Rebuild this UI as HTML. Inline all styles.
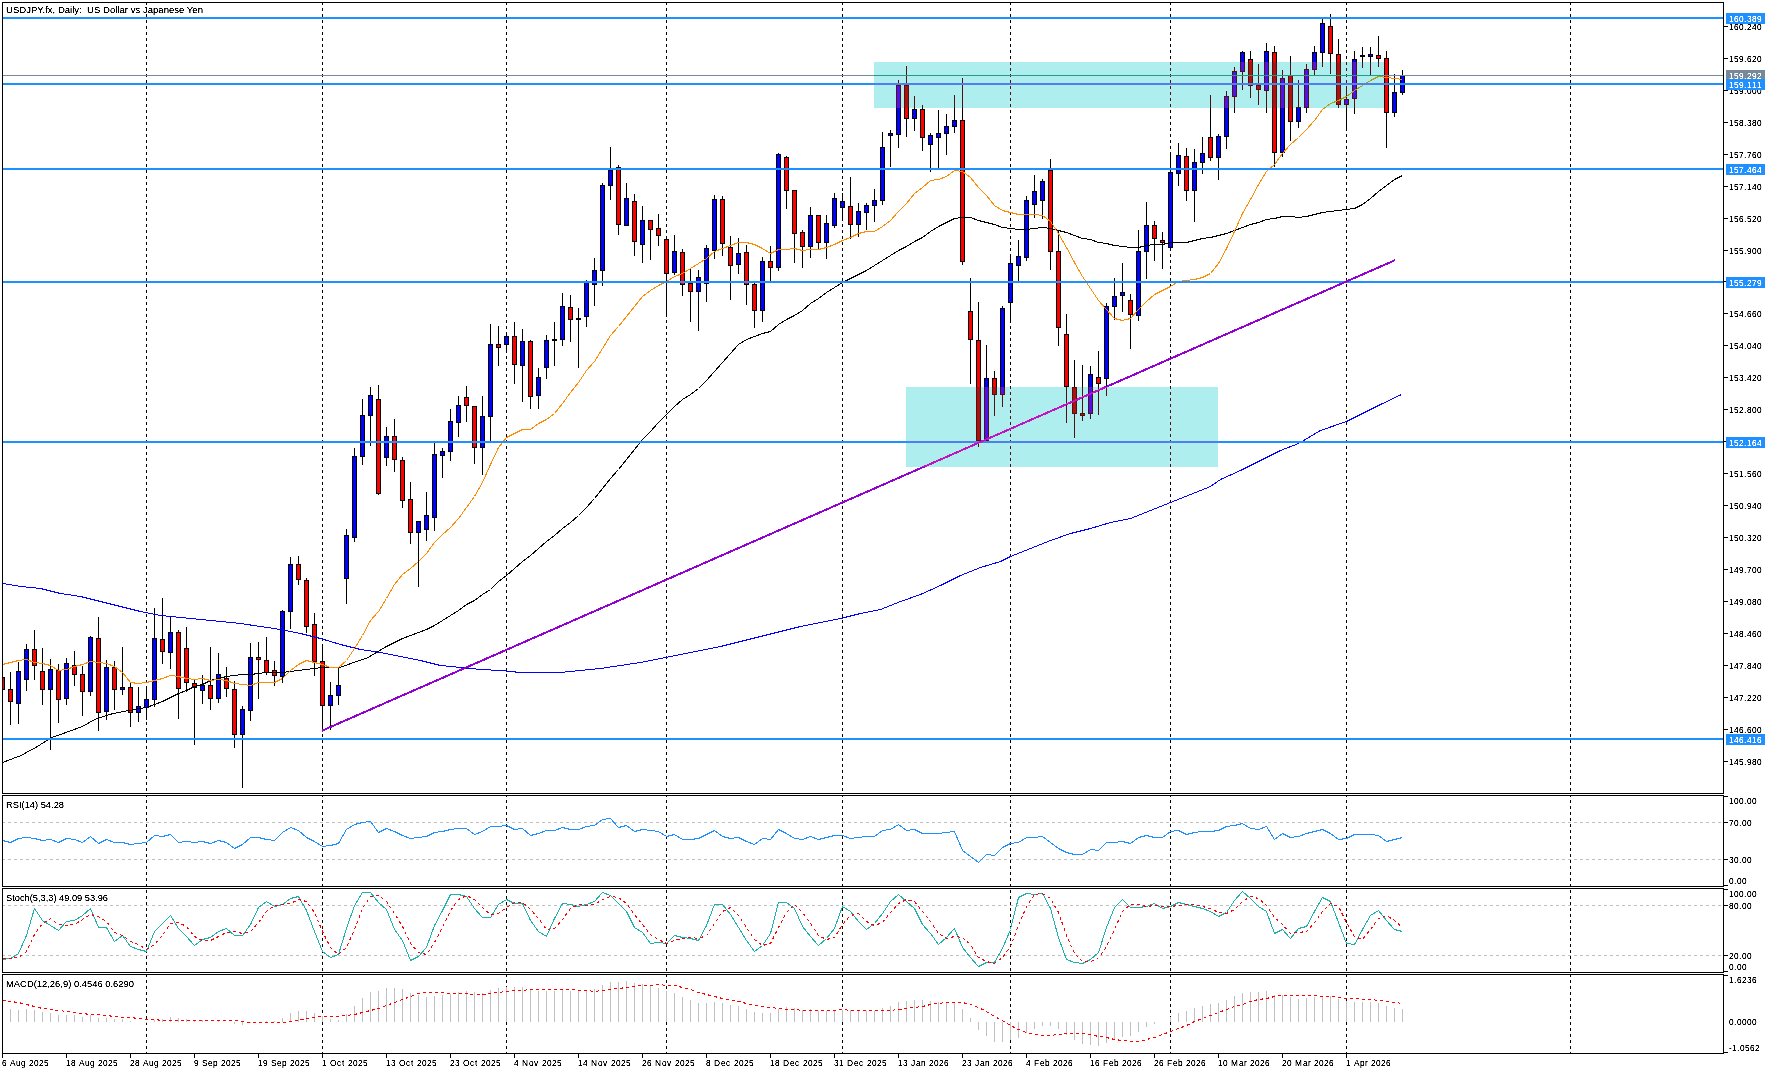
<!DOCTYPE html><html><head><meta charset="utf-8"><style>html,body{margin:0;padding:0;background:#fff;overflow:hidden}svg{display:block}text{font-family:"Liberation Sans",sans-serif;font-size:9.5px;fill:#000;white-space:pre}</style></head><body>
<svg width="1776" height="1074" viewBox="0 0 1776 1074" shape-rendering="crispEdges">
<defs><clipPath id="cm"><rect x="3" y="3" width="1720" height="790"/></clipPath><clipPath id="r1"><rect x="874" y="62" width="510" height="46"/></clipPath><clipPath id="r2"><rect x="906" y="387" width="312" height="80"/></clipPath><filter id="thr"><feComponentTransfer><feFuncA type="linear" slope="2.5" intercept="-0.5"/></feComponentTransfer></filter><clipPath id="csub1"><rect x="3" y="796" width="1720" height="90"/></clipPath><clipPath id="csub2"><rect x="3" y="889" width="1720" height="83"/></clipPath><clipPath id="csub3"><rect x="3" y="975" width="1720" height="78"/></clipPath></defs>
<rect width="1776" height="1074" fill="#fff"/>
<g clip-path="url(#cm)">
<line x1="146.5" y1="2" x2="146.5" y2="793" stroke="rgb(0,0,0)" stroke-dasharray="3 3"/>
<line x1="322.5" y1="2" x2="322.5" y2="793" stroke="rgb(0,0,0)" stroke-dasharray="3 3"/>
<line x1="506.5" y1="2" x2="506.5" y2="793" stroke="rgb(0,0,0)" stroke-dasharray="3 3"/>
<line x1="666.5" y1="2" x2="666.5" y2="793" stroke="rgb(0,0,0)" stroke-dasharray="3 3"/>
<line x1="842.5" y1="2" x2="842.5" y2="793" stroke="rgb(0,0,0)" stroke-dasharray="3 3"/>
<line x1="1010.5" y1="2" x2="1010.5" y2="793" stroke="rgb(0,0,0)" stroke-dasharray="3 3"/>
<line x1="1170.5" y1="2" x2="1170.5" y2="793" stroke="rgb(0,0,0)" stroke-dasharray="3 3"/>
<line x1="1346.5" y1="2" x2="1346.5" y2="793" stroke="rgb(0,0,0)" stroke-dasharray="3 3"/>
<line x1="1570.5" y1="2" x2="1570.5" y2="793" stroke="rgb(0,0,0)" stroke-dasharray="3 3"/>
<rect x="2" y="670" width="1" height="30" fill="rgb(0,0,0)"/>
<rect x="0" y="677" width="5" height="13" fill="rgb(0,0,0)"/>
<rect x="1" y="678" width="3" height="11" fill="rgb(255,0,0)"/>
<rect x="10" y="672" width="1" height="53" fill="rgb(0,0,0)"/>
<rect x="8" y="689" width="5" height="13" fill="rgb(0,0,0)"/>
<rect x="9" y="690" width="3" height="11" fill="rgb(255,0,0)"/>
<rect x="18" y="662" width="1" height="62" fill="rgb(0,0,0)"/>
<rect x="16" y="671" width="5" height="33" fill="rgb(0,0,0)"/>
<rect x="17" y="672" width="3" height="31" fill="rgb(0,0,255)"/>
<rect x="26" y="644" width="1" height="47" fill="rgb(0,0,0)"/>
<rect x="24" y="649" width="5" height="31" fill="rgb(0,0,0)"/>
<rect x="25" y="650" width="3" height="29" fill="rgb(0,0,255)"/>
<rect x="34" y="630" width="1" height="50" fill="rgb(0,0,0)"/>
<rect x="32" y="649" width="5" height="17" fill="rgb(0,0,0)"/>
<rect x="33" y="650" width="3" height="15" fill="rgb(255,0,0)"/>
<rect x="42" y="648" width="1" height="57" fill="rgb(0,0,0)"/>
<rect x="40" y="671" width="5" height="19" fill="rgb(0,0,0)"/>
<rect x="41" y="672" width="3" height="17" fill="rgb(255,0,0)"/>
<rect x="50" y="659" width="1" height="91" fill="rgb(0,0,0)"/>
<rect x="48" y="669" width="5" height="21" fill="rgb(0,0,0)"/>
<rect x="49" y="670" width="3" height="19" fill="rgb(0,0,255)"/>
<rect x="58" y="664" width="1" height="59" fill="rgb(0,0,0)"/>
<rect x="56" y="670" width="5" height="30" fill="rgb(0,0,0)"/>
<rect x="57" y="671" width="3" height="28" fill="rgb(255,0,0)"/>
<rect x="66" y="658" width="1" height="47" fill="rgb(0,0,0)"/>
<rect x="64" y="663" width="5" height="36" fill="rgb(0,0,0)"/>
<rect x="65" y="664" width="3" height="34" fill="rgb(0,0,255)"/>
<rect x="74" y="651" width="1" height="35" fill="rgb(0,0,0)"/>
<rect x="72" y="665" width="5" height="10" fill="rgb(0,0,0)"/>
<rect x="73" y="666" width="3" height="8" fill="rgb(255,0,0)"/>
<rect x="82" y="666" width="1" height="50" fill="rgb(0,0,0)"/>
<rect x="80" y="674" width="5" height="18" fill="rgb(0,0,0)"/>
<rect x="81" y="675" width="3" height="16" fill="rgb(255,0,0)"/>
<rect x="90" y="636" width="1" height="60" fill="rgb(0,0,0)"/>
<rect x="88" y="637" width="5" height="55" fill="rgb(0,0,0)"/>
<rect x="89" y="638" width="3" height="53" fill="rgb(0,0,255)"/>
<rect x="98" y="617" width="1" height="114" fill="rgb(0,0,0)"/>
<rect x="96" y="638" width="5" height="75" fill="rgb(0,0,0)"/>
<rect x="97" y="639" width="3" height="73" fill="rgb(255,0,0)"/>
<rect x="106" y="660" width="1" height="60" fill="rgb(0,0,0)"/>
<rect x="104" y="667" width="5" height="45" fill="rgb(0,0,0)"/>
<rect x="105" y="668" width="3" height="43" fill="rgb(0,0,255)"/>
<rect x="114" y="661" width="1" height="49" fill="rgb(0,0,0)"/>
<rect x="112" y="667" width="5" height="23" fill="rgb(0,0,0)"/>
<rect x="113" y="668" width="3" height="21" fill="rgb(255,0,0)"/>
<rect x="122" y="647" width="1" height="48" fill="rgb(0,0,0)"/>
<rect x="120" y="687" width="5" height="3" fill="rgb(0,0,0)"/>
<rect x="121" y="688" width="3" height="1" fill="rgb(0,0,255)"/>
<rect x="130" y="683" width="1" height="44" fill="rgb(0,0,0)"/>
<rect x="128" y="687" width="5" height="26" fill="rgb(0,0,0)"/>
<rect x="129" y="688" width="3" height="24" fill="rgb(255,0,0)"/>
<rect x="138" y="687" width="1" height="35" fill="rgb(0,0,0)"/>
<rect x="136" y="706" width="5" height="7" fill="rgb(0,0,0)"/>
<rect x="137" y="707" width="3" height="5" fill="rgb(0,0,255)"/>
<rect x="146" y="686" width="1" height="34" fill="rgb(0,0,0)"/>
<rect x="144" y="699" width="5" height="9" fill="rgb(0,0,0)"/>
<rect x="145" y="700" width="3" height="7" fill="rgb(0,0,255)"/>
<rect x="154" y="608" width="1" height="99" fill="rgb(0,0,0)"/>
<rect x="152" y="638" width="5" height="62" fill="rgb(0,0,0)"/>
<rect x="153" y="639" width="3" height="60" fill="rgb(0,0,255)"/>
<rect x="162" y="598" width="1" height="66" fill="rgb(0,0,0)"/>
<rect x="160" y="639" width="5" height="13" fill="rgb(0,0,0)"/>
<rect x="161" y="640" width="3" height="11" fill="rgb(255,0,0)"/>
<rect x="170" y="616" width="1" height="53" fill="rgb(0,0,0)"/>
<rect x="168" y="632" width="5" height="21" fill="rgb(0,0,0)"/>
<rect x="169" y="633" width="3" height="19" fill="rgb(0,0,255)"/>
<rect x="178" y="630" width="1" height="89" fill="rgb(0,0,0)"/>
<rect x="176" y="632" width="5" height="57" fill="rgb(0,0,0)"/>
<rect x="177" y="633" width="3" height="55" fill="rgb(255,0,0)"/>
<rect x="186" y="627" width="1" height="65" fill="rgb(0,0,0)"/>
<rect x="184" y="648" width="5" height="35" fill="rgb(0,0,0)"/>
<rect x="185" y="649" width="3" height="33" fill="rgb(255,0,0)"/>
<rect x="194" y="680" width="1" height="65" fill="rgb(0,0,0)"/>
<rect x="192" y="683" width="5" height="5" fill="rgb(0,0,0)"/>
<rect x="193" y="684" width="3" height="3" fill="rgb(255,0,0)"/>
<rect x="202" y="675" width="1" height="29" fill="rgb(0,0,0)"/>
<rect x="200" y="685" width="5" height="6" fill="rgb(0,0,0)"/>
<rect x="201" y="686" width="3" height="4" fill="rgb(0,0,255)"/>
<rect x="210" y="647" width="1" height="63" fill="rgb(0,0,0)"/>
<rect x="208" y="685" width="5" height="14" fill="rgb(0,0,0)"/>
<rect x="209" y="686" width="3" height="12" fill="rgb(255,0,0)"/>
<rect x="218" y="653" width="1" height="50" fill="rgb(0,0,0)"/>
<rect x="216" y="674" width="5" height="25" fill="rgb(0,0,0)"/>
<rect x="217" y="675" width="3" height="23" fill="rgb(0,0,255)"/>
<rect x="226" y="667" width="1" height="30" fill="rgb(0,0,0)"/>
<rect x="224" y="678" width="5" height="11" fill="rgb(0,0,0)"/>
<rect x="225" y="679" width="3" height="9" fill="rgb(255,0,0)"/>
<rect x="234" y="681" width="1" height="67" fill="rgb(0,0,0)"/>
<rect x="232" y="689" width="5" height="46" fill="rgb(0,0,0)"/>
<rect x="233" y="690" width="3" height="44" fill="rgb(255,0,0)"/>
<rect x="242" y="706" width="1" height="82" fill="rgb(0,0,0)"/>
<rect x="240" y="709" width="5" height="26" fill="rgb(0,0,0)"/>
<rect x="241" y="710" width="3" height="24" fill="rgb(0,0,255)"/>
<rect x="250" y="643" width="1" height="78" fill="rgb(0,0,0)"/>
<rect x="248" y="657" width="5" height="54" fill="rgb(0,0,0)"/>
<rect x="249" y="658" width="3" height="52" fill="rgb(0,0,255)"/>
<rect x="258" y="642" width="1" height="57" fill="rgb(0,0,0)"/>
<rect x="256" y="657" width="5" height="3" fill="rgb(0,0,0)"/>
<rect x="257" y="658" width="3" height="1" fill="rgb(255,0,0)"/>
<rect x="266" y="637" width="1" height="38" fill="rgb(0,0,0)"/>
<rect x="264" y="660" width="5" height="13" fill="rgb(0,0,0)"/>
<rect x="265" y="661" width="3" height="11" fill="rgb(255,0,0)"/>
<rect x="274" y="661" width="1" height="25" fill="rgb(0,0,0)"/>
<rect x="272" y="670" width="5" height="6" fill="rgb(0,0,0)"/>
<rect x="273" y="671" width="3" height="4" fill="rgb(255,0,0)"/>
<rect x="282" y="610" width="1" height="73" fill="rgb(0,0,0)"/>
<rect x="280" y="611" width="5" height="66" fill="rgb(0,0,0)"/>
<rect x="281" y="612" width="3" height="64" fill="rgb(0,0,255)"/>
<rect x="290" y="557" width="1" height="72" fill="rgb(0,0,0)"/>
<rect x="288" y="564" width="5" height="48" fill="rgb(0,0,0)"/>
<rect x="289" y="565" width="3" height="46" fill="rgb(0,0,255)"/>
<rect x="298" y="556" width="1" height="29" fill="rgb(0,0,0)"/>
<rect x="296" y="564" width="5" height="16" fill="rgb(0,0,0)"/>
<rect x="297" y="565" width="3" height="14" fill="rgb(255,0,0)"/>
<rect x="306" y="578" width="1" height="55" fill="rgb(0,0,0)"/>
<rect x="304" y="580" width="5" height="47" fill="rgb(0,0,0)"/>
<rect x="305" y="581" width="3" height="45" fill="rgb(255,0,0)"/>
<rect x="314" y="613" width="1" height="63" fill="rgb(0,0,0)"/>
<rect x="312" y="624" width="5" height="38" fill="rgb(0,0,0)"/>
<rect x="313" y="625" width="3" height="36" fill="rgb(255,0,0)"/>
<rect x="322" y="644" width="1" height="86" fill="rgb(0,0,0)"/>
<rect x="320" y="661" width="5" height="45" fill="rgb(0,0,0)"/>
<rect x="321" y="662" width="3" height="43" fill="rgb(255,0,0)"/>
<rect x="330" y="682" width="1" height="48" fill="rgb(0,0,0)"/>
<rect x="328" y="695" width="5" height="11" fill="rgb(0,0,0)"/>
<rect x="329" y="696" width="3" height="9" fill="rgb(0,0,255)"/>
<rect x="338" y="667" width="1" height="38" fill="rgb(0,0,0)"/>
<rect x="336" y="685" width="5" height="11" fill="rgb(0,0,0)"/>
<rect x="337" y="686" width="3" height="9" fill="rgb(0,0,255)"/>
<rect x="346" y="529" width="1" height="75" fill="rgb(0,0,0)"/>
<rect x="344" y="535" width="5" height="44" fill="rgb(0,0,0)"/>
<rect x="345" y="536" width="3" height="42" fill="rgb(0,0,255)"/>
<rect x="354" y="448" width="1" height="94" fill="rgb(0,0,0)"/>
<rect x="352" y="456" width="5" height="82" fill="rgb(0,0,0)"/>
<rect x="353" y="457" width="3" height="80" fill="rgb(0,0,255)"/>
<rect x="362" y="399" width="1" height="66" fill="rgb(0,0,0)"/>
<rect x="360" y="415" width="5" height="42" fill="rgb(0,0,0)"/>
<rect x="361" y="416" width="3" height="40" fill="rgb(0,0,255)"/>
<rect x="370" y="387" width="1" height="59" fill="rgb(0,0,0)"/>
<rect x="368" y="395" width="5" height="21" fill="rgb(0,0,0)"/>
<rect x="369" y="396" width="3" height="19" fill="rgb(0,0,255)"/>
<rect x="378" y="385" width="1" height="110" fill="rgb(0,0,0)"/>
<rect x="376" y="399" width="5" height="95" fill="rgb(0,0,0)"/>
<rect x="377" y="400" width="3" height="93" fill="rgb(255,0,0)"/>
<rect x="386" y="427" width="1" height="39" fill="rgb(0,0,0)"/>
<rect x="384" y="436" width="5" height="22" fill="rgb(0,0,0)"/>
<rect x="385" y="437" width="3" height="20" fill="rgb(0,0,255)"/>
<rect x="394" y="419" width="1" height="53" fill="rgb(0,0,0)"/>
<rect x="392" y="436" width="5" height="24" fill="rgb(0,0,0)"/>
<rect x="393" y="437" width="3" height="22" fill="rgb(255,0,0)"/>
<rect x="402" y="457" width="1" height="51" fill="rgb(0,0,0)"/>
<rect x="400" y="460" width="5" height="41" fill="rgb(0,0,0)"/>
<rect x="401" y="461" width="3" height="39" fill="rgb(255,0,0)"/>
<rect x="410" y="482" width="1" height="62" fill="rgb(0,0,0)"/>
<rect x="408" y="499" width="5" height="34" fill="rgb(0,0,0)"/>
<rect x="409" y="500" width="3" height="32" fill="rgb(255,0,0)"/>
<rect x="418" y="521" width="1" height="66" fill="rgb(0,0,0)"/>
<rect x="416" y="521" width="5" height="12" fill="rgb(0,0,0)"/>
<rect x="417" y="522" width="3" height="10" fill="rgb(0,0,255)"/>
<rect x="426" y="492" width="1" height="49" fill="rgb(0,0,0)"/>
<rect x="424" y="515" width="5" height="15" fill="rgb(0,0,0)"/>
<rect x="425" y="516" width="3" height="13" fill="rgb(0,0,255)"/>
<rect x="434" y="443" width="1" height="88" fill="rgb(0,0,0)"/>
<rect x="432" y="454" width="5" height="64" fill="rgb(0,0,0)"/>
<rect x="433" y="455" width="3" height="62" fill="rgb(0,0,255)"/>
<rect x="442" y="448" width="1" height="30" fill="rgb(0,0,0)"/>
<rect x="440" y="451" width="5" height="5" fill="rgb(0,0,0)"/>
<rect x="441" y="452" width="3" height="3" fill="rgb(0,0,255)"/>
<rect x="450" y="409" width="1" height="52" fill="rgb(0,0,0)"/>
<rect x="448" y="421" width="5" height="31" fill="rgb(0,0,0)"/>
<rect x="449" y="422" width="3" height="29" fill="rgb(0,0,255)"/>
<rect x="458" y="396" width="1" height="41" fill="rgb(0,0,0)"/>
<rect x="456" y="405" width="5" height="18" fill="rgb(0,0,0)"/>
<rect x="457" y="406" width="3" height="16" fill="rgb(0,0,255)"/>
<rect x="466" y="386" width="1" height="36" fill="rgb(0,0,0)"/>
<rect x="464" y="397" width="5" height="9" fill="rgb(0,0,0)"/>
<rect x="465" y="398" width="3" height="7" fill="rgb(255,0,0)"/>
<rect x="474" y="406" width="1" height="58" fill="rgb(0,0,0)"/>
<rect x="472" y="406" width="5" height="42" fill="rgb(0,0,0)"/>
<rect x="473" y="407" width="3" height="40" fill="rgb(255,0,0)"/>
<rect x="482" y="396" width="1" height="79" fill="rgb(0,0,0)"/>
<rect x="480" y="416" width="5" height="32" fill="rgb(0,0,0)"/>
<rect x="481" y="417" width="3" height="30" fill="rgb(0,0,255)"/>
<rect x="490" y="324" width="1" height="118" fill="rgb(0,0,0)"/>
<rect x="488" y="344" width="5" height="73" fill="rgb(0,0,0)"/>
<rect x="489" y="345" width="3" height="71" fill="rgb(0,0,255)"/>
<rect x="498" y="326" width="1" height="40" fill="rgb(0,0,0)"/>
<rect x="496" y="344" width="5" height="4" fill="rgb(0,0,0)"/>
<rect x="497" y="345" width="3" height="2" fill="rgb(255,0,0)"/>
<rect x="506" y="333" width="1" height="19" fill="rgb(0,0,0)"/>
<rect x="504" y="336" width="5" height="9" fill="rgb(0,0,0)"/>
<rect x="505" y="337" width="3" height="7" fill="rgb(0,0,255)"/>
<rect x="514" y="322" width="1" height="62" fill="rgb(0,0,0)"/>
<rect x="512" y="336" width="5" height="29" fill="rgb(0,0,0)"/>
<rect x="513" y="337" width="3" height="27" fill="rgb(255,0,0)"/>
<rect x="522" y="329" width="1" height="73" fill="rgb(0,0,0)"/>
<rect x="520" y="341" width="5" height="25" fill="rgb(0,0,0)"/>
<rect x="521" y="342" width="3" height="23" fill="rgb(0,0,255)"/>
<rect x="530" y="340" width="1" height="69" fill="rgb(0,0,0)"/>
<rect x="528" y="341" width="5" height="56" fill="rgb(0,0,0)"/>
<rect x="529" y="342" width="3" height="54" fill="rgb(255,0,0)"/>
<rect x="538" y="368" width="1" height="41" fill="rgb(0,0,0)"/>
<rect x="536" y="377" width="5" height="19" fill="rgb(0,0,0)"/>
<rect x="537" y="378" width="3" height="17" fill="rgb(0,0,255)"/>
<rect x="546" y="335" width="1" height="44" fill="rgb(0,0,0)"/>
<rect x="544" y="340" width="5" height="28" fill="rgb(0,0,0)"/>
<rect x="545" y="341" width="3" height="26" fill="rgb(0,0,255)"/>
<rect x="554" y="322" width="1" height="44" fill="rgb(0,0,0)"/>
<rect x="552" y="339" width="5" height="2" fill="rgb(0,0,0)"/>
<rect x="562" y="293" width="1" height="53" fill="rgb(0,0,0)"/>
<rect x="560" y="306" width="5" height="34" fill="rgb(0,0,0)"/>
<rect x="561" y="307" width="3" height="32" fill="rgb(0,0,255)"/>
<rect x="570" y="295" width="1" height="47" fill="rgb(0,0,0)"/>
<rect x="568" y="307" width="5" height="13" fill="rgb(0,0,0)"/>
<rect x="569" y="308" width="3" height="11" fill="rgb(255,0,0)"/>
<rect x="578" y="308" width="1" height="60" fill="rgb(0,0,0)"/>
<rect x="576" y="318" width="5" height="2" fill="rgb(0,0,0)"/>
<rect x="586" y="280" width="1" height="47" fill="rgb(0,0,0)"/>
<rect x="584" y="282" width="5" height="35" fill="rgb(0,0,0)"/>
<rect x="585" y="283" width="3" height="33" fill="rgb(0,0,255)"/>
<rect x="594" y="258" width="1" height="48" fill="rgb(0,0,0)"/>
<rect x="592" y="270" width="5" height="15" fill="rgb(0,0,0)"/>
<rect x="593" y="271" width="3" height="13" fill="rgb(0,0,255)"/>
<rect x="602" y="183" width="1" height="103" fill="rgb(0,0,0)"/>
<rect x="600" y="185" width="5" height="86" fill="rgb(0,0,0)"/>
<rect x="601" y="186" width="3" height="84" fill="rgb(0,0,255)"/>
<rect x="610" y="147" width="1" height="53" fill="rgb(0,0,0)"/>
<rect x="608" y="170" width="5" height="16" fill="rgb(0,0,0)"/>
<rect x="609" y="171" width="3" height="14" fill="rgb(0,0,255)"/>
<rect x="618" y="165" width="1" height="70" fill="rgb(0,0,0)"/>
<rect x="616" y="167" width="5" height="58" fill="rgb(0,0,0)"/>
<rect x="617" y="168" width="3" height="56" fill="rgb(255,0,0)"/>
<rect x="626" y="183" width="1" height="43" fill="rgb(0,0,0)"/>
<rect x="624" y="198" width="5" height="28" fill="rgb(0,0,0)"/>
<rect x="625" y="199" width="3" height="26" fill="rgb(0,0,255)"/>
<rect x="634" y="194" width="1" height="62" fill="rgb(0,0,0)"/>
<rect x="632" y="201" width="5" height="41" fill="rgb(0,0,0)"/>
<rect x="633" y="202" width="3" height="39" fill="rgb(255,0,0)"/>
<rect x="642" y="206" width="1" height="57" fill="rgb(0,0,0)"/>
<rect x="640" y="220" width="5" height="25" fill="rgb(0,0,0)"/>
<rect x="641" y="221" width="3" height="23" fill="rgb(0,0,255)"/>
<rect x="650" y="220" width="1" height="40" fill="rgb(0,0,0)"/>
<rect x="648" y="220" width="5" height="10" fill="rgb(0,0,0)"/>
<rect x="649" y="221" width="3" height="8" fill="rgb(255,0,0)"/>
<rect x="658" y="214" width="1" height="32" fill="rgb(0,0,0)"/>
<rect x="656" y="228" width="5" height="8" fill="rgb(0,0,0)"/>
<rect x="657" y="229" width="3" height="6" fill="rgb(255,0,0)"/>
<rect x="666" y="236" width="1" height="81" fill="rgb(0,0,0)"/>
<rect x="664" y="239" width="5" height="35" fill="rgb(0,0,0)"/>
<rect x="665" y="240" width="3" height="33" fill="rgb(255,0,0)"/>
<rect x="674" y="235" width="1" height="40" fill="rgb(0,0,0)"/>
<rect x="672" y="251" width="5" height="22" fill="rgb(0,0,0)"/>
<rect x="673" y="252" width="3" height="20" fill="rgb(0,0,255)"/>
<rect x="682" y="249" width="1" height="47" fill="rgb(0,0,0)"/>
<rect x="680" y="252" width="5" height="33" fill="rgb(0,0,0)"/>
<rect x="681" y="253" width="3" height="31" fill="rgb(255,0,0)"/>
<rect x="690" y="268" width="1" height="54" fill="rgb(0,0,0)"/>
<rect x="688" y="283" width="5" height="9" fill="rgb(0,0,0)"/>
<rect x="689" y="284" width="3" height="7" fill="rgb(255,0,0)"/>
<rect x="698" y="270" width="1" height="61" fill="rgb(0,0,0)"/>
<rect x="696" y="277" width="5" height="15" fill="rgb(0,0,0)"/>
<rect x="697" y="278" width="3" height="13" fill="rgb(0,0,255)"/>
<rect x="706" y="245" width="1" height="57" fill="rgb(0,0,0)"/>
<rect x="704" y="248" width="5" height="36" fill="rgb(0,0,0)"/>
<rect x="705" y="249" width="3" height="34" fill="rgb(0,0,255)"/>
<rect x="714" y="195" width="1" height="64" fill="rgb(0,0,0)"/>
<rect x="712" y="199" width="5" height="52" fill="rgb(0,0,0)"/>
<rect x="713" y="200" width="3" height="50" fill="rgb(0,0,255)"/>
<rect x="722" y="196" width="1" height="60" fill="rgb(0,0,0)"/>
<rect x="720" y="199" width="5" height="45" fill="rgb(0,0,0)"/>
<rect x="721" y="200" width="3" height="43" fill="rgb(255,0,0)"/>
<rect x="730" y="236" width="1" height="64" fill="rgb(0,0,0)"/>
<rect x="728" y="247" width="5" height="19" fill="rgb(0,0,0)"/>
<rect x="729" y="248" width="3" height="17" fill="rgb(255,0,0)"/>
<rect x="738" y="238" width="1" height="36" fill="rgb(0,0,0)"/>
<rect x="736" y="253" width="5" height="12" fill="rgb(0,0,0)"/>
<rect x="737" y="254" width="3" height="10" fill="rgb(0,0,255)"/>
<rect x="746" y="245" width="1" height="60" fill="rgb(0,0,0)"/>
<rect x="744" y="252" width="5" height="33" fill="rgb(0,0,0)"/>
<rect x="745" y="253" width="3" height="31" fill="rgb(255,0,0)"/>
<rect x="754" y="283" width="1" height="45" fill="rgb(0,0,0)"/>
<rect x="752" y="284" width="5" height="27" fill="rgb(0,0,0)"/>
<rect x="753" y="285" width="3" height="25" fill="rgb(255,0,0)"/>
<rect x="762" y="257" width="1" height="65" fill="rgb(0,0,0)"/>
<rect x="760" y="261" width="5" height="50" fill="rgb(0,0,0)"/>
<rect x="761" y="262" width="3" height="48" fill="rgb(0,0,255)"/>
<rect x="770" y="246" width="1" height="36" fill="rgb(0,0,0)"/>
<rect x="768" y="261" width="5" height="7" fill="rgb(0,0,0)"/>
<rect x="769" y="262" width="3" height="5" fill="rgb(255,0,0)"/>
<rect x="778" y="153" width="1" height="118" fill="rgb(0,0,0)"/>
<rect x="776" y="154" width="5" height="114" fill="rgb(0,0,0)"/>
<rect x="777" y="155" width="3" height="112" fill="rgb(0,0,255)"/>
<rect x="786" y="156" width="1" height="53" fill="rgb(0,0,0)"/>
<rect x="784" y="157" width="5" height="34" fill="rgb(0,0,0)"/>
<rect x="785" y="158" width="3" height="32" fill="rgb(255,0,0)"/>
<rect x="794" y="190" width="1" height="73" fill="rgb(0,0,0)"/>
<rect x="792" y="190" width="5" height="44" fill="rgb(0,0,0)"/>
<rect x="793" y="191" width="3" height="42" fill="rgb(255,0,0)"/>
<rect x="802" y="230" width="1" height="38" fill="rgb(0,0,0)"/>
<rect x="800" y="232" width="5" height="15" fill="rgb(0,0,0)"/>
<rect x="801" y="233" width="3" height="13" fill="rgb(255,0,0)"/>
<rect x="810" y="207" width="1" height="51" fill="rgb(0,0,0)"/>
<rect x="808" y="215" width="5" height="32" fill="rgb(0,0,0)"/>
<rect x="809" y="216" width="3" height="30" fill="rgb(0,0,255)"/>
<rect x="818" y="215" width="1" height="34" fill="rgb(0,0,0)"/>
<rect x="816" y="215" width="5" height="28" fill="rgb(0,0,0)"/>
<rect x="817" y="216" width="3" height="26" fill="rgb(255,0,0)"/>
<rect x="826" y="215" width="1" height="44" fill="rgb(0,0,0)"/>
<rect x="824" y="223" width="5" height="20" fill="rgb(0,0,0)"/>
<rect x="825" y="224" width="3" height="18" fill="rgb(0,0,255)"/>
<rect x="834" y="193" width="1" height="35" fill="rgb(0,0,0)"/>
<rect x="832" y="198" width="5" height="28" fill="rgb(0,0,0)"/>
<rect x="833" y="199" width="3" height="26" fill="rgb(0,0,255)"/>
<rect x="842" y="193" width="1" height="28" fill="rgb(0,0,0)"/>
<rect x="840" y="201" width="5" height="7" fill="rgb(0,0,0)"/>
<rect x="841" y="202" width="3" height="5" fill="rgb(0,0,255)"/>
<rect x="850" y="177" width="1" height="62" fill="rgb(0,0,0)"/>
<rect x="848" y="206" width="5" height="19" fill="rgb(0,0,0)"/>
<rect x="849" y="207" width="3" height="17" fill="rgb(255,0,0)"/>
<rect x="858" y="203" width="1" height="34" fill="rgb(0,0,0)"/>
<rect x="856" y="211" width="5" height="14" fill="rgb(0,0,0)"/>
<rect x="857" y="212" width="3" height="12" fill="rgb(0,0,255)"/>
<rect x="866" y="203" width="1" height="27" fill="rgb(0,0,0)"/>
<rect x="864" y="205" width="5" height="8" fill="rgb(0,0,0)"/>
<rect x="865" y="206" width="3" height="6" fill="rgb(0,0,255)"/>
<rect x="874" y="189" width="1" height="33" fill="rgb(0,0,0)"/>
<rect x="872" y="200" width="5" height="6" fill="rgb(0,0,0)"/>
<rect x="873" y="201" width="3" height="4" fill="rgb(0,0,255)"/>
<rect x="882" y="132" width="1" height="73" fill="rgb(0,0,0)"/>
<rect x="880" y="147" width="5" height="54" fill="rgb(0,0,0)"/>
<rect x="881" y="148" width="3" height="52" fill="rgb(0,0,255)"/>
<rect x="890" y="130" width="1" height="37" fill="rgb(0,0,0)"/>
<rect x="888" y="133" width="5" height="3" fill="rgb(0,0,0)"/>
<rect x="889" y="134" width="3" height="1" fill="rgb(0,0,255)"/>
<rect x="898" y="80" width="1" height="68" fill="rgb(0,0,0)"/>
<rect x="896" y="85" width="5" height="50" fill="rgb(0,0,0)"/>
<rect x="897" y="86" width="3" height="48" fill="rgb(0,0,255)"/>
<rect x="906" y="66" width="1" height="71" fill="rgb(0,0,0)"/>
<rect x="904" y="85" width="5" height="34" fill="rgb(0,0,0)"/>
<rect x="905" y="86" width="3" height="32" fill="rgb(255,0,0)"/>
<rect x="914" y="96" width="1" height="35" fill="rgb(0,0,0)"/>
<rect x="912" y="109" width="5" height="10" fill="rgb(0,0,0)"/>
<rect x="913" y="110" width="3" height="8" fill="rgb(0,0,255)"/>
<rect x="922" y="105" width="1" height="46" fill="rgb(0,0,0)"/>
<rect x="920" y="109" width="5" height="29" fill="rgb(0,0,0)"/>
<rect x="921" y="110" width="3" height="27" fill="rgb(255,0,0)"/>
<rect x="930" y="133" width="1" height="39" fill="rgb(0,0,0)"/>
<rect x="928" y="135" width="5" height="10" fill="rgb(0,0,0)"/>
<rect x="929" y="136" width="3" height="8" fill="rgb(0,0,255)"/>
<rect x="938" y="110" width="1" height="59" fill="rgb(0,0,0)"/>
<rect x="936" y="133" width="5" height="5" fill="rgb(0,0,0)"/>
<rect x="937" y="134" width="3" height="3" fill="rgb(0,0,255)"/>
<rect x="946" y="114" width="1" height="41" fill="rgb(0,0,0)"/>
<rect x="944" y="126" width="5" height="8" fill="rgb(0,0,0)"/>
<rect x="945" y="127" width="3" height="6" fill="rgb(0,0,255)"/>
<rect x="954" y="95" width="1" height="38" fill="rgb(0,0,0)"/>
<rect x="952" y="120" width="5" height="7" fill="rgb(0,0,0)"/>
<rect x="953" y="121" width="3" height="5" fill="rgb(0,0,255)"/>
<rect x="962" y="78" width="1" height="187" fill="rgb(0,0,0)"/>
<rect x="960" y="120" width="5" height="142" fill="rgb(0,0,0)"/>
<rect x="961" y="121" width="3" height="140" fill="rgb(255,0,0)"/>
<rect x="970" y="278" width="1" height="106" fill="rgb(0,0,0)"/>
<rect x="968" y="311" width="5" height="29" fill="rgb(0,0,0)"/>
<rect x="969" y="312" width="3" height="27" fill="rgb(255,0,0)"/>
<rect x="978" y="302" width="1" height="145" fill="rgb(0,0,0)"/>
<rect x="976" y="340" width="5" height="101" fill="rgb(0,0,0)"/>
<rect x="977" y="341" width="3" height="99" fill="rgb(255,0,0)"/>
<rect x="986" y="345" width="1" height="96" fill="rgb(0,0,0)"/>
<rect x="984" y="378" width="5" height="63" fill="rgb(0,0,0)"/>
<rect x="985" y="379" width="3" height="61" fill="rgb(0,0,255)"/>
<rect x="994" y="371" width="1" height="45" fill="rgb(0,0,0)"/>
<rect x="992" y="378" width="5" height="17" fill="rgb(0,0,0)"/>
<rect x="993" y="379" width="3" height="15" fill="rgb(255,0,0)"/>
<rect x="1002" y="306" width="1" height="101" fill="rgb(0,0,0)"/>
<rect x="1000" y="308" width="5" height="87" fill="rgb(0,0,0)"/>
<rect x="1001" y="309" width="3" height="85" fill="rgb(0,0,255)"/>
<rect x="1010" y="254" width="1" height="69" fill="rgb(0,0,0)"/>
<rect x="1008" y="263" width="5" height="40" fill="rgb(0,0,0)"/>
<rect x="1009" y="264" width="3" height="38" fill="rgb(0,0,255)"/>
<rect x="1018" y="240" width="1" height="42" fill="rgb(0,0,0)"/>
<rect x="1016" y="256" width="5" height="10" fill="rgb(0,0,0)"/>
<rect x="1017" y="257" width="3" height="8" fill="rgb(0,0,255)"/>
<rect x="1026" y="196" width="1" height="65" fill="rgb(0,0,0)"/>
<rect x="1024" y="200" width="5" height="58" fill="rgb(0,0,0)"/>
<rect x="1025" y="201" width="3" height="56" fill="rgb(0,0,255)"/>
<rect x="1034" y="175" width="1" height="43" fill="rgb(0,0,0)"/>
<rect x="1032" y="191" width="5" height="14" fill="rgb(0,0,0)"/>
<rect x="1033" y="192" width="3" height="12" fill="rgb(0,0,255)"/>
<rect x="1042" y="179" width="1" height="40" fill="rgb(0,0,0)"/>
<rect x="1040" y="181" width="5" height="20" fill="rgb(0,0,0)"/>
<rect x="1041" y="182" width="3" height="18" fill="rgb(0,0,255)"/>
<rect x="1050" y="159" width="1" height="111" fill="rgb(0,0,0)"/>
<rect x="1048" y="170" width="5" height="82" fill="rgb(0,0,0)"/>
<rect x="1049" y="171" width="3" height="80" fill="rgb(255,0,0)"/>
<rect x="1058" y="230" width="1" height="116" fill="rgb(0,0,0)"/>
<rect x="1056" y="251" width="5" height="77" fill="rgb(0,0,0)"/>
<rect x="1057" y="252" width="3" height="75" fill="rgb(255,0,0)"/>
<rect x="1066" y="314" width="1" height="109" fill="rgb(0,0,0)"/>
<rect x="1064" y="334" width="5" height="53" fill="rgb(0,0,0)"/>
<rect x="1065" y="335" width="3" height="51" fill="rgb(255,0,0)"/>
<rect x="1074" y="360" width="1" height="78" fill="rgb(0,0,0)"/>
<rect x="1072" y="387" width="5" height="27" fill="rgb(0,0,0)"/>
<rect x="1073" y="388" width="3" height="25" fill="rgb(255,0,0)"/>
<rect x="1082" y="365" width="1" height="56" fill="rgb(0,0,0)"/>
<rect x="1080" y="413" width="5" height="3" fill="rgb(0,0,0)"/>
<rect x="1081" y="414" width="3" height="1" fill="rgb(255,0,0)"/>
<rect x="1090" y="366" width="1" height="53" fill="rgb(0,0,0)"/>
<rect x="1088" y="374" width="5" height="40" fill="rgb(0,0,0)"/>
<rect x="1089" y="375" width="3" height="38" fill="rgb(0,0,255)"/>
<rect x="1098" y="351" width="1" height="64" fill="rgb(0,0,0)"/>
<rect x="1096" y="377" width="5" height="7" fill="rgb(0,0,0)"/>
<rect x="1097" y="378" width="3" height="5" fill="rgb(255,0,0)"/>
<rect x="1106" y="303" width="1" height="93" fill="rgb(0,0,0)"/>
<rect x="1104" y="306" width="5" height="73" fill="rgb(0,0,0)"/>
<rect x="1105" y="307" width="3" height="71" fill="rgb(0,0,255)"/>
<rect x="1114" y="278" width="1" height="42" fill="rgb(0,0,0)"/>
<rect x="1112" y="296" width="5" height="11" fill="rgb(0,0,0)"/>
<rect x="1113" y="297" width="3" height="9" fill="rgb(0,0,255)"/>
<rect x="1122" y="263" width="1" height="49" fill="rgb(0,0,0)"/>
<rect x="1120" y="292" width="5" height="4" fill="rgb(0,0,0)"/>
<rect x="1121" y="293" width="3" height="2" fill="rgb(0,0,255)"/>
<rect x="1130" y="294" width="1" height="55" fill="rgb(0,0,0)"/>
<rect x="1128" y="300" width="5" height="15" fill="rgb(0,0,0)"/>
<rect x="1129" y="301" width="3" height="13" fill="rgb(255,0,0)"/>
<rect x="1138" y="230" width="1" height="91" fill="rgb(0,0,0)"/>
<rect x="1136" y="251" width="5" height="65" fill="rgb(0,0,0)"/>
<rect x="1137" y="252" width="3" height="63" fill="rgb(0,0,255)"/>
<rect x="1146" y="202" width="1" height="77" fill="rgb(0,0,0)"/>
<rect x="1144" y="225" width="5" height="27" fill="rgb(0,0,0)"/>
<rect x="1145" y="226" width="3" height="25" fill="rgb(0,0,255)"/>
<rect x="1154" y="221" width="1" height="40" fill="rgb(0,0,0)"/>
<rect x="1152" y="225" width="5" height="14" fill="rgb(0,0,0)"/>
<rect x="1153" y="226" width="3" height="12" fill="rgb(255,0,0)"/>
<rect x="1162" y="232" width="1" height="37" fill="rgb(0,0,0)"/>
<rect x="1160" y="240" width="5" height="3" fill="rgb(0,0,0)"/>
<rect x="1161" y="241" width="3" height="1" fill="rgb(255,0,0)"/>
<rect x="1170" y="153" width="1" height="95" fill="rgb(0,0,0)"/>
<rect x="1168" y="172" width="5" height="76" fill="rgb(0,0,0)"/>
<rect x="1169" y="173" width="3" height="74" fill="rgb(0,0,255)"/>
<rect x="1178" y="143" width="1" height="43" fill="rgb(0,0,0)"/>
<rect x="1176" y="155" width="5" height="19" fill="rgb(0,0,0)"/>
<rect x="1177" y="156" width="3" height="17" fill="rgb(0,0,255)"/>
<rect x="1186" y="148" width="1" height="53" fill="rgb(0,0,0)"/>
<rect x="1184" y="156" width="5" height="35" fill="rgb(0,0,0)"/>
<rect x="1185" y="157" width="3" height="33" fill="rgb(255,0,0)"/>
<rect x="1194" y="149" width="1" height="73" fill="rgb(0,0,0)"/>
<rect x="1192" y="162" width="5" height="29" fill="rgb(0,0,0)"/>
<rect x="1193" y="163" width="3" height="27" fill="rgb(0,0,255)"/>
<rect x="1202" y="137" width="1" height="37" fill="rgb(0,0,0)"/>
<rect x="1200" y="153" width="5" height="10" fill="rgb(0,0,0)"/>
<rect x="1201" y="154" width="3" height="8" fill="rgb(0,0,255)"/>
<rect x="1210" y="95" width="1" height="66" fill="rgb(0,0,0)"/>
<rect x="1208" y="137" width="5" height="21" fill="rgb(0,0,0)"/>
<rect x="1209" y="138" width="3" height="19" fill="rgb(255,0,0)"/>
<rect x="1218" y="134" width="1" height="46" fill="rgb(0,0,0)"/>
<rect x="1216" y="136" width="5" height="22" fill="rgb(0,0,0)"/>
<rect x="1217" y="137" width="3" height="20" fill="rgb(0,0,255)"/>
<rect x="1226" y="91" width="1" height="58" fill="rgb(0,0,0)"/>
<rect x="1224" y="96" width="5" height="41" fill="rgb(0,0,0)"/>
<rect x="1225" y="97" width="3" height="39" fill="rgb(0,0,255)"/>
<rect x="1234" y="67" width="1" height="46" fill="rgb(0,0,0)"/>
<rect x="1232" y="71" width="5" height="26" fill="rgb(0,0,0)"/>
<rect x="1233" y="72" width="3" height="24" fill="rgb(0,0,255)"/>
<rect x="1242" y="51" width="1" height="39" fill="rgb(0,0,0)"/>
<rect x="1240" y="52" width="5" height="20" fill="rgb(0,0,0)"/>
<rect x="1241" y="53" width="3" height="18" fill="rgb(0,0,255)"/>
<rect x="1250" y="51" width="1" height="47" fill="rgb(0,0,0)"/>
<rect x="1248" y="59" width="5" height="27" fill="rgb(0,0,0)"/>
<rect x="1249" y="60" width="3" height="25" fill="rgb(255,0,0)"/>
<rect x="1258" y="64" width="1" height="41" fill="rgb(0,0,0)"/>
<rect x="1256" y="85" width="5" height="5" fill="rgb(0,0,0)"/>
<rect x="1257" y="86" width="3" height="3" fill="rgb(255,0,0)"/>
<rect x="1266" y="43" width="1" height="70" fill="rgb(0,0,0)"/>
<rect x="1264" y="51" width="5" height="40" fill="rgb(0,0,0)"/>
<rect x="1265" y="52" width="3" height="38" fill="rgb(0,0,255)"/>
<rect x="1274" y="46" width="1" height="121" fill="rgb(0,0,0)"/>
<rect x="1272" y="52" width="5" height="101" fill="rgb(0,0,0)"/>
<rect x="1273" y="53" width="3" height="99" fill="rgb(255,0,0)"/>
<rect x="1282" y="70" width="1" height="87" fill="rgb(0,0,0)"/>
<rect x="1280" y="78" width="5" height="75" fill="rgb(0,0,0)"/>
<rect x="1281" y="79" width="3" height="73" fill="rgb(0,0,255)"/>
<rect x="1290" y="56" width="1" height="85" fill="rgb(0,0,0)"/>
<rect x="1288" y="75" width="5" height="47" fill="rgb(0,0,0)"/>
<rect x="1289" y="76" width="3" height="45" fill="rgb(255,0,0)"/>
<rect x="1298" y="80" width="1" height="48" fill="rgb(0,0,0)"/>
<rect x="1296" y="107" width="5" height="15" fill="rgb(0,0,0)"/>
<rect x="1297" y="108" width="3" height="13" fill="rgb(0,0,255)"/>
<rect x="1306" y="64" width="1" height="49" fill="rgb(0,0,0)"/>
<rect x="1304" y="69" width="5" height="39" fill="rgb(0,0,0)"/>
<rect x="1305" y="70" width="3" height="37" fill="rgb(0,0,255)"/>
<rect x="1314" y="46" width="1" height="30" fill="rgb(0,0,0)"/>
<rect x="1312" y="52" width="5" height="18" fill="rgb(0,0,0)"/>
<rect x="1313" y="53" width="3" height="16" fill="rgb(0,0,255)"/>
<rect x="1322" y="19" width="1" height="48" fill="rgb(0,0,0)"/>
<rect x="1320" y="23" width="5" height="30" fill="rgb(0,0,0)"/>
<rect x="1321" y="24" width="3" height="28" fill="rgb(0,0,255)"/>
<rect x="1330" y="14" width="1" height="60" fill="rgb(0,0,0)"/>
<rect x="1328" y="26" width="5" height="28" fill="rgb(0,0,0)"/>
<rect x="1329" y="27" width="3" height="26" fill="rgb(255,0,0)"/>
<rect x="1338" y="39" width="1" height="69" fill="rgb(0,0,0)"/>
<rect x="1336" y="54" width="5" height="51" fill="rgb(0,0,0)"/>
<rect x="1337" y="55" width="3" height="49" fill="rgb(255,0,0)"/>
<rect x="1346" y="86" width="1" height="45" fill="rgb(0,0,0)"/>
<rect x="1344" y="99" width="5" height="6" fill="rgb(0,0,0)"/>
<rect x="1345" y="100" width="3" height="4" fill="rgb(0,0,255)"/>
<rect x="1354" y="51" width="1" height="63" fill="rgb(0,0,0)"/>
<rect x="1352" y="59" width="5" height="40" fill="rgb(0,0,0)"/>
<rect x="1353" y="60" width="3" height="38" fill="rgb(0,0,255)"/>
<rect x="1362" y="47" width="1" height="21" fill="rgb(0,0,0)"/>
<rect x="1360" y="55" width="5" height="2" fill="rgb(0,0,0)"/>
<rect x="1370" y="47" width="1" height="29" fill="rgb(0,0,0)"/>
<rect x="1368" y="54" width="5" height="3" fill="rgb(0,0,0)"/>
<rect x="1369" y="55" width="3" height="1" fill="rgb(0,0,255)"/>
<rect x="1378" y="36" width="1" height="31" fill="rgb(0,0,0)"/>
<rect x="1376" y="55" width="5" height="4" fill="rgb(0,0,0)"/>
<rect x="1377" y="56" width="3" height="2" fill="rgb(255,0,0)"/>
<rect x="1386" y="51" width="1" height="97" fill="rgb(0,0,0)"/>
<rect x="1384" y="58" width="5" height="55" fill="rgb(0,0,0)"/>
<rect x="1385" y="59" width="3" height="53" fill="rgb(255,0,0)"/>
<rect x="1394" y="74" width="1" height="43" fill="rgb(0,0,0)"/>
<rect x="1392" y="92" width="5" height="21" fill="rgb(0,0,0)"/>
<rect x="1393" y="93" width="3" height="19" fill="rgb(0,0,255)"/>
<rect x="1402" y="70" width="1" height="25" fill="rgb(0,0,0)"/>
<rect x="1400" y="75" width="5" height="18" fill="rgb(0,0,0)"/>
<rect x="1401" y="76" width="3" height="16" fill="rgb(0,0,255)"/>
<polyline points="2.5,583.5 20.5,586.5 40.5,588.5 60.5,593.5 80.5,596.5 100.5,601.5 120.5,606.5 140.5,611.5 160.5,615.5 180.5,617.5 200.5,619.5 220.5,621.5 240.5,623.5 260.5,626.5 280.5,629.5 300.5,633.5 320.5,638.5 340.5,644.5 360.5,649.5 380.5,652.5 400.5,656.5 420.5,660.5 440.5,665.5 460.5,667.5 480.5,669.5 500.5,670.5 520.5,672.5 540.5,672.5 550.5,672.5 560.5,672.5 580.5,670.5 600.5,668.5 620.5,665.5 640.5,662.5 660.5,658.5 680.5,654.5 700.5,650.5 720.5,646.5 740.5,641.5 760.5,636.5 780.5,631.5 800.5,626.5 820.5,622.5 840.5,618.5 860.5,613.5 880.5,609.5 900.5,601.5 920.5,594.5 940.5,585.5 960.5,575.5 980.5,567.5 1000.5,561.5 1010.5,556.5 1020.5,552.5 1040.5,544.5 1050.5,540.5 1070.5,533.5 1090.5,528.5 1110.5,522.5 1130.5,518.5 1150.5,510.5 1170.5,502.5 1190.5,494.5 1210.5,486.5 1220.5,479.5 1240.5,470.5 1260.5,460.5 1280.5,450.5 1298.5,443.5 1320.5,430.5 1346.5,421.5 1360.5,414.5 1380.5,404.5 1401.5,394.5" fill="none" stroke="rgb(0,0,255)" stroke-width="1"/>
<polyline points="2.5,762.5 21.0,755.5 37.4,746.5 51.7,737.5 66.0,732.5 82.5,726.5 94.7,719.5 109.1,714.5 123.5,711.5 139.8,708.5 146.5,707.5 154.5,704.5 162.5,701.5 170.5,697.5 178.5,693.5 186.5,690.5 194.5,686.5 202.5,684.5 210.5,680.5 218.5,678.5 226.5,676.5 234.5,675.5 242.5,674.5 250.5,674.5 258.5,673.5 266.5,672.5 282.5,672.5 298.5,670.5 306.5,669.5 314.5,668.5 322.5,667.5 330.5,667.5 339.5,667.5 368.1,657.5 386.5,646.5 394.5,642.5 402.5,638.5 410.5,635.5 418.5,632.5 426.5,629.5 434.5,625.5 442.5,620.5 450.5,615.5 458.5,610.5 466.5,604.5 474.5,600.5 482.5,594.5 490.5,589.5 498.5,581.5 506.5,575.5 514.5,568.5 522.5,561.5 530.5,555.5 538.5,548.5 546.5,541.5 554.5,535.5 562.5,528.5 570.5,522.5 578.5,515.5 586.5,507.5 594.5,498.5 602.5,488.5 610.5,478.5 618.5,469.5 626.5,459.5 634.5,449.5 642.5,439.5 650.5,431.5 658.5,422.5 666.5,414.5 674.5,406.5 682.5,399.5 690.5,394.5 698.5,388.5 706.5,380.5 714.5,371.5 722.5,362.5 730.5,353.5 738.5,344.5 746.5,339.5 754.5,336.5 762.5,333.5 770.5,331.5 778.5,324.5 786.5,319.5 794.5,315.5 802.5,310.5 810.5,303.5 818.5,298.5 826.5,292.5 834.5,287.5 842.5,282.5 850.5,278.5 858.5,274.5 866.5,270.5 874.5,265.5 882.5,260.5 890.5,255.5 898.5,250.5 906.5,246.5 914.5,241.5 922.5,237.5 930.5,231.5 938.5,226.5 946.5,222.5 954.5,218.5 962.5,217.5 970.5,217.5 978.5,220.5 986.5,222.5 994.5,224.5 1002.5,227.5 1010.5,228.5 1018.5,229.5 1026.5,229.5 1034.5,228.5 1042.5,227.5 1050.5,228.5 1058.5,230.5 1066.5,232.5 1074.5,235.5 1082.5,238.5 1090.5,239.5 1098.5,242.5 1106.5,243.5 1114.5,245.5 1122.5,246.5 1130.5,247.5 1138.5,247.5 1146.5,245.5 1154.5,244.5 1162.5,244.5 1170.5,242.5 1178.5,242.5 1186.5,242.5 1194.5,240.5 1202.5,238.5 1210.5,237.5 1218.5,235.5 1226.5,233.5 1234.5,230.5 1242.5,227.5 1250.5,224.5 1258.5,222.5 1266.5,219.5 1274.5,218.5 1282.5,216.5 1290.5,216.5 1298.5,217.5 1306.5,216.5 1314.5,214.5 1322.5,212.5 1330.5,211.5 1338.5,210.5 1346.5,209.5 1354.5,208.5 1362.5,204.5 1370.5,198.5 1378.5,191.5 1386.5,185.5 1394.5,179.5 1402.5,175.5" fill="none" stroke="rgb(0,0,0)" stroke-width="1"/>
<polyline points="2.5,664.5 10.5,662.5 18.5,660.5 26.5,659.5 34.5,662.5 42.5,663.5 50.5,665.5 58.5,670.5 66.5,669.5 74.5,666.5 82.5,664.5 90.5,661.5 98.5,662.5 106.5,663.5 114.5,666.5 122.5,672.5 130.5,682.5 138.5,683.5 146.5,682.5 154.5,680.5 162.5,678.5 170.5,675.5 178.5,676.5 186.5,678.5 194.5,679.5 202.5,678.5 210.5,680.5 218.5,679.5 226.5,680.5 234.5,683.5 242.5,684.5 250.5,685.5 258.5,682.5 266.5,682.5 274.5,682.5 282.5,678.5 290.5,670.5 298.5,664.5 306.5,660.5 314.5,662.5 322.5,664.5 330.5,667.5 338.5,667.5 346.5,660.5 354.5,648.5 362.5,635.5 370.5,620.5 378.5,611.5 386.5,598.5 394.5,584.5 402.5,574.5 410.5,568.5 418.5,561.5 426.5,553.5 434.5,542.5 442.5,534.5 450.5,527.5 458.5,518.5 466.5,507.5 474.5,496.5 482.5,482.5 490.5,464.5 498.5,447.5 506.5,437.5 514.5,433.5 522.5,429.5 530.5,429.5 538.5,423.5 546.5,419.5 554.5,413.5 562.5,403.5 570.5,392.5 578.5,382.5 586.5,370.5 594.5,361.5 602.5,348.5 610.5,335.5 618.5,326.5 626.5,316.5 634.5,306.5 642.5,296.5 650.5,290.5 658.5,285.5 666.5,281.5 674.5,276.5 682.5,273.5 690.5,268.5 698.5,263.5 706.5,258.5 714.5,251.5 722.5,248.5 730.5,245.5 738.5,242.5 746.5,242.5 754.5,244.5 762.5,248.5 770.5,253.5 778.5,249.5 786.5,249.5 794.5,248.5 802.5,250.5 810.5,249.5 818.5,249.5 826.5,247.5 834.5,244.5 842.5,240.5 850.5,237.5 858.5,233.5 866.5,231.5 874.5,231.5 882.5,226.5 890.5,220.5 898.5,211.5 906.5,203.5 914.5,193.5 922.5,187.5 930.5,180.5 938.5,179.5 946.5,176.5 954.5,170.5 962.5,171.5 970.5,177.5 978.5,187.5 986.5,195.5 994.5,205.5 1002.5,210.5 1010.5,212.5 1018.5,214.5 1026.5,214.5 1034.5,214.5 1042.5,215.5 1050.5,221.5 1058.5,233.5 1066.5,247.5 1074.5,262.5 1082.5,276.5 1090.5,288.5 1098.5,300.5 1106.5,309.5 1114.5,318.5 1122.5,320.5 1130.5,318.5 1138.5,309.5 1146.5,301.5 1154.5,294.5 1162.5,290.5 1170.5,286.5 1178.5,281.5 1186.5,280.5 1194.5,279.5 1202.5,277.5 1210.5,273.5 1218.5,263.5 1226.5,248.5 1234.5,231.5 1242.5,213.5 1250.5,199.5 1258.5,184.5 1266.5,171.5 1274.5,164.5 1282.5,153.5 1290.5,144.5 1298.5,137.5 1306.5,129.5 1314.5,120.5 1322.5,109.5 1330.5,103.5 1338.5,100.5 1346.5,96.5 1354.5,90.5 1362.5,85.5 1370.5,80.5 1378.5,76.5 1386.5,77.5 1394.5,78.5 1402.5,79.5" fill="none" stroke="rgb(255,140,0)" stroke-width="1"/>
<rect x="2" y="75" width="1721" height="1" fill="rgb(119,136,153)"/>
<rect x="2" y="17" width="1721" height="2" fill="rgb(30,144,255)"/>
<rect x="2" y="83" width="1721" height="2" fill="rgb(30,144,255)"/>
<rect x="2" y="168" width="1721" height="2" fill="rgb(30,144,255)"/>
<rect x="2" y="281" width="1721" height="2" fill="rgb(30,144,255)"/>
<rect x="2" y="441" width="1721" height="2" fill="rgb(30,144,255)"/>
<rect x="2" y="738" width="1721" height="2" fill="rgb(30,144,255)"/>
<line x1="322" y1="730.7" x2="1395" y2="260.2" stroke="rgb(148,0,211)" stroke-width="2"/>
</g>
<g clip-path="url(#r1)"><rect x="0" y="0" width="1776" height="1074" fill="rgb(175,238,238)"/>
<line x1="146.5" y1="2" x2="146.5" y2="793" stroke="rgb(80,17,17)" stroke-dasharray="3 3"/>
<line x1="322.5" y1="2" x2="322.5" y2="793" stroke="rgb(80,17,17)" stroke-dasharray="3 3"/>
<line x1="506.5" y1="2" x2="506.5" y2="793" stroke="rgb(80,17,17)" stroke-dasharray="3 3"/>
<line x1="666.5" y1="2" x2="666.5" y2="793" stroke="rgb(80,17,17)" stroke-dasharray="3 3"/>
<line x1="842.5" y1="2" x2="842.5" y2="793" stroke="rgb(80,17,17)" stroke-dasharray="3 3"/>
<line x1="1010.5" y1="2" x2="1010.5" y2="793" stroke="rgb(80,17,17)" stroke-dasharray="3 3"/>
<line x1="1170.5" y1="2" x2="1170.5" y2="793" stroke="rgb(80,17,17)" stroke-dasharray="3 3"/>
<line x1="1346.5" y1="2" x2="1346.5" y2="793" stroke="rgb(80,17,17)" stroke-dasharray="3 3"/>
<line x1="1570.5" y1="2" x2="1570.5" y2="793" stroke="rgb(80,17,17)" stroke-dasharray="3 3"/>
<rect x="2" y="670" width="1" height="30" fill="rgb(80,17,17)"/>
<rect x="0" y="677" width="5" height="13" fill="rgb(80,17,17)"/>
<rect x="1" y="678" width="3" height="11" fill="rgb(175,17,17)"/>
<rect x="10" y="672" width="1" height="53" fill="rgb(80,17,17)"/>
<rect x="8" y="689" width="5" height="13" fill="rgb(80,17,17)"/>
<rect x="9" y="690" width="3" height="11" fill="rgb(175,17,17)"/>
<rect x="18" y="662" width="1" height="62" fill="rgb(80,17,17)"/>
<rect x="16" y="671" width="5" height="33" fill="rgb(80,17,17)"/>
<rect x="17" y="672" width="3" height="31" fill="rgb(80,17,238)"/>
<rect x="26" y="644" width="1" height="47" fill="rgb(80,17,17)"/>
<rect x="24" y="649" width="5" height="31" fill="rgb(80,17,17)"/>
<rect x="25" y="650" width="3" height="29" fill="rgb(80,17,238)"/>
<rect x="34" y="630" width="1" height="50" fill="rgb(80,17,17)"/>
<rect x="32" y="649" width="5" height="17" fill="rgb(80,17,17)"/>
<rect x="33" y="650" width="3" height="15" fill="rgb(175,17,17)"/>
<rect x="42" y="648" width="1" height="57" fill="rgb(80,17,17)"/>
<rect x="40" y="671" width="5" height="19" fill="rgb(80,17,17)"/>
<rect x="41" y="672" width="3" height="17" fill="rgb(175,17,17)"/>
<rect x="50" y="659" width="1" height="91" fill="rgb(80,17,17)"/>
<rect x="48" y="669" width="5" height="21" fill="rgb(80,17,17)"/>
<rect x="49" y="670" width="3" height="19" fill="rgb(80,17,238)"/>
<rect x="58" y="664" width="1" height="59" fill="rgb(80,17,17)"/>
<rect x="56" y="670" width="5" height="30" fill="rgb(80,17,17)"/>
<rect x="57" y="671" width="3" height="28" fill="rgb(175,17,17)"/>
<rect x="66" y="658" width="1" height="47" fill="rgb(80,17,17)"/>
<rect x="64" y="663" width="5" height="36" fill="rgb(80,17,17)"/>
<rect x="65" y="664" width="3" height="34" fill="rgb(80,17,238)"/>
<rect x="74" y="651" width="1" height="35" fill="rgb(80,17,17)"/>
<rect x="72" y="665" width="5" height="10" fill="rgb(80,17,17)"/>
<rect x="73" y="666" width="3" height="8" fill="rgb(175,17,17)"/>
<rect x="82" y="666" width="1" height="50" fill="rgb(80,17,17)"/>
<rect x="80" y="674" width="5" height="18" fill="rgb(80,17,17)"/>
<rect x="81" y="675" width="3" height="16" fill="rgb(175,17,17)"/>
<rect x="90" y="636" width="1" height="60" fill="rgb(80,17,17)"/>
<rect x="88" y="637" width="5" height="55" fill="rgb(80,17,17)"/>
<rect x="89" y="638" width="3" height="53" fill="rgb(80,17,238)"/>
<rect x="98" y="617" width="1" height="114" fill="rgb(80,17,17)"/>
<rect x="96" y="638" width="5" height="75" fill="rgb(80,17,17)"/>
<rect x="97" y="639" width="3" height="73" fill="rgb(175,17,17)"/>
<rect x="106" y="660" width="1" height="60" fill="rgb(80,17,17)"/>
<rect x="104" y="667" width="5" height="45" fill="rgb(80,17,17)"/>
<rect x="105" y="668" width="3" height="43" fill="rgb(80,17,238)"/>
<rect x="114" y="661" width="1" height="49" fill="rgb(80,17,17)"/>
<rect x="112" y="667" width="5" height="23" fill="rgb(80,17,17)"/>
<rect x="113" y="668" width="3" height="21" fill="rgb(175,17,17)"/>
<rect x="122" y="647" width="1" height="48" fill="rgb(80,17,17)"/>
<rect x="120" y="687" width="5" height="3" fill="rgb(80,17,17)"/>
<rect x="121" y="688" width="3" height="1" fill="rgb(80,17,238)"/>
<rect x="130" y="683" width="1" height="44" fill="rgb(80,17,17)"/>
<rect x="128" y="687" width="5" height="26" fill="rgb(80,17,17)"/>
<rect x="129" y="688" width="3" height="24" fill="rgb(175,17,17)"/>
<rect x="138" y="687" width="1" height="35" fill="rgb(80,17,17)"/>
<rect x="136" y="706" width="5" height="7" fill="rgb(80,17,17)"/>
<rect x="137" y="707" width="3" height="5" fill="rgb(80,17,238)"/>
<rect x="146" y="686" width="1" height="34" fill="rgb(80,17,17)"/>
<rect x="144" y="699" width="5" height="9" fill="rgb(80,17,17)"/>
<rect x="145" y="700" width="3" height="7" fill="rgb(80,17,238)"/>
<rect x="154" y="608" width="1" height="99" fill="rgb(80,17,17)"/>
<rect x="152" y="638" width="5" height="62" fill="rgb(80,17,17)"/>
<rect x="153" y="639" width="3" height="60" fill="rgb(80,17,238)"/>
<rect x="162" y="598" width="1" height="66" fill="rgb(80,17,17)"/>
<rect x="160" y="639" width="5" height="13" fill="rgb(80,17,17)"/>
<rect x="161" y="640" width="3" height="11" fill="rgb(175,17,17)"/>
<rect x="170" y="616" width="1" height="53" fill="rgb(80,17,17)"/>
<rect x="168" y="632" width="5" height="21" fill="rgb(80,17,17)"/>
<rect x="169" y="633" width="3" height="19" fill="rgb(80,17,238)"/>
<rect x="178" y="630" width="1" height="89" fill="rgb(80,17,17)"/>
<rect x="176" y="632" width="5" height="57" fill="rgb(80,17,17)"/>
<rect x="177" y="633" width="3" height="55" fill="rgb(175,17,17)"/>
<rect x="186" y="627" width="1" height="65" fill="rgb(80,17,17)"/>
<rect x="184" y="648" width="5" height="35" fill="rgb(80,17,17)"/>
<rect x="185" y="649" width="3" height="33" fill="rgb(175,17,17)"/>
<rect x="194" y="680" width="1" height="65" fill="rgb(80,17,17)"/>
<rect x="192" y="683" width="5" height="5" fill="rgb(80,17,17)"/>
<rect x="193" y="684" width="3" height="3" fill="rgb(175,17,17)"/>
<rect x="202" y="675" width="1" height="29" fill="rgb(80,17,17)"/>
<rect x="200" y="685" width="5" height="6" fill="rgb(80,17,17)"/>
<rect x="201" y="686" width="3" height="4" fill="rgb(80,17,238)"/>
<rect x="210" y="647" width="1" height="63" fill="rgb(80,17,17)"/>
<rect x="208" y="685" width="5" height="14" fill="rgb(80,17,17)"/>
<rect x="209" y="686" width="3" height="12" fill="rgb(175,17,17)"/>
<rect x="218" y="653" width="1" height="50" fill="rgb(80,17,17)"/>
<rect x="216" y="674" width="5" height="25" fill="rgb(80,17,17)"/>
<rect x="217" y="675" width="3" height="23" fill="rgb(80,17,238)"/>
<rect x="226" y="667" width="1" height="30" fill="rgb(80,17,17)"/>
<rect x="224" y="678" width="5" height="11" fill="rgb(80,17,17)"/>
<rect x="225" y="679" width="3" height="9" fill="rgb(175,17,17)"/>
<rect x="234" y="681" width="1" height="67" fill="rgb(80,17,17)"/>
<rect x="232" y="689" width="5" height="46" fill="rgb(80,17,17)"/>
<rect x="233" y="690" width="3" height="44" fill="rgb(175,17,17)"/>
<rect x="242" y="706" width="1" height="82" fill="rgb(80,17,17)"/>
<rect x="240" y="709" width="5" height="26" fill="rgb(80,17,17)"/>
<rect x="241" y="710" width="3" height="24" fill="rgb(80,17,238)"/>
<rect x="250" y="643" width="1" height="78" fill="rgb(80,17,17)"/>
<rect x="248" y="657" width="5" height="54" fill="rgb(80,17,17)"/>
<rect x="249" y="658" width="3" height="52" fill="rgb(80,17,238)"/>
<rect x="258" y="642" width="1" height="57" fill="rgb(80,17,17)"/>
<rect x="256" y="657" width="5" height="3" fill="rgb(80,17,17)"/>
<rect x="257" y="658" width="3" height="1" fill="rgb(175,17,17)"/>
<rect x="266" y="637" width="1" height="38" fill="rgb(80,17,17)"/>
<rect x="264" y="660" width="5" height="13" fill="rgb(80,17,17)"/>
<rect x="265" y="661" width="3" height="11" fill="rgb(175,17,17)"/>
<rect x="274" y="661" width="1" height="25" fill="rgb(80,17,17)"/>
<rect x="272" y="670" width="5" height="6" fill="rgb(80,17,17)"/>
<rect x="273" y="671" width="3" height="4" fill="rgb(175,17,17)"/>
<rect x="282" y="610" width="1" height="73" fill="rgb(80,17,17)"/>
<rect x="280" y="611" width="5" height="66" fill="rgb(80,17,17)"/>
<rect x="281" y="612" width="3" height="64" fill="rgb(80,17,238)"/>
<rect x="290" y="557" width="1" height="72" fill="rgb(80,17,17)"/>
<rect x="288" y="564" width="5" height="48" fill="rgb(80,17,17)"/>
<rect x="289" y="565" width="3" height="46" fill="rgb(80,17,238)"/>
<rect x="298" y="556" width="1" height="29" fill="rgb(80,17,17)"/>
<rect x="296" y="564" width="5" height="16" fill="rgb(80,17,17)"/>
<rect x="297" y="565" width="3" height="14" fill="rgb(175,17,17)"/>
<rect x="306" y="578" width="1" height="55" fill="rgb(80,17,17)"/>
<rect x="304" y="580" width="5" height="47" fill="rgb(80,17,17)"/>
<rect x="305" y="581" width="3" height="45" fill="rgb(175,17,17)"/>
<rect x="314" y="613" width="1" height="63" fill="rgb(80,17,17)"/>
<rect x="312" y="624" width="5" height="38" fill="rgb(80,17,17)"/>
<rect x="313" y="625" width="3" height="36" fill="rgb(175,17,17)"/>
<rect x="322" y="644" width="1" height="86" fill="rgb(80,17,17)"/>
<rect x="320" y="661" width="5" height="45" fill="rgb(80,17,17)"/>
<rect x="321" y="662" width="3" height="43" fill="rgb(175,17,17)"/>
<rect x="330" y="682" width="1" height="48" fill="rgb(80,17,17)"/>
<rect x="328" y="695" width="5" height="11" fill="rgb(80,17,17)"/>
<rect x="329" y="696" width="3" height="9" fill="rgb(80,17,238)"/>
<rect x="338" y="667" width="1" height="38" fill="rgb(80,17,17)"/>
<rect x="336" y="685" width="5" height="11" fill="rgb(80,17,17)"/>
<rect x="337" y="686" width="3" height="9" fill="rgb(80,17,238)"/>
<rect x="346" y="529" width="1" height="75" fill="rgb(80,17,17)"/>
<rect x="344" y="535" width="5" height="44" fill="rgb(80,17,17)"/>
<rect x="345" y="536" width="3" height="42" fill="rgb(80,17,238)"/>
<rect x="354" y="448" width="1" height="94" fill="rgb(80,17,17)"/>
<rect x="352" y="456" width="5" height="82" fill="rgb(80,17,17)"/>
<rect x="353" y="457" width="3" height="80" fill="rgb(80,17,238)"/>
<rect x="362" y="399" width="1" height="66" fill="rgb(80,17,17)"/>
<rect x="360" y="415" width="5" height="42" fill="rgb(80,17,17)"/>
<rect x="361" y="416" width="3" height="40" fill="rgb(80,17,238)"/>
<rect x="370" y="387" width="1" height="59" fill="rgb(80,17,17)"/>
<rect x="368" y="395" width="5" height="21" fill="rgb(80,17,17)"/>
<rect x="369" y="396" width="3" height="19" fill="rgb(80,17,238)"/>
<rect x="378" y="385" width="1" height="110" fill="rgb(80,17,17)"/>
<rect x="376" y="399" width="5" height="95" fill="rgb(80,17,17)"/>
<rect x="377" y="400" width="3" height="93" fill="rgb(175,17,17)"/>
<rect x="386" y="427" width="1" height="39" fill="rgb(80,17,17)"/>
<rect x="384" y="436" width="5" height="22" fill="rgb(80,17,17)"/>
<rect x="385" y="437" width="3" height="20" fill="rgb(80,17,238)"/>
<rect x="394" y="419" width="1" height="53" fill="rgb(80,17,17)"/>
<rect x="392" y="436" width="5" height="24" fill="rgb(80,17,17)"/>
<rect x="393" y="437" width="3" height="22" fill="rgb(175,17,17)"/>
<rect x="402" y="457" width="1" height="51" fill="rgb(80,17,17)"/>
<rect x="400" y="460" width="5" height="41" fill="rgb(80,17,17)"/>
<rect x="401" y="461" width="3" height="39" fill="rgb(175,17,17)"/>
<rect x="410" y="482" width="1" height="62" fill="rgb(80,17,17)"/>
<rect x="408" y="499" width="5" height="34" fill="rgb(80,17,17)"/>
<rect x="409" y="500" width="3" height="32" fill="rgb(175,17,17)"/>
<rect x="418" y="521" width="1" height="66" fill="rgb(80,17,17)"/>
<rect x="416" y="521" width="5" height="12" fill="rgb(80,17,17)"/>
<rect x="417" y="522" width="3" height="10" fill="rgb(80,17,238)"/>
<rect x="426" y="492" width="1" height="49" fill="rgb(80,17,17)"/>
<rect x="424" y="515" width="5" height="15" fill="rgb(80,17,17)"/>
<rect x="425" y="516" width="3" height="13" fill="rgb(80,17,238)"/>
<rect x="434" y="443" width="1" height="88" fill="rgb(80,17,17)"/>
<rect x="432" y="454" width="5" height="64" fill="rgb(80,17,17)"/>
<rect x="433" y="455" width="3" height="62" fill="rgb(80,17,238)"/>
<rect x="442" y="448" width="1" height="30" fill="rgb(80,17,17)"/>
<rect x="440" y="451" width="5" height="5" fill="rgb(80,17,17)"/>
<rect x="441" y="452" width="3" height="3" fill="rgb(80,17,238)"/>
<rect x="450" y="409" width="1" height="52" fill="rgb(80,17,17)"/>
<rect x="448" y="421" width="5" height="31" fill="rgb(80,17,17)"/>
<rect x="449" y="422" width="3" height="29" fill="rgb(80,17,238)"/>
<rect x="458" y="396" width="1" height="41" fill="rgb(80,17,17)"/>
<rect x="456" y="405" width="5" height="18" fill="rgb(80,17,17)"/>
<rect x="457" y="406" width="3" height="16" fill="rgb(80,17,238)"/>
<rect x="466" y="386" width="1" height="36" fill="rgb(80,17,17)"/>
<rect x="464" y="397" width="5" height="9" fill="rgb(80,17,17)"/>
<rect x="465" y="398" width="3" height="7" fill="rgb(175,17,17)"/>
<rect x="474" y="406" width="1" height="58" fill="rgb(80,17,17)"/>
<rect x="472" y="406" width="5" height="42" fill="rgb(80,17,17)"/>
<rect x="473" y="407" width="3" height="40" fill="rgb(175,17,17)"/>
<rect x="482" y="396" width="1" height="79" fill="rgb(80,17,17)"/>
<rect x="480" y="416" width="5" height="32" fill="rgb(80,17,17)"/>
<rect x="481" y="417" width="3" height="30" fill="rgb(80,17,238)"/>
<rect x="490" y="324" width="1" height="118" fill="rgb(80,17,17)"/>
<rect x="488" y="344" width="5" height="73" fill="rgb(80,17,17)"/>
<rect x="489" y="345" width="3" height="71" fill="rgb(80,17,238)"/>
<rect x="498" y="326" width="1" height="40" fill="rgb(80,17,17)"/>
<rect x="496" y="344" width="5" height="4" fill="rgb(80,17,17)"/>
<rect x="497" y="345" width="3" height="2" fill="rgb(175,17,17)"/>
<rect x="506" y="333" width="1" height="19" fill="rgb(80,17,17)"/>
<rect x="504" y="336" width="5" height="9" fill="rgb(80,17,17)"/>
<rect x="505" y="337" width="3" height="7" fill="rgb(80,17,238)"/>
<rect x="514" y="322" width="1" height="62" fill="rgb(80,17,17)"/>
<rect x="512" y="336" width="5" height="29" fill="rgb(80,17,17)"/>
<rect x="513" y="337" width="3" height="27" fill="rgb(175,17,17)"/>
<rect x="522" y="329" width="1" height="73" fill="rgb(80,17,17)"/>
<rect x="520" y="341" width="5" height="25" fill="rgb(80,17,17)"/>
<rect x="521" y="342" width="3" height="23" fill="rgb(80,17,238)"/>
<rect x="530" y="340" width="1" height="69" fill="rgb(80,17,17)"/>
<rect x="528" y="341" width="5" height="56" fill="rgb(80,17,17)"/>
<rect x="529" y="342" width="3" height="54" fill="rgb(175,17,17)"/>
<rect x="538" y="368" width="1" height="41" fill="rgb(80,17,17)"/>
<rect x="536" y="377" width="5" height="19" fill="rgb(80,17,17)"/>
<rect x="537" y="378" width="3" height="17" fill="rgb(80,17,238)"/>
<rect x="546" y="335" width="1" height="44" fill="rgb(80,17,17)"/>
<rect x="544" y="340" width="5" height="28" fill="rgb(80,17,17)"/>
<rect x="545" y="341" width="3" height="26" fill="rgb(80,17,238)"/>
<rect x="554" y="322" width="1" height="44" fill="rgb(80,17,17)"/>
<rect x="552" y="339" width="5" height="2" fill="rgb(80,17,17)"/>
<rect x="562" y="293" width="1" height="53" fill="rgb(80,17,17)"/>
<rect x="560" y="306" width="5" height="34" fill="rgb(80,17,17)"/>
<rect x="561" y="307" width="3" height="32" fill="rgb(80,17,238)"/>
<rect x="570" y="295" width="1" height="47" fill="rgb(80,17,17)"/>
<rect x="568" y="307" width="5" height="13" fill="rgb(80,17,17)"/>
<rect x="569" y="308" width="3" height="11" fill="rgb(175,17,17)"/>
<rect x="578" y="308" width="1" height="60" fill="rgb(80,17,17)"/>
<rect x="576" y="318" width="5" height="2" fill="rgb(80,17,17)"/>
<rect x="586" y="280" width="1" height="47" fill="rgb(80,17,17)"/>
<rect x="584" y="282" width="5" height="35" fill="rgb(80,17,17)"/>
<rect x="585" y="283" width="3" height="33" fill="rgb(80,17,238)"/>
<rect x="594" y="258" width="1" height="48" fill="rgb(80,17,17)"/>
<rect x="592" y="270" width="5" height="15" fill="rgb(80,17,17)"/>
<rect x="593" y="271" width="3" height="13" fill="rgb(80,17,238)"/>
<rect x="602" y="183" width="1" height="103" fill="rgb(80,17,17)"/>
<rect x="600" y="185" width="5" height="86" fill="rgb(80,17,17)"/>
<rect x="601" y="186" width="3" height="84" fill="rgb(80,17,238)"/>
<rect x="610" y="147" width="1" height="53" fill="rgb(80,17,17)"/>
<rect x="608" y="170" width="5" height="16" fill="rgb(80,17,17)"/>
<rect x="609" y="171" width="3" height="14" fill="rgb(80,17,238)"/>
<rect x="618" y="165" width="1" height="70" fill="rgb(80,17,17)"/>
<rect x="616" y="167" width="5" height="58" fill="rgb(80,17,17)"/>
<rect x="617" y="168" width="3" height="56" fill="rgb(175,17,17)"/>
<rect x="626" y="183" width="1" height="43" fill="rgb(80,17,17)"/>
<rect x="624" y="198" width="5" height="28" fill="rgb(80,17,17)"/>
<rect x="625" y="199" width="3" height="26" fill="rgb(80,17,238)"/>
<rect x="634" y="194" width="1" height="62" fill="rgb(80,17,17)"/>
<rect x="632" y="201" width="5" height="41" fill="rgb(80,17,17)"/>
<rect x="633" y="202" width="3" height="39" fill="rgb(175,17,17)"/>
<rect x="642" y="206" width="1" height="57" fill="rgb(80,17,17)"/>
<rect x="640" y="220" width="5" height="25" fill="rgb(80,17,17)"/>
<rect x="641" y="221" width="3" height="23" fill="rgb(80,17,238)"/>
<rect x="650" y="220" width="1" height="40" fill="rgb(80,17,17)"/>
<rect x="648" y="220" width="5" height="10" fill="rgb(80,17,17)"/>
<rect x="649" y="221" width="3" height="8" fill="rgb(175,17,17)"/>
<rect x="658" y="214" width="1" height="32" fill="rgb(80,17,17)"/>
<rect x="656" y="228" width="5" height="8" fill="rgb(80,17,17)"/>
<rect x="657" y="229" width="3" height="6" fill="rgb(175,17,17)"/>
<rect x="666" y="236" width="1" height="81" fill="rgb(80,17,17)"/>
<rect x="664" y="239" width="5" height="35" fill="rgb(80,17,17)"/>
<rect x="665" y="240" width="3" height="33" fill="rgb(175,17,17)"/>
<rect x="674" y="235" width="1" height="40" fill="rgb(80,17,17)"/>
<rect x="672" y="251" width="5" height="22" fill="rgb(80,17,17)"/>
<rect x="673" y="252" width="3" height="20" fill="rgb(80,17,238)"/>
<rect x="682" y="249" width="1" height="47" fill="rgb(80,17,17)"/>
<rect x="680" y="252" width="5" height="33" fill="rgb(80,17,17)"/>
<rect x="681" y="253" width="3" height="31" fill="rgb(175,17,17)"/>
<rect x="690" y="268" width="1" height="54" fill="rgb(80,17,17)"/>
<rect x="688" y="283" width="5" height="9" fill="rgb(80,17,17)"/>
<rect x="689" y="284" width="3" height="7" fill="rgb(175,17,17)"/>
<rect x="698" y="270" width="1" height="61" fill="rgb(80,17,17)"/>
<rect x="696" y="277" width="5" height="15" fill="rgb(80,17,17)"/>
<rect x="697" y="278" width="3" height="13" fill="rgb(80,17,238)"/>
<rect x="706" y="245" width="1" height="57" fill="rgb(80,17,17)"/>
<rect x="704" y="248" width="5" height="36" fill="rgb(80,17,17)"/>
<rect x="705" y="249" width="3" height="34" fill="rgb(80,17,238)"/>
<rect x="714" y="195" width="1" height="64" fill="rgb(80,17,17)"/>
<rect x="712" y="199" width="5" height="52" fill="rgb(80,17,17)"/>
<rect x="713" y="200" width="3" height="50" fill="rgb(80,17,238)"/>
<rect x="722" y="196" width="1" height="60" fill="rgb(80,17,17)"/>
<rect x="720" y="199" width="5" height="45" fill="rgb(80,17,17)"/>
<rect x="721" y="200" width="3" height="43" fill="rgb(175,17,17)"/>
<rect x="730" y="236" width="1" height="64" fill="rgb(80,17,17)"/>
<rect x="728" y="247" width="5" height="19" fill="rgb(80,17,17)"/>
<rect x="729" y="248" width="3" height="17" fill="rgb(175,17,17)"/>
<rect x="738" y="238" width="1" height="36" fill="rgb(80,17,17)"/>
<rect x="736" y="253" width="5" height="12" fill="rgb(80,17,17)"/>
<rect x="737" y="254" width="3" height="10" fill="rgb(80,17,238)"/>
<rect x="746" y="245" width="1" height="60" fill="rgb(80,17,17)"/>
<rect x="744" y="252" width="5" height="33" fill="rgb(80,17,17)"/>
<rect x="745" y="253" width="3" height="31" fill="rgb(175,17,17)"/>
<rect x="754" y="283" width="1" height="45" fill="rgb(80,17,17)"/>
<rect x="752" y="284" width="5" height="27" fill="rgb(80,17,17)"/>
<rect x="753" y="285" width="3" height="25" fill="rgb(175,17,17)"/>
<rect x="762" y="257" width="1" height="65" fill="rgb(80,17,17)"/>
<rect x="760" y="261" width="5" height="50" fill="rgb(80,17,17)"/>
<rect x="761" y="262" width="3" height="48" fill="rgb(80,17,238)"/>
<rect x="770" y="246" width="1" height="36" fill="rgb(80,17,17)"/>
<rect x="768" y="261" width="5" height="7" fill="rgb(80,17,17)"/>
<rect x="769" y="262" width="3" height="5" fill="rgb(175,17,17)"/>
<rect x="778" y="153" width="1" height="118" fill="rgb(80,17,17)"/>
<rect x="776" y="154" width="5" height="114" fill="rgb(80,17,17)"/>
<rect x="777" y="155" width="3" height="112" fill="rgb(80,17,238)"/>
<rect x="786" y="156" width="1" height="53" fill="rgb(80,17,17)"/>
<rect x="784" y="157" width="5" height="34" fill="rgb(80,17,17)"/>
<rect x="785" y="158" width="3" height="32" fill="rgb(175,17,17)"/>
<rect x="794" y="190" width="1" height="73" fill="rgb(80,17,17)"/>
<rect x="792" y="190" width="5" height="44" fill="rgb(80,17,17)"/>
<rect x="793" y="191" width="3" height="42" fill="rgb(175,17,17)"/>
<rect x="802" y="230" width="1" height="38" fill="rgb(80,17,17)"/>
<rect x="800" y="232" width="5" height="15" fill="rgb(80,17,17)"/>
<rect x="801" y="233" width="3" height="13" fill="rgb(175,17,17)"/>
<rect x="810" y="207" width="1" height="51" fill="rgb(80,17,17)"/>
<rect x="808" y="215" width="5" height="32" fill="rgb(80,17,17)"/>
<rect x="809" y="216" width="3" height="30" fill="rgb(80,17,238)"/>
<rect x="818" y="215" width="1" height="34" fill="rgb(80,17,17)"/>
<rect x="816" y="215" width="5" height="28" fill="rgb(80,17,17)"/>
<rect x="817" y="216" width="3" height="26" fill="rgb(175,17,17)"/>
<rect x="826" y="215" width="1" height="44" fill="rgb(80,17,17)"/>
<rect x="824" y="223" width="5" height="20" fill="rgb(80,17,17)"/>
<rect x="825" y="224" width="3" height="18" fill="rgb(80,17,238)"/>
<rect x="834" y="193" width="1" height="35" fill="rgb(80,17,17)"/>
<rect x="832" y="198" width="5" height="28" fill="rgb(80,17,17)"/>
<rect x="833" y="199" width="3" height="26" fill="rgb(80,17,238)"/>
<rect x="842" y="193" width="1" height="28" fill="rgb(80,17,17)"/>
<rect x="840" y="201" width="5" height="7" fill="rgb(80,17,17)"/>
<rect x="841" y="202" width="3" height="5" fill="rgb(80,17,238)"/>
<rect x="850" y="177" width="1" height="62" fill="rgb(80,17,17)"/>
<rect x="848" y="206" width="5" height="19" fill="rgb(80,17,17)"/>
<rect x="849" y="207" width="3" height="17" fill="rgb(175,17,17)"/>
<rect x="858" y="203" width="1" height="34" fill="rgb(80,17,17)"/>
<rect x="856" y="211" width="5" height="14" fill="rgb(80,17,17)"/>
<rect x="857" y="212" width="3" height="12" fill="rgb(80,17,238)"/>
<rect x="866" y="203" width="1" height="27" fill="rgb(80,17,17)"/>
<rect x="864" y="205" width="5" height="8" fill="rgb(80,17,17)"/>
<rect x="865" y="206" width="3" height="6" fill="rgb(80,17,238)"/>
<rect x="874" y="189" width="1" height="33" fill="rgb(80,17,17)"/>
<rect x="872" y="200" width="5" height="6" fill="rgb(80,17,17)"/>
<rect x="873" y="201" width="3" height="4" fill="rgb(80,17,238)"/>
<rect x="882" y="132" width="1" height="73" fill="rgb(80,17,17)"/>
<rect x="880" y="147" width="5" height="54" fill="rgb(80,17,17)"/>
<rect x="881" y="148" width="3" height="52" fill="rgb(80,17,238)"/>
<rect x="890" y="130" width="1" height="37" fill="rgb(80,17,17)"/>
<rect x="888" y="133" width="5" height="3" fill="rgb(80,17,17)"/>
<rect x="889" y="134" width="3" height="1" fill="rgb(80,17,238)"/>
<rect x="898" y="80" width="1" height="68" fill="rgb(80,17,17)"/>
<rect x="896" y="85" width="5" height="50" fill="rgb(80,17,17)"/>
<rect x="897" y="86" width="3" height="48" fill="rgb(80,17,238)"/>
<rect x="906" y="66" width="1" height="71" fill="rgb(80,17,17)"/>
<rect x="904" y="85" width="5" height="34" fill="rgb(80,17,17)"/>
<rect x="905" y="86" width="3" height="32" fill="rgb(175,17,17)"/>
<rect x="914" y="96" width="1" height="35" fill="rgb(80,17,17)"/>
<rect x="912" y="109" width="5" height="10" fill="rgb(80,17,17)"/>
<rect x="913" y="110" width="3" height="8" fill="rgb(80,17,238)"/>
<rect x="922" y="105" width="1" height="46" fill="rgb(80,17,17)"/>
<rect x="920" y="109" width="5" height="29" fill="rgb(80,17,17)"/>
<rect x="921" y="110" width="3" height="27" fill="rgb(175,17,17)"/>
<rect x="930" y="133" width="1" height="39" fill="rgb(80,17,17)"/>
<rect x="928" y="135" width="5" height="10" fill="rgb(80,17,17)"/>
<rect x="929" y="136" width="3" height="8" fill="rgb(80,17,238)"/>
<rect x="938" y="110" width="1" height="59" fill="rgb(80,17,17)"/>
<rect x="936" y="133" width="5" height="5" fill="rgb(80,17,17)"/>
<rect x="937" y="134" width="3" height="3" fill="rgb(80,17,238)"/>
<rect x="946" y="114" width="1" height="41" fill="rgb(80,17,17)"/>
<rect x="944" y="126" width="5" height="8" fill="rgb(80,17,17)"/>
<rect x="945" y="127" width="3" height="6" fill="rgb(80,17,238)"/>
<rect x="954" y="95" width="1" height="38" fill="rgb(80,17,17)"/>
<rect x="952" y="120" width="5" height="7" fill="rgb(80,17,17)"/>
<rect x="953" y="121" width="3" height="5" fill="rgb(80,17,238)"/>
<rect x="962" y="78" width="1" height="187" fill="rgb(80,17,17)"/>
<rect x="960" y="120" width="5" height="142" fill="rgb(80,17,17)"/>
<rect x="961" y="121" width="3" height="140" fill="rgb(175,17,17)"/>
<rect x="970" y="278" width="1" height="106" fill="rgb(80,17,17)"/>
<rect x="968" y="311" width="5" height="29" fill="rgb(80,17,17)"/>
<rect x="969" y="312" width="3" height="27" fill="rgb(175,17,17)"/>
<rect x="978" y="302" width="1" height="145" fill="rgb(80,17,17)"/>
<rect x="976" y="340" width="5" height="101" fill="rgb(80,17,17)"/>
<rect x="977" y="341" width="3" height="99" fill="rgb(175,17,17)"/>
<rect x="986" y="345" width="1" height="96" fill="rgb(80,17,17)"/>
<rect x="984" y="378" width="5" height="63" fill="rgb(80,17,17)"/>
<rect x="985" y="379" width="3" height="61" fill="rgb(80,17,238)"/>
<rect x="994" y="371" width="1" height="45" fill="rgb(80,17,17)"/>
<rect x="992" y="378" width="5" height="17" fill="rgb(80,17,17)"/>
<rect x="993" y="379" width="3" height="15" fill="rgb(175,17,17)"/>
<rect x="1002" y="306" width="1" height="101" fill="rgb(80,17,17)"/>
<rect x="1000" y="308" width="5" height="87" fill="rgb(80,17,17)"/>
<rect x="1001" y="309" width="3" height="85" fill="rgb(80,17,238)"/>
<rect x="1010" y="254" width="1" height="69" fill="rgb(80,17,17)"/>
<rect x="1008" y="263" width="5" height="40" fill="rgb(80,17,17)"/>
<rect x="1009" y="264" width="3" height="38" fill="rgb(80,17,238)"/>
<rect x="1018" y="240" width="1" height="42" fill="rgb(80,17,17)"/>
<rect x="1016" y="256" width="5" height="10" fill="rgb(80,17,17)"/>
<rect x="1017" y="257" width="3" height="8" fill="rgb(80,17,238)"/>
<rect x="1026" y="196" width="1" height="65" fill="rgb(80,17,17)"/>
<rect x="1024" y="200" width="5" height="58" fill="rgb(80,17,17)"/>
<rect x="1025" y="201" width="3" height="56" fill="rgb(80,17,238)"/>
<rect x="1034" y="175" width="1" height="43" fill="rgb(80,17,17)"/>
<rect x="1032" y="191" width="5" height="14" fill="rgb(80,17,17)"/>
<rect x="1033" y="192" width="3" height="12" fill="rgb(80,17,238)"/>
<rect x="1042" y="179" width="1" height="40" fill="rgb(80,17,17)"/>
<rect x="1040" y="181" width="5" height="20" fill="rgb(80,17,17)"/>
<rect x="1041" y="182" width="3" height="18" fill="rgb(80,17,238)"/>
<rect x="1050" y="159" width="1" height="111" fill="rgb(80,17,17)"/>
<rect x="1048" y="170" width="5" height="82" fill="rgb(80,17,17)"/>
<rect x="1049" y="171" width="3" height="80" fill="rgb(175,17,17)"/>
<rect x="1058" y="230" width="1" height="116" fill="rgb(80,17,17)"/>
<rect x="1056" y="251" width="5" height="77" fill="rgb(80,17,17)"/>
<rect x="1057" y="252" width="3" height="75" fill="rgb(175,17,17)"/>
<rect x="1066" y="314" width="1" height="109" fill="rgb(80,17,17)"/>
<rect x="1064" y="334" width="5" height="53" fill="rgb(80,17,17)"/>
<rect x="1065" y="335" width="3" height="51" fill="rgb(175,17,17)"/>
<rect x="1074" y="360" width="1" height="78" fill="rgb(80,17,17)"/>
<rect x="1072" y="387" width="5" height="27" fill="rgb(80,17,17)"/>
<rect x="1073" y="388" width="3" height="25" fill="rgb(175,17,17)"/>
<rect x="1082" y="365" width="1" height="56" fill="rgb(80,17,17)"/>
<rect x="1080" y="413" width="5" height="3" fill="rgb(80,17,17)"/>
<rect x="1081" y="414" width="3" height="1" fill="rgb(175,17,17)"/>
<rect x="1090" y="366" width="1" height="53" fill="rgb(80,17,17)"/>
<rect x="1088" y="374" width="5" height="40" fill="rgb(80,17,17)"/>
<rect x="1089" y="375" width="3" height="38" fill="rgb(80,17,238)"/>
<rect x="1098" y="351" width="1" height="64" fill="rgb(80,17,17)"/>
<rect x="1096" y="377" width="5" height="7" fill="rgb(80,17,17)"/>
<rect x="1097" y="378" width="3" height="5" fill="rgb(175,17,17)"/>
<rect x="1106" y="303" width="1" height="93" fill="rgb(80,17,17)"/>
<rect x="1104" y="306" width="5" height="73" fill="rgb(80,17,17)"/>
<rect x="1105" y="307" width="3" height="71" fill="rgb(80,17,238)"/>
<rect x="1114" y="278" width="1" height="42" fill="rgb(80,17,17)"/>
<rect x="1112" y="296" width="5" height="11" fill="rgb(80,17,17)"/>
<rect x="1113" y="297" width="3" height="9" fill="rgb(80,17,238)"/>
<rect x="1122" y="263" width="1" height="49" fill="rgb(80,17,17)"/>
<rect x="1120" y="292" width="5" height="4" fill="rgb(80,17,17)"/>
<rect x="1121" y="293" width="3" height="2" fill="rgb(80,17,238)"/>
<rect x="1130" y="294" width="1" height="55" fill="rgb(80,17,17)"/>
<rect x="1128" y="300" width="5" height="15" fill="rgb(80,17,17)"/>
<rect x="1129" y="301" width="3" height="13" fill="rgb(175,17,17)"/>
<rect x="1138" y="230" width="1" height="91" fill="rgb(80,17,17)"/>
<rect x="1136" y="251" width="5" height="65" fill="rgb(80,17,17)"/>
<rect x="1137" y="252" width="3" height="63" fill="rgb(80,17,238)"/>
<rect x="1146" y="202" width="1" height="77" fill="rgb(80,17,17)"/>
<rect x="1144" y="225" width="5" height="27" fill="rgb(80,17,17)"/>
<rect x="1145" y="226" width="3" height="25" fill="rgb(80,17,238)"/>
<rect x="1154" y="221" width="1" height="40" fill="rgb(80,17,17)"/>
<rect x="1152" y="225" width="5" height="14" fill="rgb(80,17,17)"/>
<rect x="1153" y="226" width="3" height="12" fill="rgb(175,17,17)"/>
<rect x="1162" y="232" width="1" height="37" fill="rgb(80,17,17)"/>
<rect x="1160" y="240" width="5" height="3" fill="rgb(80,17,17)"/>
<rect x="1161" y="241" width="3" height="1" fill="rgb(175,17,17)"/>
<rect x="1170" y="153" width="1" height="95" fill="rgb(80,17,17)"/>
<rect x="1168" y="172" width="5" height="76" fill="rgb(80,17,17)"/>
<rect x="1169" y="173" width="3" height="74" fill="rgb(80,17,238)"/>
<rect x="1178" y="143" width="1" height="43" fill="rgb(80,17,17)"/>
<rect x="1176" y="155" width="5" height="19" fill="rgb(80,17,17)"/>
<rect x="1177" y="156" width="3" height="17" fill="rgb(80,17,238)"/>
<rect x="1186" y="148" width="1" height="53" fill="rgb(80,17,17)"/>
<rect x="1184" y="156" width="5" height="35" fill="rgb(80,17,17)"/>
<rect x="1185" y="157" width="3" height="33" fill="rgb(175,17,17)"/>
<rect x="1194" y="149" width="1" height="73" fill="rgb(80,17,17)"/>
<rect x="1192" y="162" width="5" height="29" fill="rgb(80,17,17)"/>
<rect x="1193" y="163" width="3" height="27" fill="rgb(80,17,238)"/>
<rect x="1202" y="137" width="1" height="37" fill="rgb(80,17,17)"/>
<rect x="1200" y="153" width="5" height="10" fill="rgb(80,17,17)"/>
<rect x="1201" y="154" width="3" height="8" fill="rgb(80,17,238)"/>
<rect x="1210" y="95" width="1" height="66" fill="rgb(80,17,17)"/>
<rect x="1208" y="137" width="5" height="21" fill="rgb(80,17,17)"/>
<rect x="1209" y="138" width="3" height="19" fill="rgb(175,17,17)"/>
<rect x="1218" y="134" width="1" height="46" fill="rgb(80,17,17)"/>
<rect x="1216" y="136" width="5" height="22" fill="rgb(80,17,17)"/>
<rect x="1217" y="137" width="3" height="20" fill="rgb(80,17,238)"/>
<rect x="1226" y="91" width="1" height="58" fill="rgb(80,17,17)"/>
<rect x="1224" y="96" width="5" height="41" fill="rgb(80,17,17)"/>
<rect x="1225" y="97" width="3" height="39" fill="rgb(80,17,238)"/>
<rect x="1234" y="67" width="1" height="46" fill="rgb(80,17,17)"/>
<rect x="1232" y="71" width="5" height="26" fill="rgb(80,17,17)"/>
<rect x="1233" y="72" width="3" height="24" fill="rgb(80,17,238)"/>
<rect x="1242" y="51" width="1" height="39" fill="rgb(80,17,17)"/>
<rect x="1240" y="52" width="5" height="20" fill="rgb(80,17,17)"/>
<rect x="1241" y="53" width="3" height="18" fill="rgb(80,17,238)"/>
<rect x="1250" y="51" width="1" height="47" fill="rgb(80,17,17)"/>
<rect x="1248" y="59" width="5" height="27" fill="rgb(80,17,17)"/>
<rect x="1249" y="60" width="3" height="25" fill="rgb(175,17,17)"/>
<rect x="1258" y="64" width="1" height="41" fill="rgb(80,17,17)"/>
<rect x="1256" y="85" width="5" height="5" fill="rgb(80,17,17)"/>
<rect x="1257" y="86" width="3" height="3" fill="rgb(175,17,17)"/>
<rect x="1266" y="43" width="1" height="70" fill="rgb(80,17,17)"/>
<rect x="1264" y="51" width="5" height="40" fill="rgb(80,17,17)"/>
<rect x="1265" y="52" width="3" height="38" fill="rgb(80,17,238)"/>
<rect x="1274" y="46" width="1" height="121" fill="rgb(80,17,17)"/>
<rect x="1272" y="52" width="5" height="101" fill="rgb(80,17,17)"/>
<rect x="1273" y="53" width="3" height="99" fill="rgb(175,17,17)"/>
<rect x="1282" y="70" width="1" height="87" fill="rgb(80,17,17)"/>
<rect x="1280" y="78" width="5" height="75" fill="rgb(80,17,17)"/>
<rect x="1281" y="79" width="3" height="73" fill="rgb(80,17,238)"/>
<rect x="1290" y="56" width="1" height="85" fill="rgb(80,17,17)"/>
<rect x="1288" y="75" width="5" height="47" fill="rgb(80,17,17)"/>
<rect x="1289" y="76" width="3" height="45" fill="rgb(175,17,17)"/>
<rect x="1298" y="80" width="1" height="48" fill="rgb(80,17,17)"/>
<rect x="1296" y="107" width="5" height="15" fill="rgb(80,17,17)"/>
<rect x="1297" y="108" width="3" height="13" fill="rgb(80,17,238)"/>
<rect x="1306" y="64" width="1" height="49" fill="rgb(80,17,17)"/>
<rect x="1304" y="69" width="5" height="39" fill="rgb(80,17,17)"/>
<rect x="1305" y="70" width="3" height="37" fill="rgb(80,17,238)"/>
<rect x="1314" y="46" width="1" height="30" fill="rgb(80,17,17)"/>
<rect x="1312" y="52" width="5" height="18" fill="rgb(80,17,17)"/>
<rect x="1313" y="53" width="3" height="16" fill="rgb(80,17,238)"/>
<rect x="1322" y="19" width="1" height="48" fill="rgb(80,17,17)"/>
<rect x="1320" y="23" width="5" height="30" fill="rgb(80,17,17)"/>
<rect x="1321" y="24" width="3" height="28" fill="rgb(80,17,238)"/>
<rect x="1330" y="14" width="1" height="60" fill="rgb(80,17,17)"/>
<rect x="1328" y="26" width="5" height="28" fill="rgb(80,17,17)"/>
<rect x="1329" y="27" width="3" height="26" fill="rgb(175,17,17)"/>
<rect x="1338" y="39" width="1" height="69" fill="rgb(80,17,17)"/>
<rect x="1336" y="54" width="5" height="51" fill="rgb(80,17,17)"/>
<rect x="1337" y="55" width="3" height="49" fill="rgb(175,17,17)"/>
<rect x="1346" y="86" width="1" height="45" fill="rgb(80,17,17)"/>
<rect x="1344" y="99" width="5" height="6" fill="rgb(80,17,17)"/>
<rect x="1345" y="100" width="3" height="4" fill="rgb(80,17,238)"/>
<rect x="1354" y="51" width="1" height="63" fill="rgb(80,17,17)"/>
<rect x="1352" y="59" width="5" height="40" fill="rgb(80,17,17)"/>
<rect x="1353" y="60" width="3" height="38" fill="rgb(80,17,238)"/>
<rect x="1362" y="47" width="1" height="21" fill="rgb(80,17,17)"/>
<rect x="1360" y="55" width="5" height="2" fill="rgb(80,17,17)"/>
<rect x="1370" y="47" width="1" height="29" fill="rgb(80,17,17)"/>
<rect x="1368" y="54" width="5" height="3" fill="rgb(80,17,17)"/>
<rect x="1369" y="55" width="3" height="1" fill="rgb(80,17,238)"/>
<rect x="1378" y="36" width="1" height="31" fill="rgb(80,17,17)"/>
<rect x="1376" y="55" width="5" height="4" fill="rgb(80,17,17)"/>
<rect x="1377" y="56" width="3" height="2" fill="rgb(175,17,17)"/>
<rect x="1386" y="51" width="1" height="97" fill="rgb(80,17,17)"/>
<rect x="1384" y="58" width="5" height="55" fill="rgb(80,17,17)"/>
<rect x="1385" y="59" width="3" height="53" fill="rgb(175,17,17)"/>
<rect x="1394" y="74" width="1" height="43" fill="rgb(80,17,17)"/>
<rect x="1392" y="92" width="5" height="21" fill="rgb(80,17,17)"/>
<rect x="1393" y="93" width="3" height="19" fill="rgb(80,17,238)"/>
<rect x="1402" y="70" width="1" height="25" fill="rgb(80,17,17)"/>
<rect x="1400" y="75" width="5" height="18" fill="rgb(80,17,17)"/>
<rect x="1401" y="76" width="3" height="16" fill="rgb(80,17,238)"/>
<polyline points="2.5,583.5 20.5,586.5 40.5,588.5 60.5,593.5 80.5,596.5 100.5,601.5 120.5,606.5 140.5,611.5 160.5,615.5 180.5,617.5 200.5,619.5 220.5,621.5 240.5,623.5 260.5,626.5 280.5,629.5 300.5,633.5 320.5,638.5 340.5,644.5 360.5,649.5 380.5,652.5 400.5,656.5 420.5,660.5 440.5,665.5 460.5,667.5 480.5,669.5 500.5,670.5 520.5,672.5 540.5,672.5 550.5,672.5 560.5,672.5 580.5,670.5 600.5,668.5 620.5,665.5 640.5,662.5 660.5,658.5 680.5,654.5 700.5,650.5 720.5,646.5 740.5,641.5 760.5,636.5 780.5,631.5 800.5,626.5 820.5,622.5 840.5,618.5 860.5,613.5 880.5,609.5 900.5,601.5 920.5,594.5 940.5,585.5 960.5,575.5 980.5,567.5 1000.5,561.5 1010.5,556.5 1020.5,552.5 1040.5,544.5 1050.5,540.5 1070.5,533.5 1090.5,528.5 1110.5,522.5 1130.5,518.5 1150.5,510.5 1170.5,502.5 1190.5,494.5 1210.5,486.5 1220.5,479.5 1240.5,470.5 1260.5,460.5 1280.5,450.5 1298.5,443.5 1320.5,430.5 1346.5,421.5 1360.5,414.5 1380.5,404.5 1401.5,394.5" fill="none" stroke="rgb(80,17,238)" stroke-width="1"/>
<polyline points="2.5,762.5 21.0,755.5 37.4,746.5 51.7,737.5 66.0,732.5 82.5,726.5 94.7,719.5 109.1,714.5 123.5,711.5 139.8,708.5 146.5,707.5 154.5,704.5 162.5,701.5 170.5,697.5 178.5,693.5 186.5,690.5 194.5,686.5 202.5,684.5 210.5,680.5 218.5,678.5 226.5,676.5 234.5,675.5 242.5,674.5 250.5,674.5 258.5,673.5 266.5,672.5 282.5,672.5 298.5,670.5 306.5,669.5 314.5,668.5 322.5,667.5 330.5,667.5 339.5,667.5 368.1,657.5 386.5,646.5 394.5,642.5 402.5,638.5 410.5,635.5 418.5,632.5 426.5,629.5 434.5,625.5 442.5,620.5 450.5,615.5 458.5,610.5 466.5,604.5 474.5,600.5 482.5,594.5 490.5,589.5 498.5,581.5 506.5,575.5 514.5,568.5 522.5,561.5 530.5,555.5 538.5,548.5 546.5,541.5 554.5,535.5 562.5,528.5 570.5,522.5 578.5,515.5 586.5,507.5 594.5,498.5 602.5,488.5 610.5,478.5 618.5,469.5 626.5,459.5 634.5,449.5 642.5,439.5 650.5,431.5 658.5,422.5 666.5,414.5 674.5,406.5 682.5,399.5 690.5,394.5 698.5,388.5 706.5,380.5 714.5,371.5 722.5,362.5 730.5,353.5 738.5,344.5 746.5,339.5 754.5,336.5 762.5,333.5 770.5,331.5 778.5,324.5 786.5,319.5 794.5,315.5 802.5,310.5 810.5,303.5 818.5,298.5 826.5,292.5 834.5,287.5 842.5,282.5 850.5,278.5 858.5,274.5 866.5,270.5 874.5,265.5 882.5,260.5 890.5,255.5 898.5,250.5 906.5,246.5 914.5,241.5 922.5,237.5 930.5,231.5 938.5,226.5 946.5,222.5 954.5,218.5 962.5,217.5 970.5,217.5 978.5,220.5 986.5,222.5 994.5,224.5 1002.5,227.5 1010.5,228.5 1018.5,229.5 1026.5,229.5 1034.5,228.5 1042.5,227.5 1050.5,228.5 1058.5,230.5 1066.5,232.5 1074.5,235.5 1082.5,238.5 1090.5,239.5 1098.5,242.5 1106.5,243.5 1114.5,245.5 1122.5,246.5 1130.5,247.5 1138.5,247.5 1146.5,245.5 1154.5,244.5 1162.5,244.5 1170.5,242.5 1178.5,242.5 1186.5,242.5 1194.5,240.5 1202.5,238.5 1210.5,237.5 1218.5,235.5 1226.5,233.5 1234.5,230.5 1242.5,227.5 1250.5,224.5 1258.5,222.5 1266.5,219.5 1274.5,218.5 1282.5,216.5 1290.5,216.5 1298.5,217.5 1306.5,216.5 1314.5,214.5 1322.5,212.5 1330.5,211.5 1338.5,210.5 1346.5,209.5 1354.5,208.5 1362.5,204.5 1370.5,198.5 1378.5,191.5 1386.5,185.5 1394.5,179.5 1402.5,175.5" fill="none" stroke="rgb(80,17,17)" stroke-width="1"/>
<polyline points="2.5,664.5 10.5,662.5 18.5,660.5 26.5,659.5 34.5,662.5 42.5,663.5 50.5,665.5 58.5,670.5 66.5,669.5 74.5,666.5 82.5,664.5 90.5,661.5 98.5,662.5 106.5,663.5 114.5,666.5 122.5,672.5 130.5,682.5 138.5,683.5 146.5,682.5 154.5,680.5 162.5,678.5 170.5,675.5 178.5,676.5 186.5,678.5 194.5,679.5 202.5,678.5 210.5,680.5 218.5,679.5 226.5,680.5 234.5,683.5 242.5,684.5 250.5,685.5 258.5,682.5 266.5,682.5 274.5,682.5 282.5,678.5 290.5,670.5 298.5,664.5 306.5,660.5 314.5,662.5 322.5,664.5 330.5,667.5 338.5,667.5 346.5,660.5 354.5,648.5 362.5,635.5 370.5,620.5 378.5,611.5 386.5,598.5 394.5,584.5 402.5,574.5 410.5,568.5 418.5,561.5 426.5,553.5 434.5,542.5 442.5,534.5 450.5,527.5 458.5,518.5 466.5,507.5 474.5,496.5 482.5,482.5 490.5,464.5 498.5,447.5 506.5,437.5 514.5,433.5 522.5,429.5 530.5,429.5 538.5,423.5 546.5,419.5 554.5,413.5 562.5,403.5 570.5,392.5 578.5,382.5 586.5,370.5 594.5,361.5 602.5,348.5 610.5,335.5 618.5,326.5 626.5,316.5 634.5,306.5 642.5,296.5 650.5,290.5 658.5,285.5 666.5,281.5 674.5,276.5 682.5,273.5 690.5,268.5 698.5,263.5 706.5,258.5 714.5,251.5 722.5,248.5 730.5,245.5 738.5,242.5 746.5,242.5 754.5,244.5 762.5,248.5 770.5,253.5 778.5,249.5 786.5,249.5 794.5,248.5 802.5,250.5 810.5,249.5 818.5,249.5 826.5,247.5 834.5,244.5 842.5,240.5 850.5,237.5 858.5,233.5 866.5,231.5 874.5,231.5 882.5,226.5 890.5,220.5 898.5,211.5 906.5,203.5 914.5,193.5 922.5,187.5 930.5,180.5 938.5,179.5 946.5,176.5 954.5,170.5 962.5,171.5 970.5,177.5 978.5,187.5 986.5,195.5 994.5,205.5 1002.5,210.5 1010.5,212.5 1018.5,214.5 1026.5,214.5 1034.5,214.5 1042.5,215.5 1050.5,221.5 1058.5,233.5 1066.5,247.5 1074.5,262.5 1082.5,276.5 1090.5,288.5 1098.5,300.5 1106.5,309.5 1114.5,318.5 1122.5,320.5 1130.5,318.5 1138.5,309.5 1146.5,301.5 1154.5,294.5 1162.5,290.5 1170.5,286.5 1178.5,281.5 1186.5,280.5 1194.5,279.5 1202.5,277.5 1210.5,273.5 1218.5,263.5 1226.5,248.5 1234.5,231.5 1242.5,213.5 1250.5,199.5 1258.5,184.5 1266.5,171.5 1274.5,164.5 1282.5,153.5 1290.5,144.5 1298.5,137.5 1306.5,129.5 1314.5,120.5 1322.5,109.5 1330.5,103.5 1338.5,100.5 1346.5,96.5 1354.5,90.5 1362.5,85.5 1370.5,80.5 1378.5,76.5 1386.5,77.5 1394.5,78.5 1402.5,79.5" fill="none" stroke="rgb(175,157,17)" stroke-width="1"/>
<rect x="2" y="75" width="1721" height="1" fill="rgb(39,153,136)"/>
<rect x="2" y="17" width="1721" height="2" fill="rgb(78,129,238)"/>
<rect x="2" y="83" width="1721" height="2" fill="rgb(78,129,238)"/>
<rect x="2" y="168" width="1721" height="2" fill="rgb(78,129,238)"/>
<rect x="2" y="281" width="1721" height="2" fill="rgb(78,129,238)"/>
<rect x="2" y="441" width="1721" height="2" fill="rgb(78,129,238)"/>
<rect x="2" y="738" width="1721" height="2" fill="rgb(78,129,238)"/>
<line x1="322" y1="730.7" x2="1395" y2="260.2" stroke="rgb(196,17,194)" stroke-width="2"/>
</g>
<g clip-path="url(#r2)"><rect x="0" y="0" width="1776" height="1074" fill="rgb(175,238,238)"/>
<line x1="146.5" y1="2" x2="146.5" y2="793" stroke="rgb(80,17,17)" stroke-dasharray="3 3"/>
<line x1="322.5" y1="2" x2="322.5" y2="793" stroke="rgb(80,17,17)" stroke-dasharray="3 3"/>
<line x1="506.5" y1="2" x2="506.5" y2="793" stroke="rgb(80,17,17)" stroke-dasharray="3 3"/>
<line x1="666.5" y1="2" x2="666.5" y2="793" stroke="rgb(80,17,17)" stroke-dasharray="3 3"/>
<line x1="842.5" y1="2" x2="842.5" y2="793" stroke="rgb(80,17,17)" stroke-dasharray="3 3"/>
<line x1="1010.5" y1="2" x2="1010.5" y2="793" stroke="rgb(80,17,17)" stroke-dasharray="3 3"/>
<line x1="1170.5" y1="2" x2="1170.5" y2="793" stroke="rgb(80,17,17)" stroke-dasharray="3 3"/>
<line x1="1346.5" y1="2" x2="1346.5" y2="793" stroke="rgb(80,17,17)" stroke-dasharray="3 3"/>
<line x1="1570.5" y1="2" x2="1570.5" y2="793" stroke="rgb(80,17,17)" stroke-dasharray="3 3"/>
<rect x="2" y="670" width="1" height="30" fill="rgb(80,17,17)"/>
<rect x="0" y="677" width="5" height="13" fill="rgb(80,17,17)"/>
<rect x="1" y="678" width="3" height="11" fill="rgb(175,17,17)"/>
<rect x="10" y="672" width="1" height="53" fill="rgb(80,17,17)"/>
<rect x="8" y="689" width="5" height="13" fill="rgb(80,17,17)"/>
<rect x="9" y="690" width="3" height="11" fill="rgb(175,17,17)"/>
<rect x="18" y="662" width="1" height="62" fill="rgb(80,17,17)"/>
<rect x="16" y="671" width="5" height="33" fill="rgb(80,17,17)"/>
<rect x="17" y="672" width="3" height="31" fill="rgb(80,17,238)"/>
<rect x="26" y="644" width="1" height="47" fill="rgb(80,17,17)"/>
<rect x="24" y="649" width="5" height="31" fill="rgb(80,17,17)"/>
<rect x="25" y="650" width="3" height="29" fill="rgb(80,17,238)"/>
<rect x="34" y="630" width="1" height="50" fill="rgb(80,17,17)"/>
<rect x="32" y="649" width="5" height="17" fill="rgb(80,17,17)"/>
<rect x="33" y="650" width="3" height="15" fill="rgb(175,17,17)"/>
<rect x="42" y="648" width="1" height="57" fill="rgb(80,17,17)"/>
<rect x="40" y="671" width="5" height="19" fill="rgb(80,17,17)"/>
<rect x="41" y="672" width="3" height="17" fill="rgb(175,17,17)"/>
<rect x="50" y="659" width="1" height="91" fill="rgb(80,17,17)"/>
<rect x="48" y="669" width="5" height="21" fill="rgb(80,17,17)"/>
<rect x="49" y="670" width="3" height="19" fill="rgb(80,17,238)"/>
<rect x="58" y="664" width="1" height="59" fill="rgb(80,17,17)"/>
<rect x="56" y="670" width="5" height="30" fill="rgb(80,17,17)"/>
<rect x="57" y="671" width="3" height="28" fill="rgb(175,17,17)"/>
<rect x="66" y="658" width="1" height="47" fill="rgb(80,17,17)"/>
<rect x="64" y="663" width="5" height="36" fill="rgb(80,17,17)"/>
<rect x="65" y="664" width="3" height="34" fill="rgb(80,17,238)"/>
<rect x="74" y="651" width="1" height="35" fill="rgb(80,17,17)"/>
<rect x="72" y="665" width="5" height="10" fill="rgb(80,17,17)"/>
<rect x="73" y="666" width="3" height="8" fill="rgb(175,17,17)"/>
<rect x="82" y="666" width="1" height="50" fill="rgb(80,17,17)"/>
<rect x="80" y="674" width="5" height="18" fill="rgb(80,17,17)"/>
<rect x="81" y="675" width="3" height="16" fill="rgb(175,17,17)"/>
<rect x="90" y="636" width="1" height="60" fill="rgb(80,17,17)"/>
<rect x="88" y="637" width="5" height="55" fill="rgb(80,17,17)"/>
<rect x="89" y="638" width="3" height="53" fill="rgb(80,17,238)"/>
<rect x="98" y="617" width="1" height="114" fill="rgb(80,17,17)"/>
<rect x="96" y="638" width="5" height="75" fill="rgb(80,17,17)"/>
<rect x="97" y="639" width="3" height="73" fill="rgb(175,17,17)"/>
<rect x="106" y="660" width="1" height="60" fill="rgb(80,17,17)"/>
<rect x="104" y="667" width="5" height="45" fill="rgb(80,17,17)"/>
<rect x="105" y="668" width="3" height="43" fill="rgb(80,17,238)"/>
<rect x="114" y="661" width="1" height="49" fill="rgb(80,17,17)"/>
<rect x="112" y="667" width="5" height="23" fill="rgb(80,17,17)"/>
<rect x="113" y="668" width="3" height="21" fill="rgb(175,17,17)"/>
<rect x="122" y="647" width="1" height="48" fill="rgb(80,17,17)"/>
<rect x="120" y="687" width="5" height="3" fill="rgb(80,17,17)"/>
<rect x="121" y="688" width="3" height="1" fill="rgb(80,17,238)"/>
<rect x="130" y="683" width="1" height="44" fill="rgb(80,17,17)"/>
<rect x="128" y="687" width="5" height="26" fill="rgb(80,17,17)"/>
<rect x="129" y="688" width="3" height="24" fill="rgb(175,17,17)"/>
<rect x="138" y="687" width="1" height="35" fill="rgb(80,17,17)"/>
<rect x="136" y="706" width="5" height="7" fill="rgb(80,17,17)"/>
<rect x="137" y="707" width="3" height="5" fill="rgb(80,17,238)"/>
<rect x="146" y="686" width="1" height="34" fill="rgb(80,17,17)"/>
<rect x="144" y="699" width="5" height="9" fill="rgb(80,17,17)"/>
<rect x="145" y="700" width="3" height="7" fill="rgb(80,17,238)"/>
<rect x="154" y="608" width="1" height="99" fill="rgb(80,17,17)"/>
<rect x="152" y="638" width="5" height="62" fill="rgb(80,17,17)"/>
<rect x="153" y="639" width="3" height="60" fill="rgb(80,17,238)"/>
<rect x="162" y="598" width="1" height="66" fill="rgb(80,17,17)"/>
<rect x="160" y="639" width="5" height="13" fill="rgb(80,17,17)"/>
<rect x="161" y="640" width="3" height="11" fill="rgb(175,17,17)"/>
<rect x="170" y="616" width="1" height="53" fill="rgb(80,17,17)"/>
<rect x="168" y="632" width="5" height="21" fill="rgb(80,17,17)"/>
<rect x="169" y="633" width="3" height="19" fill="rgb(80,17,238)"/>
<rect x="178" y="630" width="1" height="89" fill="rgb(80,17,17)"/>
<rect x="176" y="632" width="5" height="57" fill="rgb(80,17,17)"/>
<rect x="177" y="633" width="3" height="55" fill="rgb(175,17,17)"/>
<rect x="186" y="627" width="1" height="65" fill="rgb(80,17,17)"/>
<rect x="184" y="648" width="5" height="35" fill="rgb(80,17,17)"/>
<rect x="185" y="649" width="3" height="33" fill="rgb(175,17,17)"/>
<rect x="194" y="680" width="1" height="65" fill="rgb(80,17,17)"/>
<rect x="192" y="683" width="5" height="5" fill="rgb(80,17,17)"/>
<rect x="193" y="684" width="3" height="3" fill="rgb(175,17,17)"/>
<rect x="202" y="675" width="1" height="29" fill="rgb(80,17,17)"/>
<rect x="200" y="685" width="5" height="6" fill="rgb(80,17,17)"/>
<rect x="201" y="686" width="3" height="4" fill="rgb(80,17,238)"/>
<rect x="210" y="647" width="1" height="63" fill="rgb(80,17,17)"/>
<rect x="208" y="685" width="5" height="14" fill="rgb(80,17,17)"/>
<rect x="209" y="686" width="3" height="12" fill="rgb(175,17,17)"/>
<rect x="218" y="653" width="1" height="50" fill="rgb(80,17,17)"/>
<rect x="216" y="674" width="5" height="25" fill="rgb(80,17,17)"/>
<rect x="217" y="675" width="3" height="23" fill="rgb(80,17,238)"/>
<rect x="226" y="667" width="1" height="30" fill="rgb(80,17,17)"/>
<rect x="224" y="678" width="5" height="11" fill="rgb(80,17,17)"/>
<rect x="225" y="679" width="3" height="9" fill="rgb(175,17,17)"/>
<rect x="234" y="681" width="1" height="67" fill="rgb(80,17,17)"/>
<rect x="232" y="689" width="5" height="46" fill="rgb(80,17,17)"/>
<rect x="233" y="690" width="3" height="44" fill="rgb(175,17,17)"/>
<rect x="242" y="706" width="1" height="82" fill="rgb(80,17,17)"/>
<rect x="240" y="709" width="5" height="26" fill="rgb(80,17,17)"/>
<rect x="241" y="710" width="3" height="24" fill="rgb(80,17,238)"/>
<rect x="250" y="643" width="1" height="78" fill="rgb(80,17,17)"/>
<rect x="248" y="657" width="5" height="54" fill="rgb(80,17,17)"/>
<rect x="249" y="658" width="3" height="52" fill="rgb(80,17,238)"/>
<rect x="258" y="642" width="1" height="57" fill="rgb(80,17,17)"/>
<rect x="256" y="657" width="5" height="3" fill="rgb(80,17,17)"/>
<rect x="257" y="658" width="3" height="1" fill="rgb(175,17,17)"/>
<rect x="266" y="637" width="1" height="38" fill="rgb(80,17,17)"/>
<rect x="264" y="660" width="5" height="13" fill="rgb(80,17,17)"/>
<rect x="265" y="661" width="3" height="11" fill="rgb(175,17,17)"/>
<rect x="274" y="661" width="1" height="25" fill="rgb(80,17,17)"/>
<rect x="272" y="670" width="5" height="6" fill="rgb(80,17,17)"/>
<rect x="273" y="671" width="3" height="4" fill="rgb(175,17,17)"/>
<rect x="282" y="610" width="1" height="73" fill="rgb(80,17,17)"/>
<rect x="280" y="611" width="5" height="66" fill="rgb(80,17,17)"/>
<rect x="281" y="612" width="3" height="64" fill="rgb(80,17,238)"/>
<rect x="290" y="557" width="1" height="72" fill="rgb(80,17,17)"/>
<rect x="288" y="564" width="5" height="48" fill="rgb(80,17,17)"/>
<rect x="289" y="565" width="3" height="46" fill="rgb(80,17,238)"/>
<rect x="298" y="556" width="1" height="29" fill="rgb(80,17,17)"/>
<rect x="296" y="564" width="5" height="16" fill="rgb(80,17,17)"/>
<rect x="297" y="565" width="3" height="14" fill="rgb(175,17,17)"/>
<rect x="306" y="578" width="1" height="55" fill="rgb(80,17,17)"/>
<rect x="304" y="580" width="5" height="47" fill="rgb(80,17,17)"/>
<rect x="305" y="581" width="3" height="45" fill="rgb(175,17,17)"/>
<rect x="314" y="613" width="1" height="63" fill="rgb(80,17,17)"/>
<rect x="312" y="624" width="5" height="38" fill="rgb(80,17,17)"/>
<rect x="313" y="625" width="3" height="36" fill="rgb(175,17,17)"/>
<rect x="322" y="644" width="1" height="86" fill="rgb(80,17,17)"/>
<rect x="320" y="661" width="5" height="45" fill="rgb(80,17,17)"/>
<rect x="321" y="662" width="3" height="43" fill="rgb(175,17,17)"/>
<rect x="330" y="682" width="1" height="48" fill="rgb(80,17,17)"/>
<rect x="328" y="695" width="5" height="11" fill="rgb(80,17,17)"/>
<rect x="329" y="696" width="3" height="9" fill="rgb(80,17,238)"/>
<rect x="338" y="667" width="1" height="38" fill="rgb(80,17,17)"/>
<rect x="336" y="685" width="5" height="11" fill="rgb(80,17,17)"/>
<rect x="337" y="686" width="3" height="9" fill="rgb(80,17,238)"/>
<rect x="346" y="529" width="1" height="75" fill="rgb(80,17,17)"/>
<rect x="344" y="535" width="5" height="44" fill="rgb(80,17,17)"/>
<rect x="345" y="536" width="3" height="42" fill="rgb(80,17,238)"/>
<rect x="354" y="448" width="1" height="94" fill="rgb(80,17,17)"/>
<rect x="352" y="456" width="5" height="82" fill="rgb(80,17,17)"/>
<rect x="353" y="457" width="3" height="80" fill="rgb(80,17,238)"/>
<rect x="362" y="399" width="1" height="66" fill="rgb(80,17,17)"/>
<rect x="360" y="415" width="5" height="42" fill="rgb(80,17,17)"/>
<rect x="361" y="416" width="3" height="40" fill="rgb(80,17,238)"/>
<rect x="370" y="387" width="1" height="59" fill="rgb(80,17,17)"/>
<rect x="368" y="395" width="5" height="21" fill="rgb(80,17,17)"/>
<rect x="369" y="396" width="3" height="19" fill="rgb(80,17,238)"/>
<rect x="378" y="385" width="1" height="110" fill="rgb(80,17,17)"/>
<rect x="376" y="399" width="5" height="95" fill="rgb(80,17,17)"/>
<rect x="377" y="400" width="3" height="93" fill="rgb(175,17,17)"/>
<rect x="386" y="427" width="1" height="39" fill="rgb(80,17,17)"/>
<rect x="384" y="436" width="5" height="22" fill="rgb(80,17,17)"/>
<rect x="385" y="437" width="3" height="20" fill="rgb(80,17,238)"/>
<rect x="394" y="419" width="1" height="53" fill="rgb(80,17,17)"/>
<rect x="392" y="436" width="5" height="24" fill="rgb(80,17,17)"/>
<rect x="393" y="437" width="3" height="22" fill="rgb(175,17,17)"/>
<rect x="402" y="457" width="1" height="51" fill="rgb(80,17,17)"/>
<rect x="400" y="460" width="5" height="41" fill="rgb(80,17,17)"/>
<rect x="401" y="461" width="3" height="39" fill="rgb(175,17,17)"/>
<rect x="410" y="482" width="1" height="62" fill="rgb(80,17,17)"/>
<rect x="408" y="499" width="5" height="34" fill="rgb(80,17,17)"/>
<rect x="409" y="500" width="3" height="32" fill="rgb(175,17,17)"/>
<rect x="418" y="521" width="1" height="66" fill="rgb(80,17,17)"/>
<rect x="416" y="521" width="5" height="12" fill="rgb(80,17,17)"/>
<rect x="417" y="522" width="3" height="10" fill="rgb(80,17,238)"/>
<rect x="426" y="492" width="1" height="49" fill="rgb(80,17,17)"/>
<rect x="424" y="515" width="5" height="15" fill="rgb(80,17,17)"/>
<rect x="425" y="516" width="3" height="13" fill="rgb(80,17,238)"/>
<rect x="434" y="443" width="1" height="88" fill="rgb(80,17,17)"/>
<rect x="432" y="454" width="5" height="64" fill="rgb(80,17,17)"/>
<rect x="433" y="455" width="3" height="62" fill="rgb(80,17,238)"/>
<rect x="442" y="448" width="1" height="30" fill="rgb(80,17,17)"/>
<rect x="440" y="451" width="5" height="5" fill="rgb(80,17,17)"/>
<rect x="441" y="452" width="3" height="3" fill="rgb(80,17,238)"/>
<rect x="450" y="409" width="1" height="52" fill="rgb(80,17,17)"/>
<rect x="448" y="421" width="5" height="31" fill="rgb(80,17,17)"/>
<rect x="449" y="422" width="3" height="29" fill="rgb(80,17,238)"/>
<rect x="458" y="396" width="1" height="41" fill="rgb(80,17,17)"/>
<rect x="456" y="405" width="5" height="18" fill="rgb(80,17,17)"/>
<rect x="457" y="406" width="3" height="16" fill="rgb(80,17,238)"/>
<rect x="466" y="386" width="1" height="36" fill="rgb(80,17,17)"/>
<rect x="464" y="397" width="5" height="9" fill="rgb(80,17,17)"/>
<rect x="465" y="398" width="3" height="7" fill="rgb(175,17,17)"/>
<rect x="474" y="406" width="1" height="58" fill="rgb(80,17,17)"/>
<rect x="472" y="406" width="5" height="42" fill="rgb(80,17,17)"/>
<rect x="473" y="407" width="3" height="40" fill="rgb(175,17,17)"/>
<rect x="482" y="396" width="1" height="79" fill="rgb(80,17,17)"/>
<rect x="480" y="416" width="5" height="32" fill="rgb(80,17,17)"/>
<rect x="481" y="417" width="3" height="30" fill="rgb(80,17,238)"/>
<rect x="490" y="324" width="1" height="118" fill="rgb(80,17,17)"/>
<rect x="488" y="344" width="5" height="73" fill="rgb(80,17,17)"/>
<rect x="489" y="345" width="3" height="71" fill="rgb(80,17,238)"/>
<rect x="498" y="326" width="1" height="40" fill="rgb(80,17,17)"/>
<rect x="496" y="344" width="5" height="4" fill="rgb(80,17,17)"/>
<rect x="497" y="345" width="3" height="2" fill="rgb(175,17,17)"/>
<rect x="506" y="333" width="1" height="19" fill="rgb(80,17,17)"/>
<rect x="504" y="336" width="5" height="9" fill="rgb(80,17,17)"/>
<rect x="505" y="337" width="3" height="7" fill="rgb(80,17,238)"/>
<rect x="514" y="322" width="1" height="62" fill="rgb(80,17,17)"/>
<rect x="512" y="336" width="5" height="29" fill="rgb(80,17,17)"/>
<rect x="513" y="337" width="3" height="27" fill="rgb(175,17,17)"/>
<rect x="522" y="329" width="1" height="73" fill="rgb(80,17,17)"/>
<rect x="520" y="341" width="5" height="25" fill="rgb(80,17,17)"/>
<rect x="521" y="342" width="3" height="23" fill="rgb(80,17,238)"/>
<rect x="530" y="340" width="1" height="69" fill="rgb(80,17,17)"/>
<rect x="528" y="341" width="5" height="56" fill="rgb(80,17,17)"/>
<rect x="529" y="342" width="3" height="54" fill="rgb(175,17,17)"/>
<rect x="538" y="368" width="1" height="41" fill="rgb(80,17,17)"/>
<rect x="536" y="377" width="5" height="19" fill="rgb(80,17,17)"/>
<rect x="537" y="378" width="3" height="17" fill="rgb(80,17,238)"/>
<rect x="546" y="335" width="1" height="44" fill="rgb(80,17,17)"/>
<rect x="544" y="340" width="5" height="28" fill="rgb(80,17,17)"/>
<rect x="545" y="341" width="3" height="26" fill="rgb(80,17,238)"/>
<rect x="554" y="322" width="1" height="44" fill="rgb(80,17,17)"/>
<rect x="552" y="339" width="5" height="2" fill="rgb(80,17,17)"/>
<rect x="562" y="293" width="1" height="53" fill="rgb(80,17,17)"/>
<rect x="560" y="306" width="5" height="34" fill="rgb(80,17,17)"/>
<rect x="561" y="307" width="3" height="32" fill="rgb(80,17,238)"/>
<rect x="570" y="295" width="1" height="47" fill="rgb(80,17,17)"/>
<rect x="568" y="307" width="5" height="13" fill="rgb(80,17,17)"/>
<rect x="569" y="308" width="3" height="11" fill="rgb(175,17,17)"/>
<rect x="578" y="308" width="1" height="60" fill="rgb(80,17,17)"/>
<rect x="576" y="318" width="5" height="2" fill="rgb(80,17,17)"/>
<rect x="586" y="280" width="1" height="47" fill="rgb(80,17,17)"/>
<rect x="584" y="282" width="5" height="35" fill="rgb(80,17,17)"/>
<rect x="585" y="283" width="3" height="33" fill="rgb(80,17,238)"/>
<rect x="594" y="258" width="1" height="48" fill="rgb(80,17,17)"/>
<rect x="592" y="270" width="5" height="15" fill="rgb(80,17,17)"/>
<rect x="593" y="271" width="3" height="13" fill="rgb(80,17,238)"/>
<rect x="602" y="183" width="1" height="103" fill="rgb(80,17,17)"/>
<rect x="600" y="185" width="5" height="86" fill="rgb(80,17,17)"/>
<rect x="601" y="186" width="3" height="84" fill="rgb(80,17,238)"/>
<rect x="610" y="147" width="1" height="53" fill="rgb(80,17,17)"/>
<rect x="608" y="170" width="5" height="16" fill="rgb(80,17,17)"/>
<rect x="609" y="171" width="3" height="14" fill="rgb(80,17,238)"/>
<rect x="618" y="165" width="1" height="70" fill="rgb(80,17,17)"/>
<rect x="616" y="167" width="5" height="58" fill="rgb(80,17,17)"/>
<rect x="617" y="168" width="3" height="56" fill="rgb(175,17,17)"/>
<rect x="626" y="183" width="1" height="43" fill="rgb(80,17,17)"/>
<rect x="624" y="198" width="5" height="28" fill="rgb(80,17,17)"/>
<rect x="625" y="199" width="3" height="26" fill="rgb(80,17,238)"/>
<rect x="634" y="194" width="1" height="62" fill="rgb(80,17,17)"/>
<rect x="632" y="201" width="5" height="41" fill="rgb(80,17,17)"/>
<rect x="633" y="202" width="3" height="39" fill="rgb(175,17,17)"/>
<rect x="642" y="206" width="1" height="57" fill="rgb(80,17,17)"/>
<rect x="640" y="220" width="5" height="25" fill="rgb(80,17,17)"/>
<rect x="641" y="221" width="3" height="23" fill="rgb(80,17,238)"/>
<rect x="650" y="220" width="1" height="40" fill="rgb(80,17,17)"/>
<rect x="648" y="220" width="5" height="10" fill="rgb(80,17,17)"/>
<rect x="649" y="221" width="3" height="8" fill="rgb(175,17,17)"/>
<rect x="658" y="214" width="1" height="32" fill="rgb(80,17,17)"/>
<rect x="656" y="228" width="5" height="8" fill="rgb(80,17,17)"/>
<rect x="657" y="229" width="3" height="6" fill="rgb(175,17,17)"/>
<rect x="666" y="236" width="1" height="81" fill="rgb(80,17,17)"/>
<rect x="664" y="239" width="5" height="35" fill="rgb(80,17,17)"/>
<rect x="665" y="240" width="3" height="33" fill="rgb(175,17,17)"/>
<rect x="674" y="235" width="1" height="40" fill="rgb(80,17,17)"/>
<rect x="672" y="251" width="5" height="22" fill="rgb(80,17,17)"/>
<rect x="673" y="252" width="3" height="20" fill="rgb(80,17,238)"/>
<rect x="682" y="249" width="1" height="47" fill="rgb(80,17,17)"/>
<rect x="680" y="252" width="5" height="33" fill="rgb(80,17,17)"/>
<rect x="681" y="253" width="3" height="31" fill="rgb(175,17,17)"/>
<rect x="690" y="268" width="1" height="54" fill="rgb(80,17,17)"/>
<rect x="688" y="283" width="5" height="9" fill="rgb(80,17,17)"/>
<rect x="689" y="284" width="3" height="7" fill="rgb(175,17,17)"/>
<rect x="698" y="270" width="1" height="61" fill="rgb(80,17,17)"/>
<rect x="696" y="277" width="5" height="15" fill="rgb(80,17,17)"/>
<rect x="697" y="278" width="3" height="13" fill="rgb(80,17,238)"/>
<rect x="706" y="245" width="1" height="57" fill="rgb(80,17,17)"/>
<rect x="704" y="248" width="5" height="36" fill="rgb(80,17,17)"/>
<rect x="705" y="249" width="3" height="34" fill="rgb(80,17,238)"/>
<rect x="714" y="195" width="1" height="64" fill="rgb(80,17,17)"/>
<rect x="712" y="199" width="5" height="52" fill="rgb(80,17,17)"/>
<rect x="713" y="200" width="3" height="50" fill="rgb(80,17,238)"/>
<rect x="722" y="196" width="1" height="60" fill="rgb(80,17,17)"/>
<rect x="720" y="199" width="5" height="45" fill="rgb(80,17,17)"/>
<rect x="721" y="200" width="3" height="43" fill="rgb(175,17,17)"/>
<rect x="730" y="236" width="1" height="64" fill="rgb(80,17,17)"/>
<rect x="728" y="247" width="5" height="19" fill="rgb(80,17,17)"/>
<rect x="729" y="248" width="3" height="17" fill="rgb(175,17,17)"/>
<rect x="738" y="238" width="1" height="36" fill="rgb(80,17,17)"/>
<rect x="736" y="253" width="5" height="12" fill="rgb(80,17,17)"/>
<rect x="737" y="254" width="3" height="10" fill="rgb(80,17,238)"/>
<rect x="746" y="245" width="1" height="60" fill="rgb(80,17,17)"/>
<rect x="744" y="252" width="5" height="33" fill="rgb(80,17,17)"/>
<rect x="745" y="253" width="3" height="31" fill="rgb(175,17,17)"/>
<rect x="754" y="283" width="1" height="45" fill="rgb(80,17,17)"/>
<rect x="752" y="284" width="5" height="27" fill="rgb(80,17,17)"/>
<rect x="753" y="285" width="3" height="25" fill="rgb(175,17,17)"/>
<rect x="762" y="257" width="1" height="65" fill="rgb(80,17,17)"/>
<rect x="760" y="261" width="5" height="50" fill="rgb(80,17,17)"/>
<rect x="761" y="262" width="3" height="48" fill="rgb(80,17,238)"/>
<rect x="770" y="246" width="1" height="36" fill="rgb(80,17,17)"/>
<rect x="768" y="261" width="5" height="7" fill="rgb(80,17,17)"/>
<rect x="769" y="262" width="3" height="5" fill="rgb(175,17,17)"/>
<rect x="778" y="153" width="1" height="118" fill="rgb(80,17,17)"/>
<rect x="776" y="154" width="5" height="114" fill="rgb(80,17,17)"/>
<rect x="777" y="155" width="3" height="112" fill="rgb(80,17,238)"/>
<rect x="786" y="156" width="1" height="53" fill="rgb(80,17,17)"/>
<rect x="784" y="157" width="5" height="34" fill="rgb(80,17,17)"/>
<rect x="785" y="158" width="3" height="32" fill="rgb(175,17,17)"/>
<rect x="794" y="190" width="1" height="73" fill="rgb(80,17,17)"/>
<rect x="792" y="190" width="5" height="44" fill="rgb(80,17,17)"/>
<rect x="793" y="191" width="3" height="42" fill="rgb(175,17,17)"/>
<rect x="802" y="230" width="1" height="38" fill="rgb(80,17,17)"/>
<rect x="800" y="232" width="5" height="15" fill="rgb(80,17,17)"/>
<rect x="801" y="233" width="3" height="13" fill="rgb(175,17,17)"/>
<rect x="810" y="207" width="1" height="51" fill="rgb(80,17,17)"/>
<rect x="808" y="215" width="5" height="32" fill="rgb(80,17,17)"/>
<rect x="809" y="216" width="3" height="30" fill="rgb(80,17,238)"/>
<rect x="818" y="215" width="1" height="34" fill="rgb(80,17,17)"/>
<rect x="816" y="215" width="5" height="28" fill="rgb(80,17,17)"/>
<rect x="817" y="216" width="3" height="26" fill="rgb(175,17,17)"/>
<rect x="826" y="215" width="1" height="44" fill="rgb(80,17,17)"/>
<rect x="824" y="223" width="5" height="20" fill="rgb(80,17,17)"/>
<rect x="825" y="224" width="3" height="18" fill="rgb(80,17,238)"/>
<rect x="834" y="193" width="1" height="35" fill="rgb(80,17,17)"/>
<rect x="832" y="198" width="5" height="28" fill="rgb(80,17,17)"/>
<rect x="833" y="199" width="3" height="26" fill="rgb(80,17,238)"/>
<rect x="842" y="193" width="1" height="28" fill="rgb(80,17,17)"/>
<rect x="840" y="201" width="5" height="7" fill="rgb(80,17,17)"/>
<rect x="841" y="202" width="3" height="5" fill="rgb(80,17,238)"/>
<rect x="850" y="177" width="1" height="62" fill="rgb(80,17,17)"/>
<rect x="848" y="206" width="5" height="19" fill="rgb(80,17,17)"/>
<rect x="849" y="207" width="3" height="17" fill="rgb(175,17,17)"/>
<rect x="858" y="203" width="1" height="34" fill="rgb(80,17,17)"/>
<rect x="856" y="211" width="5" height="14" fill="rgb(80,17,17)"/>
<rect x="857" y="212" width="3" height="12" fill="rgb(80,17,238)"/>
<rect x="866" y="203" width="1" height="27" fill="rgb(80,17,17)"/>
<rect x="864" y="205" width="5" height="8" fill="rgb(80,17,17)"/>
<rect x="865" y="206" width="3" height="6" fill="rgb(80,17,238)"/>
<rect x="874" y="189" width="1" height="33" fill="rgb(80,17,17)"/>
<rect x="872" y="200" width="5" height="6" fill="rgb(80,17,17)"/>
<rect x="873" y="201" width="3" height="4" fill="rgb(80,17,238)"/>
<rect x="882" y="132" width="1" height="73" fill="rgb(80,17,17)"/>
<rect x="880" y="147" width="5" height="54" fill="rgb(80,17,17)"/>
<rect x="881" y="148" width="3" height="52" fill="rgb(80,17,238)"/>
<rect x="890" y="130" width="1" height="37" fill="rgb(80,17,17)"/>
<rect x="888" y="133" width="5" height="3" fill="rgb(80,17,17)"/>
<rect x="889" y="134" width="3" height="1" fill="rgb(80,17,238)"/>
<rect x="898" y="80" width="1" height="68" fill="rgb(80,17,17)"/>
<rect x="896" y="85" width="5" height="50" fill="rgb(80,17,17)"/>
<rect x="897" y="86" width="3" height="48" fill="rgb(80,17,238)"/>
<rect x="906" y="66" width="1" height="71" fill="rgb(80,17,17)"/>
<rect x="904" y="85" width="5" height="34" fill="rgb(80,17,17)"/>
<rect x="905" y="86" width="3" height="32" fill="rgb(175,17,17)"/>
<rect x="914" y="96" width="1" height="35" fill="rgb(80,17,17)"/>
<rect x="912" y="109" width="5" height="10" fill="rgb(80,17,17)"/>
<rect x="913" y="110" width="3" height="8" fill="rgb(80,17,238)"/>
<rect x="922" y="105" width="1" height="46" fill="rgb(80,17,17)"/>
<rect x="920" y="109" width="5" height="29" fill="rgb(80,17,17)"/>
<rect x="921" y="110" width="3" height="27" fill="rgb(175,17,17)"/>
<rect x="930" y="133" width="1" height="39" fill="rgb(80,17,17)"/>
<rect x="928" y="135" width="5" height="10" fill="rgb(80,17,17)"/>
<rect x="929" y="136" width="3" height="8" fill="rgb(80,17,238)"/>
<rect x="938" y="110" width="1" height="59" fill="rgb(80,17,17)"/>
<rect x="936" y="133" width="5" height="5" fill="rgb(80,17,17)"/>
<rect x="937" y="134" width="3" height="3" fill="rgb(80,17,238)"/>
<rect x="946" y="114" width="1" height="41" fill="rgb(80,17,17)"/>
<rect x="944" y="126" width="5" height="8" fill="rgb(80,17,17)"/>
<rect x="945" y="127" width="3" height="6" fill="rgb(80,17,238)"/>
<rect x="954" y="95" width="1" height="38" fill="rgb(80,17,17)"/>
<rect x="952" y="120" width="5" height="7" fill="rgb(80,17,17)"/>
<rect x="953" y="121" width="3" height="5" fill="rgb(80,17,238)"/>
<rect x="962" y="78" width="1" height="187" fill="rgb(80,17,17)"/>
<rect x="960" y="120" width="5" height="142" fill="rgb(80,17,17)"/>
<rect x="961" y="121" width="3" height="140" fill="rgb(175,17,17)"/>
<rect x="970" y="278" width="1" height="106" fill="rgb(80,17,17)"/>
<rect x="968" y="311" width="5" height="29" fill="rgb(80,17,17)"/>
<rect x="969" y="312" width="3" height="27" fill="rgb(175,17,17)"/>
<rect x="978" y="302" width="1" height="145" fill="rgb(80,17,17)"/>
<rect x="976" y="340" width="5" height="101" fill="rgb(80,17,17)"/>
<rect x="977" y="341" width="3" height="99" fill="rgb(175,17,17)"/>
<rect x="986" y="345" width="1" height="96" fill="rgb(80,17,17)"/>
<rect x="984" y="378" width="5" height="63" fill="rgb(80,17,17)"/>
<rect x="985" y="379" width="3" height="61" fill="rgb(80,17,238)"/>
<rect x="994" y="371" width="1" height="45" fill="rgb(80,17,17)"/>
<rect x="992" y="378" width="5" height="17" fill="rgb(80,17,17)"/>
<rect x="993" y="379" width="3" height="15" fill="rgb(175,17,17)"/>
<rect x="1002" y="306" width="1" height="101" fill="rgb(80,17,17)"/>
<rect x="1000" y="308" width="5" height="87" fill="rgb(80,17,17)"/>
<rect x="1001" y="309" width="3" height="85" fill="rgb(80,17,238)"/>
<rect x="1010" y="254" width="1" height="69" fill="rgb(80,17,17)"/>
<rect x="1008" y="263" width="5" height="40" fill="rgb(80,17,17)"/>
<rect x="1009" y="264" width="3" height="38" fill="rgb(80,17,238)"/>
<rect x="1018" y="240" width="1" height="42" fill="rgb(80,17,17)"/>
<rect x="1016" y="256" width="5" height="10" fill="rgb(80,17,17)"/>
<rect x="1017" y="257" width="3" height="8" fill="rgb(80,17,238)"/>
<rect x="1026" y="196" width="1" height="65" fill="rgb(80,17,17)"/>
<rect x="1024" y="200" width="5" height="58" fill="rgb(80,17,17)"/>
<rect x="1025" y="201" width="3" height="56" fill="rgb(80,17,238)"/>
<rect x="1034" y="175" width="1" height="43" fill="rgb(80,17,17)"/>
<rect x="1032" y="191" width="5" height="14" fill="rgb(80,17,17)"/>
<rect x="1033" y="192" width="3" height="12" fill="rgb(80,17,238)"/>
<rect x="1042" y="179" width="1" height="40" fill="rgb(80,17,17)"/>
<rect x="1040" y="181" width="5" height="20" fill="rgb(80,17,17)"/>
<rect x="1041" y="182" width="3" height="18" fill="rgb(80,17,238)"/>
<rect x="1050" y="159" width="1" height="111" fill="rgb(80,17,17)"/>
<rect x="1048" y="170" width="5" height="82" fill="rgb(80,17,17)"/>
<rect x="1049" y="171" width="3" height="80" fill="rgb(175,17,17)"/>
<rect x="1058" y="230" width="1" height="116" fill="rgb(80,17,17)"/>
<rect x="1056" y="251" width="5" height="77" fill="rgb(80,17,17)"/>
<rect x="1057" y="252" width="3" height="75" fill="rgb(175,17,17)"/>
<rect x="1066" y="314" width="1" height="109" fill="rgb(80,17,17)"/>
<rect x="1064" y="334" width="5" height="53" fill="rgb(80,17,17)"/>
<rect x="1065" y="335" width="3" height="51" fill="rgb(175,17,17)"/>
<rect x="1074" y="360" width="1" height="78" fill="rgb(80,17,17)"/>
<rect x="1072" y="387" width="5" height="27" fill="rgb(80,17,17)"/>
<rect x="1073" y="388" width="3" height="25" fill="rgb(175,17,17)"/>
<rect x="1082" y="365" width="1" height="56" fill="rgb(80,17,17)"/>
<rect x="1080" y="413" width="5" height="3" fill="rgb(80,17,17)"/>
<rect x="1081" y="414" width="3" height="1" fill="rgb(175,17,17)"/>
<rect x="1090" y="366" width="1" height="53" fill="rgb(80,17,17)"/>
<rect x="1088" y="374" width="5" height="40" fill="rgb(80,17,17)"/>
<rect x="1089" y="375" width="3" height="38" fill="rgb(80,17,238)"/>
<rect x="1098" y="351" width="1" height="64" fill="rgb(80,17,17)"/>
<rect x="1096" y="377" width="5" height="7" fill="rgb(80,17,17)"/>
<rect x="1097" y="378" width="3" height="5" fill="rgb(175,17,17)"/>
<rect x="1106" y="303" width="1" height="93" fill="rgb(80,17,17)"/>
<rect x="1104" y="306" width="5" height="73" fill="rgb(80,17,17)"/>
<rect x="1105" y="307" width="3" height="71" fill="rgb(80,17,238)"/>
<rect x="1114" y="278" width="1" height="42" fill="rgb(80,17,17)"/>
<rect x="1112" y="296" width="5" height="11" fill="rgb(80,17,17)"/>
<rect x="1113" y="297" width="3" height="9" fill="rgb(80,17,238)"/>
<rect x="1122" y="263" width="1" height="49" fill="rgb(80,17,17)"/>
<rect x="1120" y="292" width="5" height="4" fill="rgb(80,17,17)"/>
<rect x="1121" y="293" width="3" height="2" fill="rgb(80,17,238)"/>
<rect x="1130" y="294" width="1" height="55" fill="rgb(80,17,17)"/>
<rect x="1128" y="300" width="5" height="15" fill="rgb(80,17,17)"/>
<rect x="1129" y="301" width="3" height="13" fill="rgb(175,17,17)"/>
<rect x="1138" y="230" width="1" height="91" fill="rgb(80,17,17)"/>
<rect x="1136" y="251" width="5" height="65" fill="rgb(80,17,17)"/>
<rect x="1137" y="252" width="3" height="63" fill="rgb(80,17,238)"/>
<rect x="1146" y="202" width="1" height="77" fill="rgb(80,17,17)"/>
<rect x="1144" y="225" width="5" height="27" fill="rgb(80,17,17)"/>
<rect x="1145" y="226" width="3" height="25" fill="rgb(80,17,238)"/>
<rect x="1154" y="221" width="1" height="40" fill="rgb(80,17,17)"/>
<rect x="1152" y="225" width="5" height="14" fill="rgb(80,17,17)"/>
<rect x="1153" y="226" width="3" height="12" fill="rgb(175,17,17)"/>
<rect x="1162" y="232" width="1" height="37" fill="rgb(80,17,17)"/>
<rect x="1160" y="240" width="5" height="3" fill="rgb(80,17,17)"/>
<rect x="1161" y="241" width="3" height="1" fill="rgb(175,17,17)"/>
<rect x="1170" y="153" width="1" height="95" fill="rgb(80,17,17)"/>
<rect x="1168" y="172" width="5" height="76" fill="rgb(80,17,17)"/>
<rect x="1169" y="173" width="3" height="74" fill="rgb(80,17,238)"/>
<rect x="1178" y="143" width="1" height="43" fill="rgb(80,17,17)"/>
<rect x="1176" y="155" width="5" height="19" fill="rgb(80,17,17)"/>
<rect x="1177" y="156" width="3" height="17" fill="rgb(80,17,238)"/>
<rect x="1186" y="148" width="1" height="53" fill="rgb(80,17,17)"/>
<rect x="1184" y="156" width="5" height="35" fill="rgb(80,17,17)"/>
<rect x="1185" y="157" width="3" height="33" fill="rgb(175,17,17)"/>
<rect x="1194" y="149" width="1" height="73" fill="rgb(80,17,17)"/>
<rect x="1192" y="162" width="5" height="29" fill="rgb(80,17,17)"/>
<rect x="1193" y="163" width="3" height="27" fill="rgb(80,17,238)"/>
<rect x="1202" y="137" width="1" height="37" fill="rgb(80,17,17)"/>
<rect x="1200" y="153" width="5" height="10" fill="rgb(80,17,17)"/>
<rect x="1201" y="154" width="3" height="8" fill="rgb(80,17,238)"/>
<rect x="1210" y="95" width="1" height="66" fill="rgb(80,17,17)"/>
<rect x="1208" y="137" width="5" height="21" fill="rgb(80,17,17)"/>
<rect x="1209" y="138" width="3" height="19" fill="rgb(175,17,17)"/>
<rect x="1218" y="134" width="1" height="46" fill="rgb(80,17,17)"/>
<rect x="1216" y="136" width="5" height="22" fill="rgb(80,17,17)"/>
<rect x="1217" y="137" width="3" height="20" fill="rgb(80,17,238)"/>
<rect x="1226" y="91" width="1" height="58" fill="rgb(80,17,17)"/>
<rect x="1224" y="96" width="5" height="41" fill="rgb(80,17,17)"/>
<rect x="1225" y="97" width="3" height="39" fill="rgb(80,17,238)"/>
<rect x="1234" y="67" width="1" height="46" fill="rgb(80,17,17)"/>
<rect x="1232" y="71" width="5" height="26" fill="rgb(80,17,17)"/>
<rect x="1233" y="72" width="3" height="24" fill="rgb(80,17,238)"/>
<rect x="1242" y="51" width="1" height="39" fill="rgb(80,17,17)"/>
<rect x="1240" y="52" width="5" height="20" fill="rgb(80,17,17)"/>
<rect x="1241" y="53" width="3" height="18" fill="rgb(80,17,238)"/>
<rect x="1250" y="51" width="1" height="47" fill="rgb(80,17,17)"/>
<rect x="1248" y="59" width="5" height="27" fill="rgb(80,17,17)"/>
<rect x="1249" y="60" width="3" height="25" fill="rgb(175,17,17)"/>
<rect x="1258" y="64" width="1" height="41" fill="rgb(80,17,17)"/>
<rect x="1256" y="85" width="5" height="5" fill="rgb(80,17,17)"/>
<rect x="1257" y="86" width="3" height="3" fill="rgb(175,17,17)"/>
<rect x="1266" y="43" width="1" height="70" fill="rgb(80,17,17)"/>
<rect x="1264" y="51" width="5" height="40" fill="rgb(80,17,17)"/>
<rect x="1265" y="52" width="3" height="38" fill="rgb(80,17,238)"/>
<rect x="1274" y="46" width="1" height="121" fill="rgb(80,17,17)"/>
<rect x="1272" y="52" width="5" height="101" fill="rgb(80,17,17)"/>
<rect x="1273" y="53" width="3" height="99" fill="rgb(175,17,17)"/>
<rect x="1282" y="70" width="1" height="87" fill="rgb(80,17,17)"/>
<rect x="1280" y="78" width="5" height="75" fill="rgb(80,17,17)"/>
<rect x="1281" y="79" width="3" height="73" fill="rgb(80,17,238)"/>
<rect x="1290" y="56" width="1" height="85" fill="rgb(80,17,17)"/>
<rect x="1288" y="75" width="5" height="47" fill="rgb(80,17,17)"/>
<rect x="1289" y="76" width="3" height="45" fill="rgb(175,17,17)"/>
<rect x="1298" y="80" width="1" height="48" fill="rgb(80,17,17)"/>
<rect x="1296" y="107" width="5" height="15" fill="rgb(80,17,17)"/>
<rect x="1297" y="108" width="3" height="13" fill="rgb(80,17,238)"/>
<rect x="1306" y="64" width="1" height="49" fill="rgb(80,17,17)"/>
<rect x="1304" y="69" width="5" height="39" fill="rgb(80,17,17)"/>
<rect x="1305" y="70" width="3" height="37" fill="rgb(80,17,238)"/>
<rect x="1314" y="46" width="1" height="30" fill="rgb(80,17,17)"/>
<rect x="1312" y="52" width="5" height="18" fill="rgb(80,17,17)"/>
<rect x="1313" y="53" width="3" height="16" fill="rgb(80,17,238)"/>
<rect x="1322" y="19" width="1" height="48" fill="rgb(80,17,17)"/>
<rect x="1320" y="23" width="5" height="30" fill="rgb(80,17,17)"/>
<rect x="1321" y="24" width="3" height="28" fill="rgb(80,17,238)"/>
<rect x="1330" y="14" width="1" height="60" fill="rgb(80,17,17)"/>
<rect x="1328" y="26" width="5" height="28" fill="rgb(80,17,17)"/>
<rect x="1329" y="27" width="3" height="26" fill="rgb(175,17,17)"/>
<rect x="1338" y="39" width="1" height="69" fill="rgb(80,17,17)"/>
<rect x="1336" y="54" width="5" height="51" fill="rgb(80,17,17)"/>
<rect x="1337" y="55" width="3" height="49" fill="rgb(175,17,17)"/>
<rect x="1346" y="86" width="1" height="45" fill="rgb(80,17,17)"/>
<rect x="1344" y="99" width="5" height="6" fill="rgb(80,17,17)"/>
<rect x="1345" y="100" width="3" height="4" fill="rgb(80,17,238)"/>
<rect x="1354" y="51" width="1" height="63" fill="rgb(80,17,17)"/>
<rect x="1352" y="59" width="5" height="40" fill="rgb(80,17,17)"/>
<rect x="1353" y="60" width="3" height="38" fill="rgb(80,17,238)"/>
<rect x="1362" y="47" width="1" height="21" fill="rgb(80,17,17)"/>
<rect x="1360" y="55" width="5" height="2" fill="rgb(80,17,17)"/>
<rect x="1370" y="47" width="1" height="29" fill="rgb(80,17,17)"/>
<rect x="1368" y="54" width="5" height="3" fill="rgb(80,17,17)"/>
<rect x="1369" y="55" width="3" height="1" fill="rgb(80,17,238)"/>
<rect x="1378" y="36" width="1" height="31" fill="rgb(80,17,17)"/>
<rect x="1376" y="55" width="5" height="4" fill="rgb(80,17,17)"/>
<rect x="1377" y="56" width="3" height="2" fill="rgb(175,17,17)"/>
<rect x="1386" y="51" width="1" height="97" fill="rgb(80,17,17)"/>
<rect x="1384" y="58" width="5" height="55" fill="rgb(80,17,17)"/>
<rect x="1385" y="59" width="3" height="53" fill="rgb(175,17,17)"/>
<rect x="1394" y="74" width="1" height="43" fill="rgb(80,17,17)"/>
<rect x="1392" y="92" width="5" height="21" fill="rgb(80,17,17)"/>
<rect x="1393" y="93" width="3" height="19" fill="rgb(80,17,238)"/>
<rect x="1402" y="70" width="1" height="25" fill="rgb(80,17,17)"/>
<rect x="1400" y="75" width="5" height="18" fill="rgb(80,17,17)"/>
<rect x="1401" y="76" width="3" height="16" fill="rgb(80,17,238)"/>
<polyline points="2.5,583.5 20.5,586.5 40.5,588.5 60.5,593.5 80.5,596.5 100.5,601.5 120.5,606.5 140.5,611.5 160.5,615.5 180.5,617.5 200.5,619.5 220.5,621.5 240.5,623.5 260.5,626.5 280.5,629.5 300.5,633.5 320.5,638.5 340.5,644.5 360.5,649.5 380.5,652.5 400.5,656.5 420.5,660.5 440.5,665.5 460.5,667.5 480.5,669.5 500.5,670.5 520.5,672.5 540.5,672.5 550.5,672.5 560.5,672.5 580.5,670.5 600.5,668.5 620.5,665.5 640.5,662.5 660.5,658.5 680.5,654.5 700.5,650.5 720.5,646.5 740.5,641.5 760.5,636.5 780.5,631.5 800.5,626.5 820.5,622.5 840.5,618.5 860.5,613.5 880.5,609.5 900.5,601.5 920.5,594.5 940.5,585.5 960.5,575.5 980.5,567.5 1000.5,561.5 1010.5,556.5 1020.5,552.5 1040.5,544.5 1050.5,540.5 1070.5,533.5 1090.5,528.5 1110.5,522.5 1130.5,518.5 1150.5,510.5 1170.5,502.5 1190.5,494.5 1210.5,486.5 1220.5,479.5 1240.5,470.5 1260.5,460.5 1280.5,450.5 1298.5,443.5 1320.5,430.5 1346.5,421.5 1360.5,414.5 1380.5,404.5 1401.5,394.5" fill="none" stroke="rgb(80,17,238)" stroke-width="1"/>
<polyline points="2.5,762.5 21.0,755.5 37.4,746.5 51.7,737.5 66.0,732.5 82.5,726.5 94.7,719.5 109.1,714.5 123.5,711.5 139.8,708.5 146.5,707.5 154.5,704.5 162.5,701.5 170.5,697.5 178.5,693.5 186.5,690.5 194.5,686.5 202.5,684.5 210.5,680.5 218.5,678.5 226.5,676.5 234.5,675.5 242.5,674.5 250.5,674.5 258.5,673.5 266.5,672.5 282.5,672.5 298.5,670.5 306.5,669.5 314.5,668.5 322.5,667.5 330.5,667.5 339.5,667.5 368.1,657.5 386.5,646.5 394.5,642.5 402.5,638.5 410.5,635.5 418.5,632.5 426.5,629.5 434.5,625.5 442.5,620.5 450.5,615.5 458.5,610.5 466.5,604.5 474.5,600.5 482.5,594.5 490.5,589.5 498.5,581.5 506.5,575.5 514.5,568.5 522.5,561.5 530.5,555.5 538.5,548.5 546.5,541.5 554.5,535.5 562.5,528.5 570.5,522.5 578.5,515.5 586.5,507.5 594.5,498.5 602.5,488.5 610.5,478.5 618.5,469.5 626.5,459.5 634.5,449.5 642.5,439.5 650.5,431.5 658.5,422.5 666.5,414.5 674.5,406.5 682.5,399.5 690.5,394.5 698.5,388.5 706.5,380.5 714.5,371.5 722.5,362.5 730.5,353.5 738.5,344.5 746.5,339.5 754.5,336.5 762.5,333.5 770.5,331.5 778.5,324.5 786.5,319.5 794.5,315.5 802.5,310.5 810.5,303.5 818.5,298.5 826.5,292.5 834.5,287.5 842.5,282.5 850.5,278.5 858.5,274.5 866.5,270.5 874.5,265.5 882.5,260.5 890.5,255.5 898.5,250.5 906.5,246.5 914.5,241.5 922.5,237.5 930.5,231.5 938.5,226.5 946.5,222.5 954.5,218.5 962.5,217.5 970.5,217.5 978.5,220.5 986.5,222.5 994.5,224.5 1002.5,227.5 1010.5,228.5 1018.5,229.5 1026.5,229.5 1034.5,228.5 1042.5,227.5 1050.5,228.5 1058.5,230.5 1066.5,232.5 1074.5,235.5 1082.5,238.5 1090.5,239.5 1098.5,242.5 1106.5,243.5 1114.5,245.5 1122.5,246.5 1130.5,247.5 1138.5,247.5 1146.5,245.5 1154.5,244.5 1162.5,244.5 1170.5,242.5 1178.5,242.5 1186.5,242.5 1194.5,240.5 1202.5,238.5 1210.5,237.5 1218.5,235.5 1226.5,233.5 1234.5,230.5 1242.5,227.5 1250.5,224.5 1258.5,222.5 1266.5,219.5 1274.5,218.5 1282.5,216.5 1290.5,216.5 1298.5,217.5 1306.5,216.5 1314.5,214.5 1322.5,212.5 1330.5,211.5 1338.5,210.5 1346.5,209.5 1354.5,208.5 1362.5,204.5 1370.5,198.5 1378.5,191.5 1386.5,185.5 1394.5,179.5 1402.5,175.5" fill="none" stroke="rgb(80,17,17)" stroke-width="1"/>
<polyline points="2.5,664.5 10.5,662.5 18.5,660.5 26.5,659.5 34.5,662.5 42.5,663.5 50.5,665.5 58.5,670.5 66.5,669.5 74.5,666.5 82.5,664.5 90.5,661.5 98.5,662.5 106.5,663.5 114.5,666.5 122.5,672.5 130.5,682.5 138.5,683.5 146.5,682.5 154.5,680.5 162.5,678.5 170.5,675.5 178.5,676.5 186.5,678.5 194.5,679.5 202.5,678.5 210.5,680.5 218.5,679.5 226.5,680.5 234.5,683.5 242.5,684.5 250.5,685.5 258.5,682.5 266.5,682.5 274.5,682.5 282.5,678.5 290.5,670.5 298.5,664.5 306.5,660.5 314.5,662.5 322.5,664.5 330.5,667.5 338.5,667.5 346.5,660.5 354.5,648.5 362.5,635.5 370.5,620.5 378.5,611.5 386.5,598.5 394.5,584.5 402.5,574.5 410.5,568.5 418.5,561.5 426.5,553.5 434.5,542.5 442.5,534.5 450.5,527.5 458.5,518.5 466.5,507.5 474.5,496.5 482.5,482.5 490.5,464.5 498.5,447.5 506.5,437.5 514.5,433.5 522.5,429.5 530.5,429.5 538.5,423.5 546.5,419.5 554.5,413.5 562.5,403.5 570.5,392.5 578.5,382.5 586.5,370.5 594.5,361.5 602.5,348.5 610.5,335.5 618.5,326.5 626.5,316.5 634.5,306.5 642.5,296.5 650.5,290.5 658.5,285.5 666.5,281.5 674.5,276.5 682.5,273.5 690.5,268.5 698.5,263.5 706.5,258.5 714.5,251.5 722.5,248.5 730.5,245.5 738.5,242.5 746.5,242.5 754.5,244.5 762.5,248.5 770.5,253.5 778.5,249.5 786.5,249.5 794.5,248.5 802.5,250.5 810.5,249.5 818.5,249.5 826.5,247.5 834.5,244.5 842.5,240.5 850.5,237.5 858.5,233.5 866.5,231.5 874.5,231.5 882.5,226.5 890.5,220.5 898.5,211.5 906.5,203.5 914.5,193.5 922.5,187.5 930.5,180.5 938.5,179.5 946.5,176.5 954.5,170.5 962.5,171.5 970.5,177.5 978.5,187.5 986.5,195.5 994.5,205.5 1002.5,210.5 1010.5,212.5 1018.5,214.5 1026.5,214.5 1034.5,214.5 1042.5,215.5 1050.5,221.5 1058.5,233.5 1066.5,247.5 1074.5,262.5 1082.5,276.5 1090.5,288.5 1098.5,300.5 1106.5,309.5 1114.5,318.5 1122.5,320.5 1130.5,318.5 1138.5,309.5 1146.5,301.5 1154.5,294.5 1162.5,290.5 1170.5,286.5 1178.5,281.5 1186.5,280.5 1194.5,279.5 1202.5,277.5 1210.5,273.5 1218.5,263.5 1226.5,248.5 1234.5,231.5 1242.5,213.5 1250.5,199.5 1258.5,184.5 1266.5,171.5 1274.5,164.5 1282.5,153.5 1290.5,144.5 1298.5,137.5 1306.5,129.5 1314.5,120.5 1322.5,109.5 1330.5,103.5 1338.5,100.5 1346.5,96.5 1354.5,90.5 1362.5,85.5 1370.5,80.5 1378.5,76.5 1386.5,77.5 1394.5,78.5 1402.5,79.5" fill="none" stroke="rgb(175,157,17)" stroke-width="1"/>
<rect x="2" y="75" width="1721" height="1" fill="rgb(39,153,136)"/>
<rect x="2" y="17" width="1721" height="2" fill="rgb(78,129,238)"/>
<rect x="2" y="83" width="1721" height="2" fill="rgb(78,129,238)"/>
<rect x="2" y="168" width="1721" height="2" fill="rgb(78,129,238)"/>
<rect x="2" y="281" width="1721" height="2" fill="rgb(78,129,238)"/>
<rect x="2" y="441" width="1721" height="2" fill="rgb(78,129,238)"/>
<rect x="2" y="738" width="1721" height="2" fill="rgb(78,129,238)"/>
<line x1="322" y1="730.7" x2="1395" y2="260.2" stroke="rgb(196,17,194)" stroke-width="2"/>
</g>
<text x="6.0" y="13.0" textLength="197.0" lengthAdjust="spacingAndGlyphs" filter="url(#thr)">USDJPY.fx, Daily:  US Dollar vs Japanese Yen</text>
<text x="6.0" y="808.0" textLength="58.0" lengthAdjust="spacingAndGlyphs" filter="url(#thr)">RSI(14) 54.28</text>
<text x="6.0" y="901.0" textLength="102.0" lengthAdjust="spacingAndGlyphs" filter="url(#thr)">Stoch(5,3,3) 49.09 53.96</text>
<text x="6.0" y="987.0" textLength="128.0" lengthAdjust="spacingAndGlyphs" filter="url(#thr)">MACD(12,26,9) 0.4546 0.6290</text>
<rect x="1724" y="26" width="4" height="1" fill="#000"/>
<text transform="scale(0.88,1)" x="1964.77 1970.45 1976.14 1981.82 1985.23 1990.91 1996.59" y="30.0" filter="url(#thr)">160.240</text>
<rect x="1724" y="58" width="4" height="1" fill="#000"/>
<text transform="scale(0.88,1)" x="1964.77 1970.45 1976.14 1981.82 1985.23 1990.91 1996.59" y="62.0" filter="url(#thr)">159.620</text>
<rect x="1724" y="90" width="4" height="1" fill="#000"/>
<text transform="scale(0.88,1)" x="1964.77 1970.45 1976.14 1981.82 1985.23 1990.91 1996.59" y="94.0" filter="url(#thr)">159.000</text>
<rect x="1724" y="122" width="4" height="1" fill="#000"/>
<text transform="scale(0.88,1)" x="1964.77 1970.45 1976.14 1981.82 1985.23 1990.91 1996.59" y="126.0" filter="url(#thr)">158.380</text>
<rect x="1724" y="154" width="4" height="1" fill="#000"/>
<text transform="scale(0.88,1)" x="1964.77 1970.45 1976.14 1981.82 1985.23 1990.91 1996.59" y="158.0" filter="url(#thr)">157.760</text>
<rect x="1724" y="186" width="4" height="1" fill="#000"/>
<text transform="scale(0.88,1)" x="1964.77 1970.45 1976.14 1981.82 1985.23 1990.91 1996.59" y="190.0" filter="url(#thr)">157.140</text>
<rect x="1724" y="218" width="4" height="1" fill="#000"/>
<text transform="scale(0.88,1)" x="1964.77 1970.45 1976.14 1981.82 1985.23 1990.91 1996.59" y="222.0" filter="url(#thr)">156.520</text>
<rect x="1724" y="250" width="4" height="1" fill="#000"/>
<text transform="scale(0.88,1)" x="1964.77 1970.45 1976.14 1981.82 1985.23 1990.91 1996.59" y="254.0" filter="url(#thr)">155.900</text>
<rect x="1724" y="281" width="4" height="1" fill="#000"/>
<text transform="scale(0.88,1)" x="1964.77 1970.45 1976.14 1981.82 1985.23 1990.91 1996.59" y="285.0" filter="url(#thr)">155.280</text>
<rect x="1724" y="313" width="4" height="1" fill="#000"/>
<text transform="scale(0.88,1)" x="1964.77 1970.45 1976.14 1981.82 1985.23 1990.91 1996.59" y="317.0" filter="url(#thr)">154.660</text>
<rect x="1724" y="345" width="4" height="1" fill="#000"/>
<text transform="scale(0.88,1)" x="1964.77 1970.45 1976.14 1981.82 1985.23 1990.91 1996.59" y="349.0" filter="url(#thr)">154.040</text>
<rect x="1724" y="377" width="4" height="1" fill="#000"/>
<text transform="scale(0.88,1)" x="1964.77 1970.45 1976.14 1981.82 1985.23 1990.91 1996.59" y="381.0" filter="url(#thr)">153.420</text>
<rect x="1724" y="409" width="4" height="1" fill="#000"/>
<text transform="scale(0.88,1)" x="1964.77 1970.45 1976.14 1981.82 1985.23 1990.91 1996.59" y="413.0" filter="url(#thr)">152.800</text>
<rect x="1724" y="441" width="4" height="1" fill="#000"/>
<text transform="scale(0.88,1)" x="1964.77 1970.45 1976.14 1981.82 1985.23 1990.91 1996.59" y="445.0" filter="url(#thr)">152.180</text>
<rect x="1724" y="473" width="4" height="1" fill="#000"/>
<text transform="scale(0.88,1)" x="1964.77 1970.45 1976.14 1981.82 1985.23 1990.91 1996.59" y="477.0" filter="url(#thr)">151.560</text>
<rect x="1724" y="505" width="4" height="1" fill="#000"/>
<text transform="scale(0.88,1)" x="1964.77 1970.45 1976.14 1981.82 1985.23 1990.91 1996.59" y="509.0" filter="url(#thr)">150.940</text>
<rect x="1724" y="537" width="4" height="1" fill="#000"/>
<text transform="scale(0.88,1)" x="1964.77 1970.45 1976.14 1981.82 1985.23 1990.91 1996.59" y="541.0" filter="url(#thr)">150.320</text>
<rect x="1724" y="569" width="4" height="1" fill="#000"/>
<text transform="scale(0.88,1)" x="1964.77 1970.45 1976.14 1981.82 1985.23 1990.91 1996.59" y="573.0" filter="url(#thr)">149.700</text>
<rect x="1724" y="601" width="4" height="1" fill="#000"/>
<text transform="scale(0.88,1)" x="1964.77 1970.45 1976.14 1981.82 1985.23 1990.91 1996.59" y="605.0" filter="url(#thr)">149.080</text>
<rect x="1724" y="633" width="4" height="1" fill="#000"/>
<text transform="scale(0.88,1)" x="1964.77 1970.45 1976.14 1981.82 1985.23 1990.91 1996.59" y="637.0" filter="url(#thr)">148.460</text>
<rect x="1724" y="665" width="4" height="1" fill="#000"/>
<text transform="scale(0.88,1)" x="1964.77 1970.45 1976.14 1981.82 1985.23 1990.91 1996.59" y="669.0" filter="url(#thr)">147.840</text>
<rect x="1724" y="697" width="4" height="1" fill="#000"/>
<text transform="scale(0.88,1)" x="1964.77 1970.45 1976.14 1981.82 1985.23 1990.91 1996.59" y="701.0" filter="url(#thr)">147.220</text>
<rect x="1724" y="729" width="4" height="1" fill="#000"/>
<text transform="scale(0.88,1)" x="1964.77 1970.45 1976.14 1981.82 1985.23 1990.91 1996.59" y="733.0" filter="url(#thr)">146.600</text>
<rect x="1724" y="761" width="4" height="1" fill="#000"/>
<text transform="scale(0.88,1)" x="1964.77 1970.45 1976.14 1981.82 1985.23 1990.91 1996.59" y="765.0" filter="url(#thr)">145.980</text>
<rect x="1726" y="13" width="39" height="11" fill="rgb(30,144,255)"/>
<text transform="scale(0.88,1)" x="1964.77 1970.45 1976.14 1981.82 1985.23 1990.91 1996.59" y="22.0" style="fill:#fff" filter="url(#thr)">160.389</text>
<rect x="1726" y="70" width="39" height="11" fill="rgb(119,136,153)"/>
<text transform="scale(0.88,1)" x="1964.77 1970.45 1976.14 1981.82 1985.23 1990.91 1996.59" y="79.0" style="fill:#fff" filter="url(#thr)">159.292</text>
<rect x="1726" y="79" width="39" height="11" fill="rgb(30,144,255)"/>
<text transform="scale(0.88,1)" x="1964.77 1970.45 1976.14 1981.82 1985.23 1990.91 1996.59" y="88.0" style="fill:#fff" filter="url(#thr)">159.111</text>
<rect x="1726" y="164" width="39" height="11" fill="rgb(30,144,255)"/>
<text transform="scale(0.88,1)" x="1964.77 1970.45 1976.14 1981.82 1985.23 1990.91 1996.59" y="173.0" style="fill:#fff" filter="url(#thr)">157.464</text>
<rect x="1726" y="277" width="39" height="11" fill="rgb(30,144,255)"/>
<text transform="scale(0.88,1)" x="1964.77 1970.45 1976.14 1981.82 1985.23 1990.91 1996.59" y="286.0" style="fill:#fff" filter="url(#thr)">155.279</text>
<rect x="1726" y="437" width="39" height="11" fill="rgb(30,144,255)"/>
<text transform="scale(0.88,1)" x="1964.77 1970.45 1976.14 1981.82 1985.23 1990.91 1996.59" y="446.0" style="fill:#fff" filter="url(#thr)">152.164</text>
<rect x="1726" y="734" width="39" height="11" fill="rgb(30,144,255)"/>
<text transform="scale(0.88,1)" x="1964.77 1970.45 1976.14 1981.82 1985.23 1990.91 1996.59" y="743.0" style="fill:#fff" filter="url(#thr)">146.416</text>
<rect x="1724" y="796" width="4" height="1" fill="#000"/>
<text transform="scale(0.88,1)" x="1964.77 1970.45 1976.14 1981.82 1985.23 1990.91" y="804.0" filter="url(#thr)">100.00</text>
<rect x="1724" y="822" width="4" height="1" fill="#000"/>
<text transform="scale(0.88,1)" x="1964.77 1970.45 1976.14 1979.55 1985.23" y="826.0" filter="url(#thr)">70.00</text>
<rect x="1724" y="859" width="4" height="1" fill="#000"/>
<text transform="scale(0.88,1)" x="1964.77 1970.45 1976.14 1979.55 1985.23" y="863.0" filter="url(#thr)">30.00</text>
<rect x="1724" y="885" width="4" height="1" fill="#000"/>
<text transform="scale(0.88,1)" x="1964.77 1970.45 1973.86 1979.55" y="884.0" filter="url(#thr)">0.00</text>
<rect x="1724" y="889" width="4" height="1" fill="#000"/>
<text transform="scale(0.88,1)" x="1964.77 1970.45 1976.14 1981.82 1985.23 1990.91" y="897.0" filter="url(#thr)">100.00</text>
<rect x="1724" y="905" width="4" height="1" fill="#000"/>
<text transform="scale(0.88,1)" x="1964.77 1970.45 1976.14 1979.55 1985.23" y="909.0" filter="url(#thr)">80.00</text>
<rect x="1724" y="955" width="4" height="1" fill="#000"/>
<text transform="scale(0.88,1)" x="1964.77 1970.45 1976.14 1979.55 1985.23" y="959.0" filter="url(#thr)">20.00</text>
<rect x="1724" y="971" width="4" height="1" fill="#000"/>
<text transform="scale(0.88,1)" x="1964.77 1970.45 1973.86 1979.55" y="970.0" filter="url(#thr)">0.00</text>
<rect x="1724" y="975" width="4" height="1" fill="#000"/>
<text transform="scale(0.88,1)" x="1964.77 1970.45 1973.86 1979.55 1985.23 1990.91" y="983.0" filter="url(#thr)">1.6236</text>
<text transform="scale(0.88,1)" x="1964.77 1970.45 1973.86 1979.55 1985.23 1990.91" y="1025.0" filter="url(#thr)">0.0000</text>
<rect x="1724" y="1052" width="4" height="1" fill="#000"/>
<text transform="scale(0.88,1)" x="1964.77 1968.18 1973.86 1977.27 1982.95 1988.64 1994.32" y="1051.0" filter="url(#thr)">-1.0562</text>
<line x1="2" y1="822.5" x2="1723" y2="822.5" stroke="rgb(192,192,192)" stroke-dasharray="3 3"/>
<line x1="2" y1="859.5" x2="1723" y2="859.5" stroke="rgb(192,192,192)" stroke-dasharray="3 3"/>
<line x1="2" y1="905.5" x2="1723" y2="905.5" stroke="rgb(192,192,192)" stroke-dasharray="3 3"/>
<line x1="2" y1="955.5" x2="1723" y2="955.5" stroke="rgb(192,192,192)" stroke-dasharray="3 3"/>
<line x1="146.5" y1="795" x2="146.5" y2="886" stroke="#000" stroke-dasharray="3 3" stroke-dashoffset="1"/>
<line x1="146.5" y1="888" x2="146.5" y2="972" stroke="#000" stroke-dasharray="3 3" stroke-dashoffset="4"/>
<line x1="146.5" y1="974" x2="146.5" y2="1053" stroke="#000" stroke-dasharray="3 3" stroke-dashoffset="0"/>
<line x1="322.5" y1="795" x2="322.5" y2="886" stroke="#000" stroke-dasharray="3 3" stroke-dashoffset="1"/>
<line x1="322.5" y1="888" x2="322.5" y2="972" stroke="#000" stroke-dasharray="3 3" stroke-dashoffset="4"/>
<line x1="322.5" y1="974" x2="322.5" y2="1053" stroke="#000" stroke-dasharray="3 3" stroke-dashoffset="0"/>
<line x1="506.5" y1="795" x2="506.5" y2="886" stroke="#000" stroke-dasharray="3 3" stroke-dashoffset="1"/>
<line x1="506.5" y1="888" x2="506.5" y2="972" stroke="#000" stroke-dasharray="3 3" stroke-dashoffset="4"/>
<line x1="506.5" y1="974" x2="506.5" y2="1053" stroke="#000" stroke-dasharray="3 3" stroke-dashoffset="0"/>
<line x1="666.5" y1="795" x2="666.5" y2="886" stroke="#000" stroke-dasharray="3 3" stroke-dashoffset="1"/>
<line x1="666.5" y1="888" x2="666.5" y2="972" stroke="#000" stroke-dasharray="3 3" stroke-dashoffset="4"/>
<line x1="666.5" y1="974" x2="666.5" y2="1053" stroke="#000" stroke-dasharray="3 3" stroke-dashoffset="0"/>
<line x1="842.5" y1="795" x2="842.5" y2="886" stroke="#000" stroke-dasharray="3 3" stroke-dashoffset="1"/>
<line x1="842.5" y1="888" x2="842.5" y2="972" stroke="#000" stroke-dasharray="3 3" stroke-dashoffset="4"/>
<line x1="842.5" y1="974" x2="842.5" y2="1053" stroke="#000" stroke-dasharray="3 3" stroke-dashoffset="0"/>
<line x1="1010.5" y1="795" x2="1010.5" y2="886" stroke="#000" stroke-dasharray="3 3" stroke-dashoffset="1"/>
<line x1="1010.5" y1="888" x2="1010.5" y2="972" stroke="#000" stroke-dasharray="3 3" stroke-dashoffset="4"/>
<line x1="1010.5" y1="974" x2="1010.5" y2="1053" stroke="#000" stroke-dasharray="3 3" stroke-dashoffset="0"/>
<line x1="1170.5" y1="795" x2="1170.5" y2="886" stroke="#000" stroke-dasharray="3 3" stroke-dashoffset="1"/>
<line x1="1170.5" y1="888" x2="1170.5" y2="972" stroke="#000" stroke-dasharray="3 3" stroke-dashoffset="4"/>
<line x1="1170.5" y1="974" x2="1170.5" y2="1053" stroke="#000" stroke-dasharray="3 3" stroke-dashoffset="0"/>
<line x1="1346.5" y1="795" x2="1346.5" y2="886" stroke="#000" stroke-dasharray="3 3" stroke-dashoffset="1"/>
<line x1="1346.5" y1="888" x2="1346.5" y2="972" stroke="#000" stroke-dasharray="3 3" stroke-dashoffset="4"/>
<line x1="1346.5" y1="974" x2="1346.5" y2="1053" stroke="#000" stroke-dasharray="3 3" stroke-dashoffset="0"/>
<line x1="1570.5" y1="795" x2="1570.5" y2="886" stroke="#000" stroke-dasharray="3 3" stroke-dashoffset="1"/>
<line x1="1570.5" y1="888" x2="1570.5" y2="972" stroke="#000" stroke-dasharray="3 3" stroke-dashoffset="4"/>
<line x1="1570.5" y1="974" x2="1570.5" y2="1053" stroke="#000" stroke-dasharray="3 3" stroke-dashoffset="0"/>
<rect x="2" y="1054" width="1" height="4" fill="#000"/>
<text transform="scale(0.88,1)" x="2.27 7.95 11.36 18.18 23.86 29.55 32.95 38.64 44.32 50.00" y="1066.0" filter="url(#thr)">6 Aug 2025</text>
<rect x="66" y="1054" width="1" height="4" fill="#000"/>
<text transform="scale(0.88,1)" x="75.00 80.68 86.36 89.77 96.59 102.27 107.95 111.36 117.05 122.73 128.41" y="1066.0" filter="url(#thr)">18 Aug 2025</text>
<rect x="130" y="1054" width="1" height="4" fill="#000"/>
<text transform="scale(0.88,1)" x="147.73 153.41 159.09 162.50 169.32 175.00 180.68 184.09 189.77 195.45 201.14" y="1066.0" filter="url(#thr)">28 Aug 2025</text>
<rect x="194" y="1054" width="1" height="4" fill="#000"/>
<text transform="scale(0.88,1)" x="220.45 226.14 229.55 236.36 242.05 247.73 251.14 256.82 262.50 268.18" y="1066.0" filter="url(#thr)">9 Sep 2025</text>
<rect x="258" y="1054" width="1" height="4" fill="#000"/>
<text transform="scale(0.88,1)" x="293.18 298.86 304.55 307.95 314.77 320.45 326.14 329.55 335.23 340.91 346.59" y="1066.0" filter="url(#thr)">19 Sep 2025</text>
<rect x="322" y="1054" width="1" height="4" fill="#000"/>
<text transform="scale(0.88,1)" x="365.91 371.59 375.00 382.95 388.64 392.05 395.45 401.14 406.82 412.50" y="1066.0" filter="url(#thr)">1 Oct 2025</text>
<rect x="386" y="1054" width="1" height="4" fill="#000"/>
<text transform="scale(0.88,1)" x="438.64 444.32 450.00 453.41 461.36 467.05 470.45 473.86 479.55 485.23 490.91" y="1066.0" filter="url(#thr)">13 Oct 2025</text>
<rect x="450" y="1054" width="1" height="4" fill="#000"/>
<text transform="scale(0.88,1)" x="511.36 517.05 522.73 526.14 534.09 539.77 543.18 546.59 552.27 557.95 563.64" y="1066.0" filter="url(#thr)">23 Oct 2025</text>
<rect x="514" y="1054" width="1" height="4" fill="#000"/>
<text transform="scale(0.88,1)" x="584.09 589.77 593.18 601.14 606.82 612.50 615.91 621.59 627.27 632.95" y="1066.0" filter="url(#thr)">4 Nov 2025</text>
<rect x="578" y="1054" width="1" height="4" fill="#000"/>
<text transform="scale(0.88,1)" x="656.82 662.50 668.18 671.59 679.55 685.23 690.91 694.32 700.00 705.68 711.36" y="1066.0" filter="url(#thr)">14 Nov 2025</text>
<rect x="642" y="1054" width="1" height="4" fill="#000"/>
<text transform="scale(0.88,1)" x="729.55 735.23 740.91 744.32 752.27 757.95 763.64 767.05 772.73 778.41 784.09" y="1066.0" filter="url(#thr)">26 Nov 2025</text>
<rect x="706" y="1054" width="1" height="4" fill="#000"/>
<text transform="scale(0.88,1)" x="802.27 807.95 811.36 819.32 825.00 830.68 834.09 839.77 845.45 851.14" y="1066.0" filter="url(#thr)">8 Dec 2025</text>
<rect x="770" y="1054" width="1" height="4" fill="#000"/>
<text transform="scale(0.88,1)" x="875.00 880.68 886.36 889.77 897.73 903.41 909.09 912.50 918.18 923.86 929.55" y="1066.0" filter="url(#thr)">18 Dec 2025</text>
<rect x="834" y="1054" width="1" height="4" fill="#000"/>
<text transform="scale(0.88,1)" x="947.73 953.41 959.09 962.50 970.45 976.14 981.82 985.23 990.91 996.59 1002.27" y="1066.0" filter="url(#thr)">31 Dec 2025</text>
<rect x="898" y="1054" width="1" height="4" fill="#000"/>
<text transform="scale(0.88,1)" x="1020.45 1026.14 1031.82 1035.23 1040.91 1046.59 1052.27 1055.68 1061.36 1067.05 1072.73" y="1066.0" filter="url(#thr)">13 Jan 2026</text>
<rect x="962" y="1054" width="1" height="4" fill="#000"/>
<text transform="scale(0.88,1)" x="1093.18 1098.86 1104.55 1107.95 1113.64 1119.32 1125.00 1128.41 1134.09 1139.77 1145.45" y="1066.0" filter="url(#thr)">23 Jan 2026</text>
<rect x="1026" y="1054" width="1" height="4" fill="#000"/>
<text transform="scale(0.88,1)" x="1165.91 1171.59 1175.00 1181.82 1187.50 1193.18 1196.59 1202.27 1207.95 1213.64" y="1066.0" filter="url(#thr)">4 Feb 2026</text>
<rect x="1090" y="1054" width="1" height="4" fill="#000"/>
<text transform="scale(0.88,1)" x="1238.64 1244.32 1250.00 1253.41 1260.23 1265.91 1271.59 1275.00 1280.68 1286.36 1292.05" y="1066.0" filter="url(#thr)">16 Feb 2026</text>
<rect x="1154" y="1054" width="1" height="4" fill="#000"/>
<text transform="scale(0.88,1)" x="1311.36 1317.05 1322.73 1326.14 1332.95 1338.64 1344.32 1347.73 1353.41 1359.09 1364.77" y="1066.0" filter="url(#thr)">26 Feb 2026</text>
<rect x="1218" y="1054" width="1" height="4" fill="#000"/>
<text transform="scale(0.88,1)" x="1384.09 1389.77 1395.45 1398.86 1407.95 1413.64 1417.05 1420.45 1426.14 1431.82 1437.50" y="1066.0" filter="url(#thr)">10 Mar 2026</text>
<rect x="1282" y="1054" width="1" height="4" fill="#000"/>
<text transform="scale(0.88,1)" x="1456.82 1462.50 1468.18 1471.59 1480.68 1486.36 1489.77 1493.18 1498.86 1504.55 1510.23" y="1066.0" filter="url(#thr)">20 Mar 2026</text>
<rect x="1346" y="1054" width="1" height="4" fill="#000"/>
<text transform="scale(0.88,1)" x="1529.55 1535.23 1538.64 1545.45 1551.14 1554.55 1557.95 1563.64 1569.32 1575.00" y="1066.0" filter="url(#thr)">1 Apr 2026</text>
<g clip-path="url(#csub1)">
<polyline points="2.5,840.5 10.5,842.5 18.5,838.5 26.5,837.5 34.5,838.5 42.5,840.5 50.5,839.5 58.5,842.5 66.5,838.5 74.5,839.5 82.5,842.5 90.5,836.5 98.5,843.5 106.5,839.5 114.5,842.5 122.5,842.5 130.5,844.5 138.5,843.5 146.5,842.5 154.5,835.5 162.5,836.5 170.5,834.5 178.5,842.5 186.5,841.5 194.5,842.5 202.5,841.5 210.5,843.5 218.5,840.5 226.5,842.5 234.5,848.5 242.5,844.5 250.5,837.5 258.5,837.5 266.5,839.5 274.5,840.5 282.5,832.5 290.5,827.5 298.5,830.5 306.5,837.5 314.5,841.5 322.5,846.5 330.5,845.5 338.5,843.5 346.5,829.5 354.5,824.5 362.5,822.5 370.5,821.5 378.5,832.5 386.5,828.5 394.5,831.5 402.5,835.5 410.5,838.5 418.5,837.5 426.5,836.5 434.5,832.5 442.5,831.5 450.5,829.5 458.5,828.5 466.5,828.5 474.5,834.5 482.5,831.5 490.5,826.5 498.5,826.5 506.5,825.5 514.5,829.5 522.5,828.5 530.5,835.5 538.5,833.5 546.5,830.5 554.5,830.5 562.5,827.5 570.5,829.5 578.5,829.5 586.5,826.5 594.5,825.5 602.5,819.5 610.5,818.5 618.5,827.5 626.5,825.5 634.5,831.5 642.5,829.5 650.5,830.5 658.5,831.5 666.5,836.5 674.5,834.5 682.5,839.5 690.5,839.5 698.5,838.5 706.5,834.5 714.5,830.5 722.5,836.5 730.5,838.5 738.5,837.5 746.5,841.5 754.5,844.5 762.5,838.5 770.5,839.5 778.5,829.5 786.5,833.5 794.5,838.5 802.5,839.5 810.5,836.5 818.5,839.5 826.5,837.5 834.5,835.5 842.5,835.5 850.5,838.5 858.5,837.5 866.5,836.5 874.5,836.5 882.5,830.5 890.5,829.5 898.5,824.5 906.5,830.5 914.5,829.5 922.5,833.5 930.5,833.5 938.5,833.5 946.5,832.5 954.5,831.5 962.5,850.5 970.5,856.5 978.5,862.5 986.5,854.5 994.5,855.5 1002.5,847.5 1010.5,843.5 1018.5,842.5 1026.5,837.5 1034.5,837.5 1042.5,836.5 1050.5,842.5 1058.5,848.5 1066.5,852.5 1074.5,854.5 1082.5,854.5 1090.5,849.5 1098.5,850.5 1106.5,842.5 1114.5,842.5 1122.5,841.5 1130.5,843.5 1138.5,837.5 1146.5,835.5 1154.5,837.5 1162.5,837.5 1170.5,831.5 1178.5,830.5 1186.5,834.5 1194.5,832.5 1202.5,831.5 1210.5,831.5 1218.5,830.5 1226.5,826.5 1234.5,825.5 1242.5,823.5 1250.5,828.5 1258.5,829.5 1266.5,826.5 1274.5,839.5 1282.5,833.5 1290.5,837.5 1298.5,836.5 1306.5,833.5 1314.5,831.5 1322.5,829.5 1330.5,833.5 1338.5,839.5 1346.5,838.5 1354.5,834.5 1362.5,834.5 1370.5,834.5 1378.5,835.5 1386.5,841.5 1394.5,839.5 1402.5,837.5" fill="none" stroke="rgb(30,144,255)" stroke-width="1"/>
</g>
<g clip-path="url(#csub2)">
<polyline points="2.5,959.5 10.5,958.5 18.5,953.5 26.5,935.5 34.5,908.5 42.5,920.5 50.5,925.5 58.5,930.5 66.5,921.5 74.5,920.5 82.5,915.5 90.5,908.5 98.5,927.5 106.5,927.5 114.5,941.5 122.5,935.5 130.5,946.5 138.5,949.5 146.5,951.5 154.5,931.5 162.5,923.5 170.5,915.5 178.5,928.5 186.5,936.5 194.5,945.5 202.5,939.5 210.5,937.5 218.5,931.5 226.5,928.5 234.5,935.5 242.5,935.5 250.5,924.5 258.5,907.5 266.5,901.5 274.5,906.5 282.5,904.5 290.5,898.5 298.5,896.5 306.5,910.5 314.5,931.5 322.5,951.5 330.5,957.5 338.5,954.5 346.5,928.5 354.5,905.5 362.5,892.5 370.5,892.5 378.5,902.5 386.5,909.5 394.5,929.5 402.5,940.5 410.5,960.5 418.5,956.5 426.5,947.5 434.5,925.5 442.5,910.5 450.5,894.5 458.5,894.5 466.5,896.5 474.5,908.5 482.5,917.5 490.5,917.5 498.5,904.5 506.5,899.5 514.5,903.5 522.5,903.5 530.5,920.5 538.5,931.5 546.5,936.5 554.5,918.5 562.5,903.5 570.5,904.5 578.5,906.5 586.5,904.5 594.5,901.5 602.5,892.5 610.5,895.5 618.5,903.5 626.5,911.5 634.5,927.5 642.5,932.5 650.5,943.5 658.5,942.5 666.5,943.5 674.5,935.5 682.5,937.5 690.5,938.5 698.5,940.5 706.5,925.5 714.5,904.5 722.5,904.5 730.5,914.5 738.5,927.5 746.5,940.5 754.5,951.5 762.5,945.5 770.5,933.5 778.5,902.5 786.5,902.5 794.5,908.5 802.5,926.5 810.5,936.5 818.5,945.5 826.5,938.5 834.5,928.5 842.5,906.5 850.5,911.5 858.5,921.5 866.5,929.5 874.5,923.5 882.5,913.5 890.5,901.5 898.5,894.5 906.5,901.5 914.5,908.5 922.5,924.5 930.5,933.5 938.5,944.5 946.5,937.5 954.5,928.5 962.5,947.5 970.5,957.5 978.5,966.5 986.5,962.5 994.5,962.5 1002.5,948.5 1010.5,929.5 1018.5,897.5 1026.5,893.5 1034.5,894.5 1042.5,893.5 1050.5,908.5 1058.5,937.5 1066.5,959.5 1074.5,962.5 1082.5,963.5 1090.5,959.5 1098.5,952.5 1106.5,927.5 1114.5,907.5 1122.5,899.5 1130.5,907.5 1138.5,907.5 1146.5,906.5 1154.5,903.5 1162.5,908.5 1170.5,906.5 1178.5,902.5 1186.5,904.5 1194.5,906.5 1202.5,908.5 1210.5,911.5 1218.5,916.5 1226.5,912.5 1234.5,900.5 1242.5,891.5 1250.5,898.5 1258.5,906.5 1266.5,911.5 1274.5,933.5 1282.5,929.5 1290.5,938.5 1298.5,928.5 1306.5,926.5 1314.5,911.5 1322.5,897.5 1330.5,901.5 1338.5,922.5 1346.5,943.5 1354.5,944.5 1362.5,929.5 1370.5,915.5 1378.5,910.5 1386.5,920.5 1394.5,929.5 1402.5,931.5" fill="none" stroke="rgb(32,178,170)" stroke-width="1"/>
<polyline points="2.5,958.5 10.5,958.5 18.5,957.5 26.5,951.5 34.5,934.5 42.5,923.5 50.5,918.5 58.5,924.5 66.5,925.5 74.5,924.5 82.5,919.5 90.5,914.5 98.5,916.5 106.5,921.5 114.5,932.5 122.5,935.5 130.5,941.5 138.5,944.5 146.5,949.5 154.5,944.5 162.5,935.5 170.5,923.5 178.5,922.5 186.5,926.5 194.5,936.5 202.5,940.5 210.5,940.5 218.5,936.5 226.5,932.5 234.5,931.5 242.5,933.5 250.5,931.5 258.5,922.5 266.5,911.5 274.5,905.5 282.5,904.5 290.5,903.5 298.5,899.5 306.5,901.5 314.5,912.5 322.5,931.5 330.5,947.5 338.5,954.5 346.5,947.5 354.5,929.5 362.5,908.5 370.5,896.5 378.5,895.5 386.5,901.5 394.5,913.5 402.5,926.5 410.5,943.5 418.5,952.5 426.5,954.5 434.5,942.5 442.5,927.5 450.5,910.5 458.5,899.5 466.5,895.5 474.5,899.5 482.5,907.5 490.5,914.5 498.5,913.5 506.5,907.5 514.5,902.5 522.5,902.5 530.5,909.5 538.5,918.5 546.5,929.5 554.5,928.5 562.5,919.5 570.5,908.5 578.5,904.5 586.5,905.5 594.5,904.5 602.5,899.5 610.5,896.5 618.5,897.5 626.5,903.5 634.5,914.5 642.5,924.5 650.5,934.5 658.5,939.5 666.5,943.5 674.5,940.5 682.5,938.5 690.5,937.5 698.5,938.5 706.5,935.5 714.5,923.5 722.5,911.5 730.5,907.5 738.5,915.5 746.5,927.5 754.5,939.5 762.5,945.5 770.5,943.5 778.5,927.5 786.5,912.5 794.5,904.5 802.5,912.5 810.5,923.5 818.5,935.5 826.5,939.5 834.5,937.5 842.5,924.5 850.5,915.5 858.5,913.5 866.5,921.5 874.5,925.5 882.5,922.5 890.5,912.5 898.5,903.5 906.5,899.5 914.5,901.5 922.5,911.5 930.5,921.5 938.5,933.5 946.5,938.5 954.5,936.5 962.5,937.5 970.5,944.5 978.5,957.5 986.5,961.5 994.5,963.5 1002.5,957.5 1010.5,946.5 1018.5,925.5 1026.5,906.5 1034.5,894.5 1042.5,893.5 1050.5,898.5 1058.5,912.5 1066.5,935.5 1074.5,953.5 1082.5,961.5 1090.5,961.5 1098.5,958.5 1106.5,946.5 1114.5,929.5 1122.5,911.5 1130.5,904.5 1138.5,904.5 1146.5,906.5 1154.5,905.5 1162.5,906.5 1170.5,906.5 1178.5,905.5 1186.5,904.5 1194.5,904.5 1202.5,906.5 1210.5,908.5 1218.5,912.5 1226.5,913.5 1234.5,909.5 1242.5,901.5 1250.5,896.5 1258.5,898.5 1266.5,905.5 1274.5,917.5 1282.5,924.5 1290.5,933.5 1298.5,932.5 1306.5,931.5 1314.5,922.5 1322.5,911.5 1330.5,903.5 1338.5,906.5 1346.5,922.5 1354.5,936.5 1362.5,939.5 1370.5,929.5 1378.5,918.5 1386.5,915.5 1394.5,920.5 1402.5,927.5" fill="none" stroke="rgb(255,0,0)" stroke-width="1" stroke-dasharray="3 3"/>
</g>
<g clip-path="url(#csub3)">
<rect x="2" y="1006" width="1" height="16" fill="rgb(192,192,192)"/>
<rect x="10" y="1009" width="1" height="13" fill="rgb(192,192,192)"/>
<rect x="18" y="1010" width="1" height="12" fill="rgb(192,192,192)"/>
<rect x="26" y="1009" width="1" height="13" fill="rgb(192,192,192)"/>
<rect x="34" y="1010" width="1" height="12" fill="rgb(192,192,192)"/>
<rect x="42" y="1012" width="1" height="10" fill="rgb(192,192,192)"/>
<rect x="50" y="1013" width="1" height="9" fill="rgb(192,192,192)"/>
<rect x="58" y="1015" width="1" height="7" fill="rgb(192,192,192)"/>
<rect x="66" y="1015" width="1" height="7" fill="rgb(192,192,192)"/>
<rect x="74" y="1015" width="1" height="7" fill="rgb(192,192,192)"/>
<rect x="82" y="1017" width="1" height="5" fill="rgb(192,192,192)"/>
<rect x="90" y="1015" width="1" height="7" fill="rgb(192,192,192)"/>
<rect x="98" y="1018" width="1" height="4" fill="rgb(192,192,192)"/>
<rect x="106" y="1018" width="1" height="4" fill="rgb(192,192,192)"/>
<rect x="114" y="1019" width="1" height="3" fill="rgb(192,192,192)"/>
<rect x="122" y="1019" width="1" height="3" fill="rgb(192,192,192)"/>
<rect x="130" y="1021" width="1" height="1" fill="rgb(192,192,192)"/>
<rect x="146" y="1022" width="1" height="1" fill="rgb(192,192,192)"/>
<rect x="154" y="1020" width="1" height="2" fill="rgb(192,192,192)"/>
<rect x="162" y="1019" width="1" height="3" fill="rgb(192,192,192)"/>
<rect x="170" y="1017" width="1" height="5" fill="rgb(192,192,192)"/>
<rect x="178" y="1018" width="1" height="4" fill="rgb(192,192,192)"/>
<rect x="186" y="1019" width="1" height="3" fill="rgb(192,192,192)"/>
<rect x="194" y="1020" width="1" height="2" fill="rgb(192,192,192)"/>
<rect x="202" y="1020" width="1" height="2" fill="rgb(192,192,192)"/>
<rect x="218" y="1021" width="1" height="1" fill="rgb(192,192,192)"/>
<rect x="234" y="1022" width="1" height="2" fill="rgb(192,192,192)"/>
<rect x="242" y="1022" width="1" height="3" fill="rgb(192,192,192)"/>
<rect x="250" y="1022" width="1" height="1" fill="rgb(192,192,192)"/>
<rect x="266" y="1021" width="1" height="1" fill="rgb(192,192,192)"/>
<rect x="274" y="1021" width="1" height="1" fill="rgb(192,192,192)"/>
<rect x="282" y="1018" width="1" height="4" fill="rgb(192,192,192)"/>
<rect x="290" y="1013" width="1" height="9" fill="rgb(192,192,192)"/>
<rect x="298" y="1011" width="1" height="11" fill="rgb(192,192,192)"/>
<rect x="306" y="1011" width="1" height="11" fill="rgb(192,192,192)"/>
<rect x="314" y="1013" width="1" height="9" fill="rgb(192,192,192)"/>
<rect x="322" y="1016" width="1" height="6" fill="rgb(192,192,192)"/>
<rect x="330" y="1019" width="1" height="3" fill="rgb(192,192,192)"/>
<rect x="338" y="1020" width="1" height="2" fill="rgb(192,192,192)"/>
<rect x="346" y="1014" width="1" height="8" fill="rgb(192,192,192)"/>
<rect x="354" y="1006" width="1" height="16" fill="rgb(192,192,192)"/>
<rect x="362" y="998" width="1" height="24" fill="rgb(192,192,192)"/>
<rect x="370" y="992" width="1" height="30" fill="rgb(192,192,192)"/>
<rect x="378" y="991" width="1" height="31" fill="rgb(192,192,192)"/>
<rect x="386" y="988" width="1" height="34" fill="rgb(192,192,192)"/>
<rect x="394" y="988" width="1" height="34" fill="rgb(192,192,192)"/>
<rect x="402" y="989" width="1" height="33" fill="rgb(192,192,192)"/>
<rect x="410" y="993" width="1" height="29" fill="rgb(192,192,192)"/>
<rect x="418" y="995" width="1" height="27" fill="rgb(192,192,192)"/>
<rect x="426" y="997" width="1" height="25" fill="rgb(192,192,192)"/>
<rect x="434" y="996" width="1" height="26" fill="rgb(192,192,192)"/>
<rect x="442" y="995" width="1" height="27" fill="rgb(192,192,192)"/>
<rect x="450" y="994" width="1" height="28" fill="rgb(192,192,192)"/>
<rect x="458" y="992" width="1" height="30" fill="rgb(192,192,192)"/>
<rect x="466" y="991" width="1" height="31" fill="rgb(192,192,192)"/>
<rect x="474" y="992" width="1" height="30" fill="rgb(192,192,192)"/>
<rect x="482" y="993" width="1" height="29" fill="rgb(192,192,192)"/>
<rect x="490" y="990" width="1" height="32" fill="rgb(192,192,192)"/>
<rect x="498" y="988" width="1" height="34" fill="rgb(192,192,192)"/>
<rect x="506" y="987" width="1" height="35" fill="rgb(192,192,192)"/>
<rect x="514" y="987" width="1" height="35" fill="rgb(192,192,192)"/>
<rect x="522" y="987" width="1" height="35" fill="rgb(192,192,192)"/>
<rect x="530" y="990" width="1" height="32" fill="rgb(192,192,192)"/>
<rect x="538" y="991" width="1" height="31" fill="rgb(192,192,192)"/>
<rect x="546" y="991" width="1" height="31" fill="rgb(192,192,192)"/>
<rect x="554" y="991" width="1" height="31" fill="rgb(192,192,192)"/>
<rect x="562" y="990" width="1" height="32" fill="rgb(192,192,192)"/>
<rect x="570" y="991" width="1" height="31" fill="rgb(192,192,192)"/>
<rect x="578" y="991" width="1" height="31" fill="rgb(192,192,192)"/>
<rect x="586" y="990" width="1" height="32" fill="rgb(192,192,192)"/>
<rect x="594" y="989" width="1" height="33" fill="rgb(192,192,192)"/>
<rect x="602" y="985" width="1" height="37" fill="rgb(192,192,192)"/>
<rect x="610" y="982" width="1" height="40" fill="rgb(192,192,192)"/>
<rect x="618" y="982" width="1" height="40" fill="rgb(192,192,192)"/>
<rect x="626" y="981" width="1" height="41" fill="rgb(192,192,192)"/>
<rect x="634" y="983" width="1" height="39" fill="rgb(192,192,192)"/>
<rect x="642" y="984" width="1" height="38" fill="rgb(192,192,192)"/>
<rect x="650" y="986" width="1" height="36" fill="rgb(192,192,192)"/>
<rect x="658" y="988" width="1" height="34" fill="rgb(192,192,192)"/>
<rect x="666" y="991" width="1" height="31" fill="rgb(192,192,192)"/>
<rect x="674" y="993" width="1" height="29" fill="rgb(192,192,192)"/>
<rect x="682" y="997" width="1" height="25" fill="rgb(192,192,192)"/>
<rect x="690" y="1000" width="1" height="22" fill="rgb(192,192,192)"/>
<rect x="698" y="1003" width="1" height="19" fill="rgb(192,192,192)"/>
<rect x="706" y="1003" width="1" height="19" fill="rgb(192,192,192)"/>
<rect x="714" y="1002" width="1" height="20" fill="rgb(192,192,192)"/>
<rect x="722" y="1003" width="1" height="19" fill="rgb(192,192,192)"/>
<rect x="730" y="1005" width="1" height="17" fill="rgb(192,192,192)"/>
<rect x="738" y="1006" width="1" height="16" fill="rgb(192,192,192)"/>
<rect x="746" y="1009" width="1" height="13" fill="rgb(192,192,192)"/>
<rect x="754" y="1012" width="1" height="10" fill="rgb(192,192,192)"/>
<rect x="762" y="1013" width="1" height="9" fill="rgb(192,192,192)"/>
<rect x="770" y="1013" width="1" height="9" fill="rgb(192,192,192)"/>
<rect x="778" y="1009" width="1" height="13" fill="rgb(192,192,192)"/>
<rect x="786" y="1007" width="1" height="15" fill="rgb(192,192,192)"/>
<rect x="794" y="1008" width="1" height="14" fill="rgb(192,192,192)"/>
<rect x="802" y="1010" width="1" height="12" fill="rgb(192,192,192)"/>
<rect x="810" y="1009" width="1" height="13" fill="rgb(192,192,192)"/>
<rect x="818" y="1011" width="1" height="11" fill="rgb(192,192,192)"/>
<rect x="826" y="1011" width="1" height="11" fill="rgb(192,192,192)"/>
<rect x="834" y="1010" width="1" height="12" fill="rgb(192,192,192)"/>
<rect x="842" y="1010" width="1" height="12" fill="rgb(192,192,192)"/>
<rect x="850" y="1010" width="1" height="12" fill="rgb(192,192,192)"/>
<rect x="858" y="1011" width="1" height="11" fill="rgb(192,192,192)"/>
<rect x="866" y="1011" width="1" height="11" fill="rgb(192,192,192)"/>
<rect x="874" y="1011" width="1" height="11" fill="rgb(192,192,192)"/>
<rect x="882" y="1008" width="1" height="14" fill="rgb(192,192,192)"/>
<rect x="890" y="1006" width="1" height="16" fill="rgb(192,192,192)"/>
<rect x="898" y="1002" width="1" height="20" fill="rgb(192,192,192)"/>
<rect x="906" y="1001" width="1" height="21" fill="rgb(192,192,192)"/>
<rect x="914" y="1000" width="1" height="22" fill="rgb(192,192,192)"/>
<rect x="922" y="1000" width="1" height="22" fill="rgb(192,192,192)"/>
<rect x="930" y="1001" width="1" height="21" fill="rgb(192,192,192)"/>
<rect x="938" y="1002" width="1" height="20" fill="rgb(192,192,192)"/>
<rect x="946" y="1002" width="1" height="20" fill="rgb(192,192,192)"/>
<rect x="954" y="1002" width="1" height="20" fill="rgb(192,192,192)"/>
<rect x="962" y="1009" width="1" height="13" fill="rgb(192,192,192)"/>
<rect x="970" y="1018" width="1" height="4" fill="rgb(192,192,192)"/>
<rect x="978" y="1022" width="1" height="8" fill="rgb(192,192,192)"/>
<rect x="986" y="1022" width="1" height="14" fill="rgb(192,192,192)"/>
<rect x="994" y="1022" width="1" height="20" fill="rgb(192,192,192)"/>
<rect x="1002" y="1022" width="1" height="20" fill="rgb(192,192,192)"/>
<rect x="1010" y="1022" width="1" height="18" fill="rgb(192,192,192)"/>
<rect x="1018" y="1022" width="1" height="16" fill="rgb(192,192,192)"/>
<rect x="1026" y="1022" width="1" height="11" fill="rgb(192,192,192)"/>
<rect x="1034" y="1022" width="1" height="7" fill="rgb(192,192,192)"/>
<rect x="1042" y="1022" width="1" height="4" fill="rgb(192,192,192)"/>
<rect x="1050" y="1022" width="1" height="4" fill="rgb(192,192,192)"/>
<rect x="1058" y="1022" width="1" height="7" fill="rgb(192,192,192)"/>
<rect x="1066" y="1022" width="1" height="13" fill="rgb(192,192,192)"/>
<rect x="1074" y="1022" width="1" height="18" fill="rgb(192,192,192)"/>
<rect x="1082" y="1022" width="1" height="22" fill="rgb(192,192,192)"/>
<rect x="1090" y="1022" width="1" height="23" fill="rgb(192,192,192)"/>
<rect x="1098" y="1022" width="1" height="24" fill="rgb(192,192,192)"/>
<rect x="1106" y="1022" width="1" height="21" fill="rgb(192,192,192)"/>
<rect x="1114" y="1022" width="1" height="18" fill="rgb(192,192,192)"/>
<rect x="1122" y="1022" width="1" height="15" fill="rgb(192,192,192)"/>
<rect x="1130" y="1022" width="1" height="14" fill="rgb(192,192,192)"/>
<rect x="1138" y="1022" width="1" height="10" fill="rgb(192,192,192)"/>
<rect x="1146" y="1022" width="1" height="5" fill="rgb(192,192,192)"/>
<rect x="1154" y="1022" width="1" height="2" fill="rgb(192,192,192)"/>
<rect x="1170" y="1017" width="1" height="5" fill="rgb(192,192,192)"/>
<rect x="1178" y="1013" width="1" height="9" fill="rgb(192,192,192)"/>
<rect x="1186" y="1011" width="1" height="11" fill="rgb(192,192,192)"/>
<rect x="1194" y="1008" width="1" height="14" fill="rgb(192,192,192)"/>
<rect x="1202" y="1006" width="1" height="16" fill="rgb(192,192,192)"/>
<rect x="1210" y="1004" width="1" height="18" fill="rgb(192,192,192)"/>
<rect x="1218" y="1003" width="1" height="19" fill="rgb(192,192,192)"/>
<rect x="1226" y="1000" width="1" height="22" fill="rgb(192,192,192)"/>
<rect x="1234" y="996" width="1" height="26" fill="rgb(192,192,192)"/>
<rect x="1242" y="993" width="1" height="29" fill="rgb(192,192,192)"/>
<rect x="1250" y="992" width="1" height="30" fill="rgb(192,192,192)"/>
<rect x="1258" y="992" width="1" height="30" fill="rgb(192,192,192)"/>
<rect x="1266" y="991" width="1" height="31" fill="rgb(192,192,192)"/>
<rect x="1274" y="995" width="1" height="27" fill="rgb(192,192,192)"/>
<rect x="1282" y="995" width="1" height="27" fill="rgb(192,192,192)"/>
<rect x="1290" y="997" width="1" height="25" fill="rgb(192,192,192)"/>
<rect x="1298" y="999" width="1" height="23" fill="rgb(192,192,192)"/>
<rect x="1306" y="998" width="1" height="24" fill="rgb(192,192,192)"/>
<rect x="1314" y="997" width="1" height="25" fill="rgb(192,192,192)"/>
<rect x="1322" y="996" width="1" height="26" fill="rgb(192,192,192)"/>
<rect x="1330" y="996" width="1" height="26" fill="rgb(192,192,192)"/>
<rect x="1338" y="999" width="1" height="23" fill="rgb(192,192,192)"/>
<rect x="1346" y="1001" width="1" height="21" fill="rgb(192,192,192)"/>
<rect x="1354" y="1002" width="1" height="20" fill="rgb(192,192,192)"/>
<rect x="1362" y="1002" width="1" height="20" fill="rgb(192,192,192)"/>
<rect x="1370" y="1002" width="1" height="20" fill="rgb(192,192,192)"/>
<rect x="1378" y="1003" width="1" height="19" fill="rgb(192,192,192)"/>
<rect x="1386" y="1006" width="1" height="16" fill="rgb(192,192,192)"/>
<rect x="1394" y="1008" width="1" height="14" fill="rgb(192,192,192)"/>
<rect x="1402" y="1009" width="1" height="13" fill="rgb(192,192,192)"/>
<polyline points="2.5,1000.5 10.5,1001.5 18.5,1002.5 26.5,1004.5 34.5,1006.5 42.5,1008.5 50.5,1009.5 58.5,1010.5 66.5,1011.5 74.5,1012.5 82.5,1013.5 90.5,1014.5 98.5,1014.5 106.5,1015.5 114.5,1016.5 122.5,1017.5 130.5,1017.5 138.5,1018.5 146.5,1019.5 154.5,1019.5 162.5,1020.5 170.5,1020.5 178.5,1020.5 186.5,1020.5 194.5,1020.5 202.5,1020.5 210.5,1020.5 218.5,1020.5 226.5,1020.5 234.5,1020.5 242.5,1021.5 250.5,1022.5 258.5,1022.5 266.5,1022.5 274.5,1022.5 282.5,1022.5 290.5,1021.5 298.5,1020.5 306.5,1018.5 314.5,1017.5 322.5,1016.5 330.5,1016.5 338.5,1016.5 346.5,1015.5 354.5,1014.5 362.5,1012.5 370.5,1010.5 378.5,1008.5 386.5,1005.5 394.5,1002.5 402.5,999.5 410.5,996.5 418.5,993.5 426.5,992.5 434.5,992.5 442.5,992.5 450.5,993.5 458.5,993.5 466.5,993.5 474.5,994.5 482.5,994.5 490.5,993.5 498.5,992.5 506.5,991.5 514.5,990.5 522.5,990.5 530.5,989.5 538.5,989.5 546.5,989.5 554.5,989.5 562.5,989.5 570.5,989.5 578.5,990.5 586.5,990.5 594.5,991.5 602.5,990.5 610.5,989.5 618.5,988.5 626.5,987.5 634.5,986.5 642.5,985.5 650.5,985.5 658.5,984.5 666.5,985.5 674.5,985.5 682.5,987.5 690.5,989.5 698.5,992.5 706.5,994.5 714.5,996.5 722.5,998.5 730.5,1000.5 738.5,1001.5 746.5,1003.5 754.5,1005.5 762.5,1006.5 770.5,1007.5 778.5,1008.5 786.5,1009.5 794.5,1009.5 802.5,1010.5 810.5,1010.5 818.5,1010.5 826.5,1010.5 834.5,1010.5 842.5,1009.5 850.5,1010.5 858.5,1010.5 866.5,1010.5 874.5,1010.5 882.5,1010.5 890.5,1010.5 898.5,1009.5 906.5,1008.5 914.5,1007.5 922.5,1006.5 930.5,1004.5 938.5,1003.5 946.5,1002.5 954.5,1002.5 962.5,1002.5 970.5,1004.5 978.5,1007.5 986.5,1011.5 994.5,1016.5 1002.5,1020.5 1010.5,1025.5 1018.5,1029.5 1026.5,1032.5 1034.5,1034.5 1042.5,1035.5 1050.5,1035.5 1058.5,1034.5 1066.5,1033.5 1074.5,1033.5 1082.5,1033.5 1090.5,1034.5 1098.5,1036.5 1106.5,1037.5 1114.5,1039.5 1122.5,1040.5 1130.5,1041.5 1138.5,1041.5 1146.5,1039.5 1154.5,1037.5 1162.5,1034.5 1170.5,1031.5 1178.5,1028.5 1186.5,1025.5 1194.5,1021.5 1202.5,1018.5 1210.5,1015.5 1218.5,1012.5 1226.5,1009.5 1234.5,1006.5 1242.5,1004.5 1250.5,1001.5 1258.5,999.5 1266.5,998.5 1274.5,996.5 1282.5,995.5 1290.5,995.5 1298.5,995.5 1306.5,995.5 1314.5,995.5 1322.5,996.5 1330.5,996.5 1338.5,997.5 1346.5,998.5 1354.5,998.5 1362.5,999.5 1370.5,999.5 1378.5,1000.5 1386.5,1001.5 1394.5,1002.5 1402.5,1003.5" fill="none" stroke="rgb(255,0,0)" stroke-width="1" stroke-dasharray="3 3"/>
</g>
<rect x="2.5" y="2.5" width="1721" height="791" fill="none" stroke="#000"/>
<rect x="2.5" y="795.5" width="1721" height="91" fill="none" stroke="#000"/>
<rect x="2.5" y="888.5" width="1721" height="84" fill="none" stroke="#000"/>
<rect x="2.5" y="974.5" width="1721" height="79" fill="none" stroke="#000"/>
</svg></body></html>
